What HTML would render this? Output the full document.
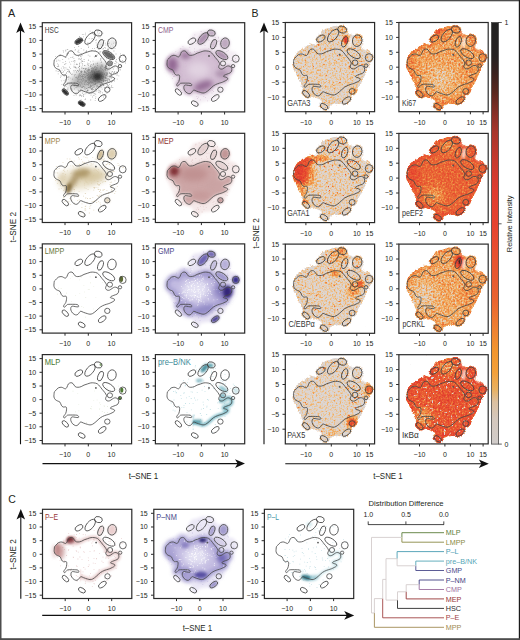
<!DOCTYPE html><html><head><meta charset="utf-8"><style>html,body{margin:0;padding:0;background:#fff;}svg{display:block;font-family:"Liberation Sans",sans-serif}</style></head><body>
<svg width="520" height="640" viewBox="0 0 520 640" font-family="Liberation Sans, sans-serif">
<defs>
<g id="ct" fill="none" stroke="#454545" stroke-width="0.8" color="#555"><path d="M11.7 40.0C11.8 39.2 11.8 38.1 12.0 37.5C12.2 36.9 12.3 37.0 13.0 36.3C13.7 35.6 14.9 33.9 16.0 33.3C17.1 32.7 18.4 32.6 19.5 32.7C20.6 32.9 22.0 34.2 22.9 34.2C23.8 34.2 24.2 33.3 24.7 32.5C25.2 31.7 25.4 30.1 26.0 29.4C26.6 28.7 27.8 28.2 28.6 28.1C29.4 28.0 30.0 28.4 30.7 29.0C31.4 29.6 32.1 31.4 32.9 32.0C33.7 32.6 34.5 32.7 35.5 32.7C36.5 32.7 37.9 32.4 38.9 32.0C39.9 31.6 40.7 30.9 41.7 30.5C42.7 30.1 43.9 29.8 45.0 29.4C46.1 29.0 47.4 28.5 48.5 28.3C49.6 28.1 50.4 28.2 51.5 28.3C52.6 28.4 54.0 28.6 55.0 29.2C56.0 29.8 56.7 30.8 57.5 31.7C58.3 32.6 59.1 33.8 59.9 34.8C60.7 35.8 61.7 36.8 62.4 37.8C63.1 38.8 64.0 40.1 64.2 40.9C64.4 41.7 63.8 42.2 63.6 42.8C63.5 43.4 63.1 44.0 63.3 44.6C63.5 45.2 64.1 45.9 64.8 46.2C65.5 46.5 66.5 46.5 67.3 46.2C68.1 45.9 69.0 45.1 69.8 44.6C70.6 44.1 71.4 43.4 72.2 43.3C73.0 43.1 74.0 43.3 74.7 43.7C75.4 44.1 76.0 44.7 76.2 45.5C76.5 46.3 76.5 47.5 76.2 48.3C76.0 49.1 75.5 49.7 74.7 50.2C73.9 50.7 72.6 51.0 71.6 51.4C70.6 51.8 69.4 52.2 68.8 52.6C68.2 53.0 67.9 53.5 68.2 53.8C68.5 54.1 69.7 54.2 70.4 54.5C71.1 54.8 72.0 55.0 72.2 55.4C72.5 55.8 72.3 56.4 71.9 56.9C71.5 57.4 70.6 57.8 69.8 58.2C69.0 58.6 68.0 59.1 67.3 59.4C66.6 59.7 66.3 59.7 65.5 60.0C64.7 60.3 63.5 60.5 62.3 61.0C61.0 61.5 59.4 62.2 58.0 63.2C56.6 64.2 55.0 66.0 53.7 67.1C52.4 68.2 51.2 69.2 50.2 69.7C49.2 70.2 48.5 70.3 47.6 70.3C46.7 70.3 46.1 70.0 45.0 69.7C43.9 69.4 42.2 68.8 41.1 68.4C40.0 68.0 39.1 67.3 38.5 67.3C37.9 67.3 37.7 67.9 37.2 68.4C36.7 68.9 36.1 70.1 35.5 70.5C34.9 70.9 34.2 71.2 33.3 71.0C32.4 70.8 31.1 70.0 30.3 69.2C29.5 68.4 28.9 67.1 28.6 66.2C28.3 65.3 28.4 64.2 28.6 63.6C28.8 63.0 29.2 62.4 29.9 62.3C30.6 62.1 31.9 62.6 32.9 62.7C33.9 62.8 35.3 63.1 35.9 63.0C36.5 62.9 36.5 62.3 36.3 61.9C36.1 61.5 35.9 60.9 34.6 60.6C33.3 60.4 30.2 60.4 28.6 60.4C27.0 60.4 25.9 60.4 25.1 60.6C24.3 60.9 24.3 61.5 23.8 61.9C23.3 62.3 22.5 63.2 22.1 63.3C21.7 63.4 21.2 62.8 21.2 62.3C21.2 61.8 21.7 61.2 22.1 60.6C22.5 60.0 23.0 59.7 23.4 58.8C23.8 57.9 24.1 56.5 24.2 55.4C24.3 54.3 24.4 52.9 23.8 52.4C23.2 51.9 21.6 52.7 20.8 52.4C20.0 52.1 19.5 51.4 19.0 50.6C18.5 49.8 18.3 48.3 17.7 47.6C17.1 46.9 15.9 46.7 15.1 46.3C14.3 45.9 13.6 45.6 13.0 45.0C12.4 44.4 11.9 43.3 11.7 42.5C11.5 41.7 11.6 40.8 11.7 40.0Z"/><ellipse cx="55.9" cy="10.3" rx="4.0" ry="3.0" transform="rotate(15 55.9 10.3)"/><ellipse cx="47.7" cy="15.8" rx="7.0" ry="3.5" transform="rotate(-50 47.7 15.8)"/><ellipse cx="36.5" cy="18.5" rx="4.3" ry="2.5" transform="rotate(-30 36.5 18.5)"/><ellipse cx="58.2" cy="21.5" rx="2.5" ry="5.0" transform="rotate(20 58.2 21.5)"/><ellipse cx="69.6" cy="20.5" rx="4.3" ry="5.3" transform="rotate(10 69.6 20.5)"/><ellipse cx="66.4" cy="32.4" rx="6.8" ry="3.2" transform="rotate(32 66.4 32.4)"/><ellipse cx="67.6" cy="40.7" rx="2.6" ry="2.5" transform="rotate(0 67.6 40.7)"/><ellipse cx="80.4" cy="36.0" rx="3.4" ry="3.6" transform="rotate(0 80.4 36.0)"/><ellipse cx="77.7" cy="43.4" rx="1.7" ry="1.6" transform="rotate(0 77.7 43.4)"/><ellipse cx="23.0" cy="69.3" rx="4.0" ry="2.1" transform="rotate(45 23.0 69.3)"/><ellipse cx="39.4" cy="80.9" rx="3.8" ry="2.2" transform="rotate(30 39.4 80.9)"/><ellipse cx="65.0" cy="67.0" rx="2.7" ry="2.6" transform="rotate(0 65.0 67.0)"/><ellipse cx="59.9" cy="75.3" rx="4.5" ry="2.3" transform="rotate(-35 59.9 75.3)"/><circle cx="53.6" cy="33.3" r="0.9" fill="currentColor" stroke="none"/></g>
<path id="cloud" d="M46.5 7.8C47.7 7.4 48.6 7.1 49.6 7.0C50.7 7.0 51.6 7.5 52.8 7.5C54.1 7.5 55.8 6.8 56.9 7.0C58.1 7.2 59.1 7.9 59.8 8.7C60.4 9.5 60.4 10.9 61.0 11.9C61.5 12.8 62.5 13.7 63.3 14.4C64.1 15.0 64.8 15.4 65.8 15.5C66.7 15.7 67.8 15.0 69.0 15.2C70.2 15.4 72.0 15.9 73.1 16.8C74.2 17.8 75.2 19.7 75.4 20.9C75.7 22.1 74.9 23.0 74.6 24.0C74.4 24.9 73.7 25.9 73.8 26.5C73.9 27.2 74.6 27.8 75.4 28.1C76.3 28.4 77.8 28.2 78.7 28.6C79.7 29.0 80.3 29.7 81.1 30.6C81.9 31.5 83.0 32.6 83.6 33.8C84.1 35.0 84.6 36.7 84.3 37.9C84.0 39.1 82.7 40.0 81.9 41.1C81.1 42.2 80.2 43.2 79.6 44.6C78.9 46.0 78.6 47.9 77.9 49.5C77.2 51.1 76.3 52.7 75.4 54.3C74.6 56.0 73.9 57.6 73.1 59.2C72.3 60.8 71.3 62.6 70.6 64.1C69.9 65.6 69.8 67.1 69.0 68.2C68.2 69.3 66.7 69.9 65.8 70.6C64.8 71.2 64.1 71.3 63.3 72.2C62.5 73.2 62.2 75.3 61.0 76.3C59.8 77.2 58.0 77.5 56.1 77.9C54.2 78.3 51.5 78.4 49.6 78.7C47.8 79.1 45.7 79.3 44.8 79.9C43.9 80.6 45.1 82.1 44.4 82.7C43.6 83.2 41.5 83.5 40.3 83.1C39.1 82.7 37.6 81.3 37.2 80.3C36.8 79.3 38.1 78.0 38.0 77.1C37.8 76.1 37.3 75.3 36.3 74.6C35.4 73.9 33.7 73.4 32.3 73.0C31.0 72.6 29.4 72.5 28.2 72.2C27.0 71.9 26.2 72.1 25.0 71.4C23.8 70.7 21.8 69.3 21.0 68.2C20.2 67.1 20.7 66.4 20.2 64.9C19.7 63.4 18.5 61.0 17.7 59.2C16.9 57.4 16.2 56.1 15.4 54.3C14.5 52.6 13.5 50.3 12.7 48.7C11.9 47.0 10.9 46.0 10.6 44.6C10.3 43.3 10.8 41.8 11.0 40.5C11.2 39.2 11.3 38.2 11.7 36.8C12.1 35.4 12.7 33.4 13.5 32.2C14.2 31.1 15.1 30.6 16.2 29.8C17.3 28.9 18.9 28.2 20.2 27.4C21.5 26.6 23.0 25.6 24.2 24.9C25.4 24.2 26.3 23.0 27.5 22.9C28.7 22.7 30.3 24.1 31.4 24.1C32.5 24.0 33.5 23.6 33.9 22.5C34.3 21.4 33.5 19.2 33.9 17.6C34.3 15.9 35.5 14.0 36.3 12.7C37.1 11.4 37.8 10.4 38.7 9.9C39.6 9.3 40.7 9.8 42.0 9.5C43.3 9.2 45.2 8.3 46.5 7.8Z"/>
<clipPath id="bodyclip"><path d="M11.7 40.0C11.8 39.2 11.8 38.1 12.0 37.5C12.2 36.9 12.3 37.0 13.0 36.3C13.7 35.6 14.9 33.9 16.0 33.3C17.1 32.7 18.4 32.6 19.5 32.7C20.6 32.9 22.0 34.2 22.9 34.2C23.8 34.2 24.2 33.3 24.7 32.5C25.2 31.7 25.4 30.1 26.0 29.4C26.6 28.7 27.8 28.2 28.6 28.1C29.4 28.0 30.0 28.4 30.7 29.0C31.4 29.6 32.1 31.4 32.9 32.0C33.7 32.6 34.5 32.7 35.5 32.7C36.5 32.7 37.9 32.4 38.9 32.0C39.9 31.6 40.7 30.9 41.7 30.5C42.7 30.1 43.9 29.8 45.0 29.4C46.1 29.0 47.4 28.5 48.5 28.3C49.6 28.1 50.4 28.2 51.5 28.3C52.6 28.4 54.0 28.6 55.0 29.2C56.0 29.8 56.7 30.8 57.5 31.7C58.3 32.6 59.1 33.8 59.9 34.8C60.7 35.8 61.7 36.8 62.4 37.8C63.1 38.8 64.0 40.1 64.2 40.9C64.4 41.7 63.8 42.2 63.6 42.8C63.5 43.4 63.1 44.0 63.3 44.6C63.5 45.2 64.1 45.9 64.8 46.2C65.5 46.5 66.5 46.5 67.3 46.2C68.1 45.9 69.0 45.1 69.8 44.6C70.6 44.1 71.4 43.4 72.2 43.3C73.0 43.1 74.0 43.3 74.7 43.7C75.4 44.1 76.0 44.7 76.2 45.5C76.5 46.3 76.5 47.5 76.2 48.3C76.0 49.1 75.5 49.7 74.7 50.2C73.9 50.7 72.6 51.0 71.6 51.4C70.6 51.8 69.4 52.2 68.8 52.6C68.2 53.0 67.9 53.5 68.2 53.8C68.5 54.1 69.7 54.2 70.4 54.5C71.1 54.8 72.0 55.0 72.2 55.4C72.5 55.8 72.3 56.4 71.9 56.9C71.5 57.4 70.6 57.8 69.8 58.2C69.0 58.6 68.0 59.1 67.3 59.4C66.6 59.7 66.3 59.7 65.5 60.0C64.7 60.3 63.5 60.5 62.3 61.0C61.0 61.5 59.4 62.2 58.0 63.2C56.6 64.2 55.0 66.0 53.7 67.1C52.4 68.2 51.2 69.2 50.2 69.7C49.2 70.2 48.5 70.3 47.6 70.3C46.7 70.3 46.1 70.0 45.0 69.7C43.9 69.4 42.2 68.8 41.1 68.4C40.0 68.0 39.1 67.3 38.5 67.3C37.9 67.3 37.7 67.9 37.2 68.4C36.7 68.9 36.1 70.1 35.5 70.5C34.9 70.9 34.2 71.2 33.3 71.0C32.4 70.8 31.1 70.0 30.3 69.2C29.5 68.4 28.9 67.1 28.6 66.2C28.3 65.3 28.4 64.2 28.6 63.6C28.8 63.0 29.2 62.4 29.9 62.3C30.6 62.1 31.9 62.6 32.9 62.7C33.9 62.8 35.3 63.1 35.9 63.0C36.5 62.9 36.5 62.3 36.3 61.9C36.1 61.5 35.9 60.9 34.6 60.6C33.3 60.4 30.2 60.4 28.6 60.4C27.0 60.4 25.9 60.4 25.1 60.6C24.3 60.9 24.3 61.5 23.8 61.9C23.3 62.3 22.5 63.2 22.1 63.3C21.7 63.4 21.2 62.8 21.2 62.3C21.2 61.8 21.7 61.2 22.1 60.6C22.5 60.0 23.0 59.7 23.4 58.8C23.8 57.9 24.1 56.5 24.2 55.4C24.3 54.3 24.4 52.9 23.8 52.4C23.2 51.9 21.6 52.7 20.8 52.4C20.0 52.1 19.5 51.4 19.0 50.6C18.5 49.8 18.3 48.3 17.7 47.6C17.1 46.9 15.9 46.7 15.1 46.3C14.3 45.9 13.6 45.6 13.0 45.0C12.4 44.4 11.9 43.3 11.7 42.5C11.5 41.7 11.6 40.8 11.7 40.0Z"/></clipPath>
<clipPath id="topclip"><polygon points="20,20 70,20 70,45 20,36"/></clipPath>
<clipPath id="lrclip"><polygon points="37,60 62,52 66,36 95,30 95,95 37,95"/></clipPath>
<clipPath id="pclip"><rect x="0" y="0" width="89.3" height="89.2"/></clipPath>
<filter id="b0_3" x="-100%" y="-100%" width="300%" height="300%"><feGaussianBlur stdDeviation="0.3"/></filter>
<filter id="b0_4" x="-100%" y="-100%" width="300%" height="300%"><feGaussianBlur stdDeviation="0.4"/></filter>
<filter id="b0_5" x="-100%" y="-100%" width="300%" height="300%"><feGaussianBlur stdDeviation="0.5"/></filter>
<filter id="b0_6" x="-100%" y="-100%" width="300%" height="300%"><feGaussianBlur stdDeviation="0.6"/></filter>
<filter id="b0_7" x="-100%" y="-100%" width="300%" height="300%"><feGaussianBlur stdDeviation="0.7"/></filter>
<filter id="b0_8" x="-100%" y="-100%" width="300%" height="300%"><feGaussianBlur stdDeviation="0.8"/></filter>
<filter id="b0_9" x="-100%" y="-100%" width="300%" height="300%"><feGaussianBlur stdDeviation="0.9"/></filter>
<filter id="b1" x="-100%" y="-100%" width="300%" height="300%"><feGaussianBlur stdDeviation="1"/></filter>
<filter id="b1_1" x="-100%" y="-100%" width="300%" height="300%"><feGaussianBlur stdDeviation="1.1"/></filter>
<filter id="b1_2" x="-100%" y="-100%" width="300%" height="300%"><feGaussianBlur stdDeviation="1.2"/></filter>
<filter id="b1_3" x="-100%" y="-100%" width="300%" height="300%"><feGaussianBlur stdDeviation="1.3"/></filter>
<filter id="b1_4" x="-100%" y="-100%" width="300%" height="300%"><feGaussianBlur stdDeviation="1.4"/></filter>
<filter id="b1_5" x="-100%" y="-100%" width="300%" height="300%"><feGaussianBlur stdDeviation="1.5"/></filter>
<filter id="b1_6" x="-100%" y="-100%" width="300%" height="300%"><feGaussianBlur stdDeviation="1.6"/></filter>
<filter id="b1_7" x="-100%" y="-100%" width="300%" height="300%"><feGaussianBlur stdDeviation="1.7"/></filter>
<filter id="b1_8" x="-100%" y="-100%" width="300%" height="300%"><feGaussianBlur stdDeviation="1.8"/></filter>
<filter id="b1_9" x="-100%" y="-100%" width="300%" height="300%"><feGaussianBlur stdDeviation="1.9"/></filter>
<filter id="b2" x="-100%" y="-100%" width="300%" height="300%"><feGaussianBlur stdDeviation="2"/></filter>
<filter id="b2_1" x="-100%" y="-100%" width="300%" height="300%"><feGaussianBlur stdDeviation="2.1"/></filter>
<filter id="b2_2" x="-100%" y="-100%" width="300%" height="300%"><feGaussianBlur stdDeviation="2.2"/></filter>
<filter id="b2_3" x="-100%" y="-100%" width="300%" height="300%"><feGaussianBlur stdDeviation="2.3"/></filter>
<filter id="b2_4" x="-100%" y="-100%" width="300%" height="300%"><feGaussianBlur stdDeviation="2.4"/></filter>
<filter id="b2_5" x="-100%" y="-100%" width="300%" height="300%"><feGaussianBlur stdDeviation="2.5"/></filter>
<filter id="b2_6" x="-100%" y="-100%" width="300%" height="300%"><feGaussianBlur stdDeviation="2.6"/></filter>
<filter id="b2_7" x="-100%" y="-100%" width="300%" height="300%"><feGaussianBlur stdDeviation="2.7"/></filter>
<filter id="b2_8" x="-100%" y="-100%" width="300%" height="300%"><feGaussianBlur stdDeviation="2.8"/></filter>
<filter id="b2_9" x="-100%" y="-100%" width="300%" height="300%"><feGaussianBlur stdDeviation="2.9"/></filter>
<filter id="b3" x="-100%" y="-100%" width="300%" height="300%"><feGaussianBlur stdDeviation="3"/></filter>
<filter id="b3_1" x="-100%" y="-100%" width="300%" height="300%"><feGaussianBlur stdDeviation="3.1"/></filter>
<filter id="b3_2" x="-100%" y="-100%" width="300%" height="300%"><feGaussianBlur stdDeviation="3.2"/></filter>
<filter id="b3_3" x="-100%" y="-100%" width="300%" height="300%"><feGaussianBlur stdDeviation="3.3"/></filter>
<filter id="b3_4" x="-100%" y="-100%" width="300%" height="300%"><feGaussianBlur stdDeviation="3.4"/></filter>
<filter id="b3_5" x="-100%" y="-100%" width="300%" height="300%"><feGaussianBlur stdDeviation="3.5"/></filter>
<filter id="b3_6" x="-100%" y="-100%" width="300%" height="300%"><feGaussianBlur stdDeviation="3.6"/></filter>
<filter id="b3_7" x="-100%" y="-100%" width="300%" height="300%"><feGaussianBlur stdDeviation="3.7"/></filter>
<filter id="b3_8" x="-100%" y="-100%" width="300%" height="300%"><feGaussianBlur stdDeviation="3.8"/></filter>
<filter id="b3_9" x="-100%" y="-100%" width="300%" height="300%"><feGaussianBlur stdDeviation="3.9"/></filter>
<filter id="b4" x="-100%" y="-100%" width="300%" height="300%"><feGaussianBlur stdDeviation="4"/></filter>
<filter id="b4_1" x="-100%" y="-100%" width="300%" height="300%"><feGaussianBlur stdDeviation="4.1"/></filter>
<filter id="b4_2" x="-100%" y="-100%" width="300%" height="300%"><feGaussianBlur stdDeviation="4.2"/></filter>
<filter id="b4_3" x="-100%" y="-100%" width="300%" height="300%"><feGaussianBlur stdDeviation="4.3"/></filter>
<filter id="b4_4" x="-100%" y="-100%" width="300%" height="300%"><feGaussianBlur stdDeviation="4.4"/></filter>
<filter id="b4_5" x="-100%" y="-100%" width="300%" height="300%"><feGaussianBlur stdDeviation="4.5"/></filter>
<filter id="b4_6" x="-100%" y="-100%" width="300%" height="300%"><feGaussianBlur stdDeviation="4.6"/></filter>
<filter id="b4_7" x="-100%" y="-100%" width="300%" height="300%"><feGaussianBlur stdDeviation="4.7"/></filter>
<filter id="b4_8" x="-100%" y="-100%" width="300%" height="300%"><feGaussianBlur stdDeviation="4.8"/></filter>
<filter id="b4_9" x="-100%" y="-100%" width="300%" height="300%"><feGaussianBlur stdDeviation="4.9"/></filter>
<filter id="b5" x="-100%" y="-100%" width="300%" height="300%"><feGaussianBlur stdDeviation="5"/></filter>
<filter id="b5_1" x="-100%" y="-100%" width="300%" height="300%"><feGaussianBlur stdDeviation="5.1"/></filter>
<filter id="b5_2" x="-100%" y="-100%" width="300%" height="300%"><feGaussianBlur stdDeviation="5.2"/></filter>
<filter id="b5_3" x="-100%" y="-100%" width="300%" height="300%"><feGaussianBlur stdDeviation="5.3"/></filter>
<filter id="b5_4" x="-100%" y="-100%" width="300%" height="300%"><feGaussianBlur stdDeviation="5.4"/></filter>
<filter id="b5_5" x="-100%" y="-100%" width="300%" height="300%"><feGaussianBlur stdDeviation="5.5"/></filter>
<filter id="b5_6" x="-100%" y="-100%" width="300%" height="300%"><feGaussianBlur stdDeviation="5.6"/></filter>
<filter id="b5_7" x="-100%" y="-100%" width="300%" height="300%"><feGaussianBlur stdDeviation="5.7"/></filter>
<filter id="b5_8" x="-100%" y="-100%" width="300%" height="300%"><feGaussianBlur stdDeviation="5.8"/></filter>
<filter id="b5_9" x="-100%" y="-100%" width="300%" height="300%"><feGaussianBlur stdDeviation="5.9"/></filter>
<filter id="b6" x="-100%" y="-100%" width="300%" height="300%"><feGaussianBlur stdDeviation="6"/></filter>
<clipPath id="cclip"><path d="M46.5 4.4C47.9 4.0 48.8 3.6 50.0 3.5C51.2 3.4 52.2 4.0 53.5 4.0C54.8 4.0 56.7 3.3 58.0 3.5C59.3 3.7 60.4 4.4 61.1 5.3C61.8 6.2 61.8 7.8 62.4 8.8C63.0 9.8 64.1 10.8 65.0 11.5C65.9 12.2 66.7 12.7 67.7 12.8C68.7 13.0 69.9 12.2 71.2 12.4C72.5 12.6 74.5 13.2 75.7 14.2C76.9 15.2 78.0 17.3 78.3 18.6C78.6 19.9 77.7 21.0 77.4 22.0C77.1 23.0 76.3 24.1 76.5 24.8C76.7 25.6 77.4 26.1 78.3 26.5C79.2 26.9 80.9 26.6 81.9 27.0C82.9 27.4 83.6 28.2 84.5 29.2C85.4 30.1 86.6 31.4 87.2 32.7C87.8 34.0 88.3 35.9 88.0 37.2C87.7 38.5 86.3 39.5 85.4 40.7C84.5 41.9 83.5 43.0 82.8 44.5C82.1 46.0 81.8 48.0 81.0 49.8C80.2 51.6 79.2 53.3 78.3 55.1C77.4 56.9 76.6 58.6 75.7 60.4C74.8 62.2 73.8 64.1 73.0 65.7C72.2 67.3 72.1 69.0 71.2 70.2C70.3 71.4 68.7 72.1 67.7 72.8C66.7 73.5 65.9 73.6 65.0 74.6C64.1 75.6 63.7 78.0 62.4 79.0C61.1 80.0 59.2 80.3 57.1 80.8C55.0 81.2 52.1 81.3 50.0 81.7C47.9 82.1 45.7 82.3 44.7 83.0C43.7 83.7 45.0 85.4 44.2 86.0C43.4 86.6 41.1 86.9 39.8 86.5C38.5 86.1 36.7 84.5 36.3 83.4C35.9 82.3 37.4 80.9 37.2 79.9C37.1 78.9 36.4 77.9 35.4 77.2C34.4 76.5 32.5 75.9 31.0 75.5C29.5 75.1 27.8 74.9 26.5 74.6C25.2 74.3 24.3 74.4 23.0 73.7C21.7 73.0 19.5 71.4 18.6 70.2C17.7 69.0 18.3 68.2 17.7 66.6C17.1 65.0 15.9 62.3 15.0 60.4C14.1 58.5 13.3 57.0 12.4 55.1C11.5 53.2 10.4 50.7 9.5 48.9C8.6 47.1 7.5 46.0 7.2 44.5C6.9 43.0 7.4 41.4 7.6 40.0C7.8 38.6 8.0 37.5 8.4 36.0C8.9 34.5 9.5 32.3 10.3 31.0C11.1 29.7 12.1 29.2 13.3 28.3C14.5 27.4 16.2 26.6 17.7 25.7C19.2 24.8 20.8 23.8 22.1 23.0C23.4 22.2 24.4 20.9 25.7 20.8C27.0 20.7 28.8 22.2 30.0 22.1C31.2 22.0 32.2 21.6 32.7 20.4C33.2 19.2 32.2 16.8 32.7 15.0C33.2 13.2 34.5 11.1 35.4 9.7C36.3 8.3 37.0 7.2 38.0 6.6C39.0 6.0 40.2 6.6 41.6 6.2C43.0 5.8 45.1 4.9 46.5 4.4Z"/><ellipse cx="56.9" cy="7.1" rx="5.7" ry="4.6" transform="rotate(15 56.9 7.1)"/><ellipse cx="47.9" cy="13.1" rx="9.0" ry="5.1" transform="rotate(-50 47.9 13.1)"/><ellipse cx="35.6" cy="16.0" rx="6.0" ry="4.0" transform="rotate(-30 35.6 16.0)"/><ellipse cx="59.4" cy="19.3" rx="4.0" ry="6.8" transform="rotate(20 59.4 19.3)"/><ellipse cx="71.9" cy="18.2" rx="6.0" ry="7.1" transform="rotate(10 71.9 18.2)"/><ellipse cx="68.4" cy="31.2" rx="8.7" ry="4.8" transform="rotate(32 68.4 31.2)"/><ellipse cx="69.7" cy="40.2" rx="4.1" ry="4.0" transform="rotate(0 69.7 40.2)"/><ellipse cx="83.7" cy="35.1" rx="5.0" ry="5.2" transform="rotate(0 83.7 35.1)"/><ellipse cx="80.8" cy="43.2" rx="3.2" ry="3.0" transform="rotate(0 80.8 43.2)"/><ellipse cx="20.8" cy="71.4" rx="5.7" ry="3.6" transform="rotate(45 20.8 71.4)"/><ellipse cx="38.8" cy="84.1" rx="5.5" ry="3.7" transform="rotate(30 38.8 84.1)"/><ellipse cx="66.8" cy="68.9" rx="4.3" ry="4.1" transform="rotate(0 66.8 68.9)"/><ellipse cx="61.2" cy="78.0" rx="6.2" ry="3.8" transform="rotate(-35 61.2 78.0)"/></clipPath>
<filter id="hm" x="0" y="0" width="100%" height="100%" color-interpolation-filters="sRGB"><feTurbulence type="fractalNoise" baseFrequency="0.55" numOctaves="2" seed="4" result="n"/><feColorMatrix in="n" type="matrix" values="1 0 0 0 0 1 0 0 0 0 1 0 0 0 0 0 0 0 0 1" result="ng"/><feComposite in="SourceGraphic" in2="ng" operator="arithmetic" k2="1" k3="0.50" k4="-0.250" result="s"/><feComponentTransfer in="s" result="c0"><feFuncR type="table" tableValues="0.855 0.871 0.886 0.906 0.925 0.933 0.941 0.945 0.949 0.943 0.938 0.932 0.925 0.918 0.913 0.912 0.912 0.911 0.910 0.907 0.904 0.900 0.893 0.886 0.878 0.845 0.811 0.775 0.731 0.686 0.634 0.572 0.510 0.412 0.314 0.243 0.191 0.148 0.143 0.138 0.133"/><feFuncG type="table" tableValues="0.843 0.829 0.816 0.796 0.776 0.741 0.706 0.667 0.627 0.587 0.546 0.506 0.465 0.424 0.392 0.373 0.353 0.333 0.314 0.296 0.277 0.261 0.252 0.244 0.235 0.232 0.230 0.226 0.221 0.215 0.207 0.193 0.180 0.164 0.148 0.139 0.136 0.133 0.133 0.133 0.133"/><feFuncB type="table" tableValues="0.843 0.802 0.761 0.675 0.588 0.518 0.447 0.380 0.314 0.289 0.263 0.241 0.230 0.218 0.210 0.204 0.199 0.194 0.188 0.187 0.185 0.185 0.186 0.187 0.188 0.185 0.183 0.180 0.177 0.174 0.169 0.159 0.149 0.136 0.123 0.122 0.128 0.133 0.133 0.133 0.133"/></feComponentTransfer><feMerge result="c"><feMergeNode in="c0"/></feMerge><feGaussianBlur in="SourceAlpha" stdDeviation="1.4" result="ab"/><feColorMatrix in="n" type="matrix" values="0 0 0 0 0 0 0 0 0 0 0 0 0 0 0 0 1 0 0 0" result="na"/><feComposite in="ab" in2="na" operator="arithmetic" k2="1" k3="1.2" k4="-0.6" result="ar"/><feComponentTransfer in="ar" result="am"><feFuncA type="linear" slope="6" intercept="-2.4"/></feComponentTransfer><feComposite in="c" in2="am" operator="in"/></filter>
<filter id="hmr" x="0" y="0" width="100%" height="100%" color-interpolation-filters="sRGB"><feTurbulence type="fractalNoise" baseFrequency="0.55" numOctaves="2" seed="4" result="n"/><feColorMatrix in="n" type="matrix" values="1 0 0 0 0 1 0 0 0 0 1 0 0 0 0 0 0 0 0 1" result="ng"/><feComposite in="SourceGraphic" in2="ng" operator="arithmetic" k2="1" k3="0.70" k4="-0.350" result="s"/><feComponentTransfer in="s" result="c0"><feFuncR type="table" tableValues="0.855 0.871 0.886 0.906 0.925 0.933 0.941 0.945 0.949 0.943 0.938 0.932 0.925 0.918 0.913 0.912 0.912 0.911 0.910 0.907 0.904 0.900 0.893 0.886 0.878 0.845 0.811 0.775 0.731 0.686 0.634 0.572 0.510 0.412 0.314 0.243 0.191 0.148 0.143 0.138 0.133"/><feFuncG type="table" tableValues="0.843 0.829 0.816 0.796 0.776 0.741 0.706 0.667 0.627 0.587 0.546 0.506 0.465 0.424 0.392 0.373 0.353 0.333 0.314 0.296 0.277 0.261 0.252 0.244 0.235 0.232 0.230 0.226 0.221 0.215 0.207 0.193 0.180 0.164 0.148 0.139 0.136 0.133 0.133 0.133 0.133"/><feFuncB type="table" tableValues="0.843 0.802 0.761 0.675 0.588 0.518 0.447 0.380 0.314 0.289 0.263 0.241 0.230 0.218 0.210 0.204 0.199 0.194 0.188 0.187 0.185 0.185 0.186 0.187 0.188 0.185 0.183 0.180 0.177 0.174 0.169 0.159 0.149 0.136 0.123 0.122 0.128 0.133 0.133 0.133 0.133"/></feComponentTransfer><feTurbulence type="fractalNoise" baseFrequency="0.4" numOctaves="2" seed="9" result="n2"/><feColorMatrix in="n2" type="matrix" values="0 0 0 0 0 0 0 0 0 0 0 0 0 0 0 1 0 0 0 0" result="nb"/><feComponentTransfer in="nb" result="gm"><feFuncA type="linear" slope="12" intercept="-8.04"/></feComponentTransfer><feFlood flood-color="#dcd9d9" result="gf"/><feComposite in="gf" in2="gm" operator="in" result="gp"/><feMerge result="c"><feMergeNode in="c0"/><feMergeNode in="gp"/></feMerge><feGaussianBlur in="SourceAlpha" stdDeviation="1.4" result="ab"/><feColorMatrix in="n" type="matrix" values="0 0 0 0 0 0 0 0 0 0 0 0 0 0 0 0 1 0 0 0" result="na"/><feComposite in="ab" in2="na" operator="arithmetic" k2="1" k3="1.2" k4="-0.6" result="ar"/><feComponentTransfer in="ar" result="am"><feFuncA type="linear" slope="6" intercept="-2.4"/></feComponentTransfer><feComposite in="c" in2="am" operator="in"/></filter>
</defs>
<rect width="520" height="640" fill="#fff"/>
<rect x="0" y="0" width="1.5" height="640" fill="#4d4d4d"/><rect x="0" y="0" width="520" height="1.3" fill="#4d4d4d"/>
<rect x="518.8" y="0" width="1.2" height="640" fill="#1a1a1a"/><rect x="0" y="638.2" width="520" height="1.8" fill="#4d4d4d"/>
<text x="7.9" y="17.0" font-size="10.80" fill="#231f20">A</text>
<text x="251.6" y="16.7" font-size="10.50" fill="#231f20">B</text>
<text x="8.2" y="503.1" font-size="10.50" fill="#231f20">C</text>
<g transform="translate(42.3 22.7)"><g clip-path="url(#pclip)"><path d="M43.5 52.6h0.8v0.8h-0.8zM48.2 54.9h0.8v0.8h-0.8zM20.7 48.5h0.8v0.8h-0.8zM58.5 72.4h0.8v0.8h-0.8zM60.6 57.3h0.8v0.8h-0.8zM49.9 10.1h0.8v0.8h-0.8zM42.4 76.6h0.8v0.8h-0.8zM49.1 59.4h0.8v0.8h-0.8zM47.5 61.3h0.8v0.8h-0.8zM43.9 28.6h0.8v0.8h-0.8zM31.8 24.5h0.8v0.8h-0.8zM70.1 39.0h0.8v0.8h-0.8zM77.0 37.9h0.8v0.8h-0.8zM71.2 27.9h0.8v0.8h-0.8zM72.7 20.1h0.8v0.8h-0.8zM52.5 43.0h0.8v0.8h-0.8zM21.2 67.2h0.8v0.8h-0.8zM14.9 40.8h0.8v0.8h-0.8zM23.1 27.9h0.8v0.8h-0.8zM22.9 38.5h0.8v0.8h-0.8zM23.1 27.0h0.8v0.8h-0.8zM70.7 33.0h0.8v0.8h-0.8zM25.7 56.1h0.8v0.8h-0.8zM36.6 43.5h0.8v0.8h-0.8zM40.8 13.8h0.8v0.8h-0.8zM25.3 64.9h0.8v0.8h-0.8zM55.7 29.9h0.8v0.8h-0.8zM52.5 77.5h0.8v0.8h-0.8zM57.2 28.8h0.8v0.8h-0.8zM42.9 10.1h0.8v0.8h-0.8zM20.0 36.3h0.8v0.8h-0.8zM53.6 16.2h0.8v0.8h-0.8zM63.8 54.7h0.8v0.8h-0.8zM46.0 67.1h0.8v0.8h-0.8zM67.7 64.8h0.8v0.8h-0.8zM34.9 63.2h0.8v0.8h-0.8zM40.5 72.2h0.8v0.8h-0.8zM58.1 37.5h0.8v0.8h-0.8zM54.5 56.8h0.8v0.8h-0.8zM66.9 38.0h0.8v0.8h-0.8zM67.5 54.4h0.8v0.8h-0.8zM42.4 76.3h0.8v0.8h-0.8zM45.9 24.6h0.8v0.8h-0.8zM64.4 47.3h0.8v0.8h-0.8zM30.6 62.6h0.8v0.8h-0.8zM42.6 80.8h0.8v0.8h-0.8zM32.8 61.6h0.8v0.8h-0.8zM21.9 41.6h0.8v0.8h-0.8zM79.8 37.7h0.8v0.8h-0.8zM54.6 31.9h0.8v0.8h-0.8zM16.6 47.2h0.8v0.8h-0.8zM43.3 28.4h0.8v0.8h-0.8zM23.2 40.2h0.8v0.8h-0.8zM58.2 47.0h0.8v0.8h-0.8zM65.2 53.5h0.8v0.8h-0.8zM31.3 72.3h0.8v0.8h-0.8zM58.5 43.0h0.8v0.8h-0.8zM58.5 60.7h0.8v0.8h-0.8zM63.2 21.9h0.8v0.8h-0.8zM45.4 20.2h0.8v0.8h-0.8zM65.7 20.2h0.8v0.8h-0.8zM28.2 34.4h0.8v0.8h-0.8zM64.3 49.2h0.8v0.8h-0.8zM57.2 69.3h0.8v0.8h-0.8zM38.4 72.3h0.8v0.8h-0.8zM16.0 43.6h0.8v0.8h-0.8zM37.0 53.3h0.8v0.8h-0.8zM60.4 22.4h0.8v0.8h-0.8zM59.5 66.0h0.8v0.8h-0.8zM50.6 72.2h0.8v0.8h-0.8zM77.7 34.6h0.8v0.8h-0.8zM12.0 42.5h0.8v0.8h-0.8zM51.8 70.3h0.8v0.8h-0.8zM73.0 19.7h0.8v0.8h-0.8zM33.5 72.0h0.8v0.8h-0.8zM48.9 66.5h0.8v0.8h-0.8zM23.8 49.8h0.8v0.8h-0.8zM29.7 67.0h0.8v0.8h-0.8zM59.3 49.4h0.8v0.8h-0.8zM31.5 37.4h0.8v0.8h-0.8zM53.7 22.1h0.8v0.8h-0.8zM50.6 47.8h0.8v0.8h-0.8zM56.4 7.4h0.8v0.8h-0.8zM39.0 73.1h0.8v0.8h-0.8zM52.8 46.7h0.8v0.8h-0.8zM50.8 40.2h0.8v0.8h-0.8zM27.9 45.2h0.8v0.8h-0.8zM15.8 41.9h0.8v0.8h-0.8zM45.5 32.0h0.8v0.8h-0.8zM21.3 57.5h0.8v0.8h-0.8zM63.4 32.4h0.8v0.8h-0.8zM35.2 57.7h0.8v0.8h-0.8zM15.4 48.4h0.8v0.8h-0.8zM50.1 42.1h0.8v0.8h-0.8zM36.9 40.1h0.8v0.8h-0.8zM50.0 18.6h0.8v0.8h-0.8zM22.4 58.7h0.8v0.8h-0.8zM59.3 50.0h0.8v0.8h-0.8zM81.7 31.8h0.8v0.8h-0.8zM25.3 66.8h0.8v0.8h-0.8zM75.7 40.8h0.8v0.8h-0.8zM39.2 63.2h0.8v0.8h-0.8zM48.0 69.4h0.8v0.8h-0.8zM47.7 63.3h0.8v0.8h-0.8zM51.9 48.8h0.8v0.8h-0.8zM53.3 17.5h0.8v0.8h-0.8zM44.3 70.0h0.8v0.8h-0.8zM32.8 44.7h0.8v0.8h-0.8zM48.8 41.6h0.8v0.8h-0.8zM20.4 43.6h0.8v0.8h-0.8zM67.8 39.5h0.8v0.8h-0.8zM58.5 39.4h0.8v0.8h-0.8zM56.0 47.9h0.8v0.8h-0.8zM74.2 39.5h0.8v0.8h-0.8zM64.1 70.2h0.8v0.8h-0.8zM70.0 39.5h0.8v0.8h-0.8zM34.0 44.9h0.8v0.8h-0.8zM59.3 58.0h0.8v0.8h-0.8zM61.6 33.7h0.8v0.8h-0.8zM61.1 53.4h0.8v0.8h-0.8zM50.3 38.1h0.8v0.8h-0.8zM64.6 69.7h0.8v0.8h-0.8zM57.3 67.8h0.8v0.8h-0.8zM26.8 39.1h0.8v0.8h-0.8zM36.9 13.4h0.8v0.8h-0.8zM51.8 48.2h0.8v0.8h-0.8zM55.8 69.5h0.8v0.8h-0.8zM18.6 45.1h0.8v0.8h-0.8zM19.4 47.1h0.8v0.8h-0.8zM56.9 10.0h0.8v0.8h-0.8zM49.8 55.8h0.8v0.8h-0.8zM36.1 29.3h0.8v0.8h-0.8zM60.7 52.7h0.8v0.8h-0.8zM29.1 65.9h0.8v0.8h-0.8zM41.5 45.6h0.8v0.8h-0.8zM66.4 44.8h0.8v0.8h-0.8zM56.3 14.8h0.8v0.8h-0.8zM58.1 43.7h0.8v0.8h-0.8zM49.9 15.6h0.8v0.8h-0.8zM42.6 61.8h0.8v0.8h-0.8zM43.7 27.3h0.8v0.8h-0.8zM54.5 40.7h0.8v0.8h-0.8zM71.1 50.1h0.8v0.8h-0.8zM67.4 25.3h0.8v0.8h-0.8zM71.7 58.1h0.8v0.8h-0.8zM35.5 28.1h0.8v0.8h-0.8zM63.2 53.0h0.8v0.8h-0.8zM55.3 58.8h0.8v0.8h-0.8zM69.0 21.1h0.8v0.8h-0.8zM28.0 41.1h0.8v0.8h-0.8zM58.0 13.7h0.8v0.8h-0.8zM51.0 11.2h0.8v0.8h-0.8zM51.8 58.6h0.8v0.8h-0.8zM36.7 45.7h0.8v0.8h-0.8zM22.9 34.2h0.8v0.8h-0.8zM70.3 23.1h0.8v0.8h-0.8zM41.1 26.9h0.8v0.8h-0.8zM73.8 36.4h0.8v0.8h-0.8zM32.7 51.6h0.8v0.8h-0.8zM41.4 36.4h0.8v0.8h-0.8zM53.0 46.2h0.8v0.8h-0.8zM63.3 30.4h0.8v0.8h-0.8zM23.1 61.3h0.8v0.8h-0.8zM66.6 64.0h0.8v0.8h-0.8zM35.4 66.7h0.8v0.8h-0.8zM36.1 15.0h0.8v0.8h-0.8zM65.3 53.4h0.8v0.8h-0.8zM73.3 30.9h0.8v0.8h-0.8zM32.0 39.0h0.8v0.8h-0.8zM26.1 35.7h0.8v0.8h-0.8zM36.1 35.9h0.8v0.8h-0.8zM38.6 37.9h0.8v0.8h-0.8zM21.6 52.9h0.8v0.8h-0.8zM72.8 50.9h0.8v0.8h-0.8zM76.1 52.8h0.8v0.8h-0.8zM51.3 53.2h0.8v0.8h-0.8zM51.5 72.0h0.8v0.8h-0.8zM60.2 25.9h0.8v0.8h-0.8zM23.7 70.1h0.8v0.8h-0.8zM49.3 70.0h0.8v0.8h-0.8zM38.5 33.7h0.8v0.8h-0.8zM47.0 50.7h0.8v0.8h-0.8zM66.3 65.2h0.8v0.8h-0.8zM82.8 39.9h0.8v0.8h-0.8zM49.5 65.4h0.8v0.8h-0.8zM73.2 40.8h0.8v0.8h-0.8zM40.7 17.4h0.8v0.8h-0.8zM36.9 19.3h0.8v0.8h-0.8zM22.4 41.1h0.8v0.8h-0.8zM71.0 20.3h0.8v0.8h-0.8zM25.0 66.0h0.8v0.8h-0.8zM55.6 24.0h0.8v0.8h-0.8zM20.7 28.9h0.8v0.8h-0.8zM31.5 51.6h0.8v0.8h-0.8zM74.5 45.8h0.8v0.8h-0.8zM82.7 34.1h0.8v0.8h-0.8zM46.0 23.8h0.8v0.8h-0.8zM73.1 37.7h0.8v0.8h-0.8zM49.8 48.8h0.8v0.8h-0.8zM60.9 25.2h0.8v0.8h-0.8zM36.6 72.7h0.8v0.8h-0.8zM65.6 56.5h0.8v0.8h-0.8zM32.4 27.1h0.8v0.8h-0.8zM27.7 50.4h0.8v0.8h-0.8zM45.8 44.8h0.8v0.8h-0.8zM77.9 30.8h0.8v0.8h-0.8zM72.1 40.4h0.8v0.8h-0.8zM51.2 49.7h0.8v0.8h-0.8zM31.5 31.4h0.8v0.8h-0.8zM44.7 65.8h0.8v0.8h-0.8zM35.6 63.4h0.8v0.8h-0.8zM14.0 38.5h0.8v0.8h-0.8zM65.4 25.2h0.8v0.8h-0.8zM52.9 43.9h0.8v0.8h-0.8zM73.0 22.6h0.8v0.8h-0.8zM57.4 29.7h0.8v0.8h-0.8zM37.0 50.9h0.8v0.8h-0.8zM30.3 33.7h0.8v0.8h-0.8zM38.3 61.7h0.8v0.8h-0.8zM67.2 33.0h0.8v0.8h-0.8zM66.5 33.2h0.8v0.8h-0.8zM62.6 65.2h0.8v0.8h-0.8zM20.3 39.2h0.8v0.8h-0.8zM39.6 11.2h0.8v0.8h-0.8zM48.5 60.0h0.8v0.8h-0.8zM37.8 33.2h0.8v0.8h-0.8zM39.1 64.5h0.8v0.8h-0.8zM61.1 56.7h0.8v0.8h-0.8zM34.1 60.3h0.8v0.8h-0.8zM14.0 37.1h0.8v0.8h-0.8zM48.3 72.0h0.8v0.8h-0.8zM35.0 47.5h0.8v0.8h-0.8zM58.3 21.8h0.8v0.8h-0.8zM54.0 64.3h0.8v0.8h-0.8zM35.7 44.4h0.8v0.8h-0.8zM51.2 52.7h0.8v0.8h-0.8zM52.6 27.5h0.8v0.8h-0.8zM74.5 56.1h0.8v0.8h-0.8zM25.5 53.8h0.8v0.8h-0.8zM51.6 11.5h0.8v0.8h-0.8zM61.0 31.2h0.8v0.8h-0.8zM62.1 67.7h0.8v0.8h-0.8zM37.4 55.3h0.8v0.8h-0.8zM22.0 44.8h0.8v0.8h-0.8zM17.2 37.8h0.8v0.8h-0.8zM53.4 19.8h0.8v0.8h-0.8zM49.2 27.4h0.8v0.8h-0.8zM53.3 33.2h0.8v0.8h-0.8zM62.0 17.3h0.8v0.8h-0.8zM44.9 40.0h0.8v0.8h-0.8zM58.0 63.6h0.8v0.8h-0.8zM39.8 41.9h0.8v0.8h-0.8zM49.7 49.6h0.8v0.8h-0.8zM41.7 81.9h0.8v0.8h-0.8zM67.2 55.8h0.8v0.8h-0.8zM68.9 30.9h0.8v0.8h-0.8zM55.4 10.9h0.8v0.8h-0.8zM15.6 43.0h0.8v0.8h-0.8zM47.7 38.7h0.8v0.8h-0.8zM49.7 25.3h0.8v0.8h-0.8zM31.0 38.6h0.8v0.8h-0.8zM40.8 73.4h0.8v0.8h-0.8zM23.9 68.5h0.8v0.8h-0.8zM15.5 50.7h0.8v0.8h-0.8zM25.7 30.4h0.8v0.8h-0.8zM38.8 35.3h0.8v0.8h-0.8zM54.8 8.9h0.8v0.8h-0.8zM31.2 47.4h0.8v0.8h-0.8zM45.2 22.6h0.8v0.8h-0.8zM76.2 35.1h0.8v0.8h-0.8zM45.2 19.6h0.8v0.8h-0.8zM22.2 58.8h0.8v0.8h-0.8zM66.7 31.6h0.8v0.8h-0.8zM65.6 16.5h0.8v0.8h-0.8zM42.8 11.7h0.8v0.8h-0.8zM24.0 31.1h0.8v0.8h-0.8zM65.4 21.7h0.8v0.8h-0.8zM61.5 72.2h0.8v0.8h-0.8zM36.7 61.3h0.8v0.8h-0.8zM24.5 30.6h0.8v0.8h-0.8zM28.5 59.4h0.8v0.8h-0.8zM42.4 49.9h0.8v0.8h-0.8zM50.1 8.9h0.8v0.8h-0.8zM56.0 29.2h0.8v0.8h-0.8zM69.2 25.9h0.8v0.8h-0.8zM28.7 51.6h0.8v0.8h-0.8zM44.2 68.8h0.8v0.8h-0.8zM47.5 20.3h0.8v0.8h-0.8zM52.3 59.8h0.8v0.8h-0.8zM35.6 61.0h0.8v0.8h-0.8zM71.6 48.9h0.8v0.8h-0.8zM48.0 76.9h0.8v0.8h-0.8zM63.2 49.2h0.8v0.8h-0.8zM71.3 19.0h0.8v0.8h-0.8zM56.7 25.0h0.8v0.8h-0.8zM42.4 70.7h0.8v0.8h-0.8zM25.1 46.6h0.8v0.8h-0.8zM23.8 54.3h0.8v0.8h-0.8zM47.4 8.0h0.8v0.8h-0.8zM55.7 65.8h0.8v0.8h-0.8zM41.9 42.5h0.8v0.8h-0.8zM53.4 51.2h0.8v0.8h-0.8zM72.3 25.2h0.8v0.8h-0.8zM17.4 31.4h0.8v0.8h-0.8zM57.8 49.7h0.8v0.8h-0.8zM27.5 55.0h0.8v0.8h-0.8zM36.0 23.4h0.8v0.8h-0.8zM46.6 69.7h0.8v0.8h-0.8zM43.7 68.3h0.8v0.8h-0.8zM38.4 30.3h0.8v0.8h-0.8zM41.1 11.5h0.8v0.8h-0.8zM24.5 26.5h0.8v0.8h-0.8zM51.9 25.5h0.8v0.8h-0.8zM35.9 33.6h0.8v0.8h-0.8zM60.2 10.0h0.8v0.8h-0.8zM34.2 64.0h0.8v0.8h-0.8zM38.4 76.7h0.8v0.8h-0.8zM37.4 71.4h0.8v0.8h-0.8zM23.3 34.5h0.8v0.8h-0.8zM20.6 51.7h0.8v0.8h-0.8zM23.2 44.8h0.8v0.8h-0.8zM31.2 43.0h0.8v0.8h-0.8zM63.8 35.8h0.8v0.8h-0.8zM20.5 27.3h0.8v0.8h-0.8zM65.8 27.8h0.8v0.8h-0.8zM35.7 18.0h0.8v0.8h-0.8zM32.4 37.7h0.8v0.8h-0.8zM32.6 70.5h0.8v0.8h-0.8zM49.1 9.7h0.8v0.8h-0.8zM38.5 25.3h0.8v0.8h-0.8zM55.6 7.7h0.8v0.8h-0.8zM31.5 41.0h0.8v0.8h-0.8zM51.2 16.6h0.8v0.8h-0.8zM65.1 27.1h0.8v0.8h-0.8zM66.7 61.6h0.8v0.8h-0.8zM28.8 65.6h0.8v0.8h-0.8zM39.5 37.9h0.8v0.8h-0.8zM29.8 34.3h0.8v0.8h-0.8zM53.1 73.7h0.8v0.8h-0.8zM23.4 63.6h0.8v0.8h-0.8zM58.8 12.6h0.8v0.8h-0.8zM41.4 38.4h0.8v0.8h-0.8zM32.9 47.3h0.8v0.8h-0.8zM39.2 45.4h0.8v0.8h-0.8zM19.2 61.5h0.8v0.8h-0.8zM34.1 40.9h0.8v0.8h-0.8zM17.8 54.5h0.8v0.8h-0.8zM64.6 52.0h0.8v0.8h-0.8zM38.3 36.0h0.8v0.8h-0.8zM54.8 44.9h0.8v0.8h-0.8zM32.7 26.5h0.8v0.8h-0.8zM27.3 61.8h0.8v0.8h-0.8zM20.8 44.9h0.8v0.8h-0.8zM35.8 54.0h0.8v0.8h-0.8zM58.3 57.8h0.8v0.8h-0.8zM39.9 40.3h0.8v0.8h-0.8zM79.8 37.5h0.8v0.8h-0.8zM16.5 48.1h0.8v0.8h-0.8zM31.2 35.6h0.8v0.8h-0.8zM62.8 24.9h0.8v0.8h-0.8zM38.5 25.3h0.8v0.8h-0.8zM47.0 60.3h0.8v0.8h-0.8zM51.6 58.1h0.8v0.8h-0.8zM52.7 75.6h0.8v0.8h-0.8zM31.6 65.9h0.8v0.8h-0.8zM64.1 63.4h0.8v0.8h-0.8zM18.6 57.8h0.8v0.8h-0.8zM46.7 52.9h0.8v0.8h-0.8zM36.4 29.3h0.8v0.8h-0.8zM68.7 50.4h0.8v0.8h-0.8zM25.1 26.2h0.8v0.8h-0.8zM48.7 15.7h0.8v0.8h-0.8zM14.6 43.4h0.8v0.8h-0.8zM70.6 45.9h0.8v0.8h-0.8zM26.6 48.1h0.8v0.8h-0.8zM72.7 38.3h0.8v0.8h-0.8zM65.9 26.4h0.8v0.8h-0.8zM65.8 32.8h0.8v0.8h-0.8zM33.4 69.5h0.8v0.8h-0.8zM53.2 40.8h0.8v0.8h-0.8zM65.1 58.0h0.8v0.8h-0.8zM15.6 37.0h0.8v0.8h-0.8zM61.9 24.6h0.8v0.8h-0.8zM63.4 40.6h0.8v0.8h-0.8zM58.7 38.7h0.8v0.8h-0.8zM29.3 67.2h0.8v0.8h-0.8zM51.1 46.1h0.8v0.8h-0.8zM36.7 31.3h0.8v0.8h-0.8zM29.1 38.3h0.8v0.8h-0.8zM57.5 70.1h0.8v0.8h-0.8zM64.0 51.4h0.8v0.8h-0.8zM73.0 17.5h0.8v0.8h-0.8zM46.5 15.2h0.8v0.8h-0.8zM53.1 17.2h0.8v0.8h-0.8zM58.1 28.3h0.8v0.8h-0.8zM24.3 46.0h0.8v0.8h-0.8zM36.1 27.1h0.8v0.8h-0.8zM80.9 31.3h0.8v0.8h-0.8zM46.2 40.2h0.8v0.8h-0.8zM73.6 38.7h0.8v0.8h-0.8zM60.8 58.0h0.8v0.8h-0.8zM42.7 75.9h0.8v0.8h-0.8zM66.6 19.9h0.8v0.8h-0.8zM35.5 69.1h0.8v0.8h-0.8zM31.4 48.7h0.8v0.8h-0.8zM49.8 73.9h0.8v0.8h-0.8zM38.9 73.3h0.8v0.8h-0.8zM64.9 26.3h0.8v0.8h-0.8zM54.0 24.3h0.8v0.8h-0.8zM38.0 36.4h0.8v0.8h-0.8zM60.8 73.9h0.8v0.8h-0.8zM36.0 59.2h0.8v0.8h-0.8zM35.1 28.7h0.8v0.8h-0.8zM81.9 32.3h0.8v0.8h-0.8zM13.0 33.5h0.8v0.8h-0.8zM68.0 23.0h0.8v0.8h-0.8zM68.2 51.4h0.8v0.8h-0.8zM62.8 20.1h0.8v0.8h-0.8zM34.8 41.6h0.8v0.8h-0.8zM39.3 32.3h0.8v0.8h-0.8z" fill="#a0a0a0" fill-opacity="0.85"/><path d="M23.6 50.0h0.8v0.8h-0.8zM56.4 67.8h0.8v0.8h-0.8zM42.1 64.6h0.8v0.8h-0.8zM24.5 61.6h0.8v0.8h-0.8zM52.1 61.0h0.8v0.8h-0.8zM48.1 49.8h0.8v0.8h-0.8zM47.6 64.4h0.8v0.8h-0.8zM59.2 52.0h0.8v0.8h-0.8zM54.2 60.0h0.8v0.8h-0.8zM56.2 53.7h0.8v0.8h-0.8zM42.9 48.9h0.8v0.8h-0.8zM45.3 50.2h0.8v0.8h-0.8zM32.9 44.2h0.8v0.8h-0.8zM59.6 46.3h0.8v0.8h-0.8zM35.8 53.7h0.8v0.8h-0.8zM65.8 62.8h0.8v0.8h-0.8zM45.5 46.9h0.8v0.8h-0.8zM44.2 47.7h0.8v0.8h-0.8zM44.0 57.4h0.8v0.8h-0.8zM38.4 48.6h0.8v0.8h-0.8zM47.2 53.8h0.8v0.8h-0.8zM41.7 48.5h0.8v0.8h-0.8zM37.7 48.8h0.8v0.8h-0.8zM55.7 52.3h0.8v0.8h-0.8zM49.3 48.0h0.8v0.8h-0.8zM47.2 33.0h0.8v0.8h-0.8zM31.9 62.1h0.8v0.8h-0.8zM42.0 54.3h0.8v0.8h-0.8zM58.5 45.5h0.8v0.8h-0.8zM69.1 49.0h0.8v0.8h-0.8zM53.9 46.0h0.8v0.8h-0.8zM54.0 53.9h0.8v0.8h-0.8zM61.9 46.0h0.8v0.8h-0.8zM49.9 66.7h0.8v0.8h-0.8zM36.9 56.5h0.8v0.8h-0.8zM54.8 50.5h0.8v0.8h-0.8zM47.1 63.9h0.8v0.8h-0.8zM62.5 58.0h0.8v0.8h-0.8zM53.0 46.1h0.8v0.8h-0.8zM51.0 66.5h0.8v0.8h-0.8zM61.6 44.5h0.8v0.8h-0.8zM27.2 49.4h0.8v0.8h-0.8zM51.8 50.2h0.8v0.8h-0.8zM46.6 56.4h0.8v0.8h-0.8zM59.9 55.5h0.8v0.8h-0.8zM63.8 44.0h0.8v0.8h-0.8zM55.2 57.0h0.8v0.8h-0.8zM33.6 62.8h0.8v0.8h-0.8zM32.4 43.9h0.8v0.8h-0.8zM54.2 63.5h0.8v0.8h-0.8zM62.7 46.1h0.8v0.8h-0.8zM55.3 63.8h0.8v0.8h-0.8zM48.2 54.5h0.8v0.8h-0.8zM44.9 59.2h0.8v0.8h-0.8zM43.9 49.9h0.8v0.8h-0.8zM36.5 47.5h0.8v0.8h-0.8zM52.4 57.3h0.8v0.8h-0.8zM45.7 46.6h0.8v0.8h-0.8zM53.8 56.5h0.8v0.8h-0.8zM64.1 50.5h0.8v0.8h-0.8zM45.5 57.6h0.8v0.8h-0.8zM66.9 53.7h0.8v0.8h-0.8zM49.1 47.4h0.8v0.8h-0.8zM45.8 60.7h0.8v0.8h-0.8zM59.4 61.9h0.8v0.8h-0.8zM31.9 59.9h0.8v0.8h-0.8zM39.8 58.2h0.8v0.8h-0.8zM23.8 53.3h0.8v0.8h-0.8zM40.2 63.0h0.8v0.8h-0.8zM51.4 63.2h0.8v0.8h-0.8zM45.1 67.9h0.8v0.8h-0.8zM45.1 67.4h0.8v0.8h-0.8zM44.6 47.1h0.8v0.8h-0.8zM60.0 51.2h0.8v0.8h-0.8zM49.4 44.5h0.8v0.8h-0.8zM46.2 54.8h0.8v0.8h-0.8zM42.2 56.8h0.8v0.8h-0.8zM24.5 60.3h0.8v0.8h-0.8zM45.5 64.4h0.8v0.8h-0.8zM46.1 49.4h0.8v0.8h-0.8zM45.0 56.0h0.8v0.8h-0.8zM56.6 50.7h0.8v0.8h-0.8zM41.2 57.1h0.8v0.8h-0.8zM59.2 41.7h0.8v0.8h-0.8zM38.4 49.3h0.8v0.8h-0.8zM69.0 62.7h0.8v0.8h-0.8zM58.9 57.5h0.8v0.8h-0.8zM37.6 62.0h0.8v0.8h-0.8zM45.1 48.4h0.8v0.8h-0.8zM71.5 43.8h0.8v0.8h-0.8zM65.4 55.4h0.8v0.8h-0.8zM39.8 55.3h0.8v0.8h-0.8zM40.6 55.3h0.8v0.8h-0.8zM42.8 45.6h0.8v0.8h-0.8zM61.0 53.7h0.8v0.8h-0.8zM57.6 45.1h0.8v0.8h-0.8zM38.4 30.8h0.8v0.8h-0.8zM61.2 57.2h0.8v0.8h-0.8zM36.9 59.9h0.8v0.8h-0.8zM56.6 74.8h0.8v0.8h-0.8zM52.7 60.5h0.8v0.8h-0.8zM56.9 59.5h0.8v0.8h-0.8zM49.8 51.1h0.8v0.8h-0.8zM57.9 62.8h0.8v0.8h-0.8zM37.0 46.0h0.8v0.8h-0.8zM49.6 66.8h0.8v0.8h-0.8zM47.7 42.0h0.8v0.8h-0.8zM59.0 59.4h0.8v0.8h-0.8zM71.7 55.4h0.8v0.8h-0.8zM72.0 48.9h0.8v0.8h-0.8zM60.1 55.0h0.8v0.8h-0.8zM36.8 52.1h0.8v0.8h-0.8zM64.9 61.9h0.8v0.8h-0.8zM45.8 61.9h0.8v0.8h-0.8zM60.1 60.4h0.8v0.8h-0.8zM53.2 56.2h0.8v0.8h-0.8zM40.8 53.6h0.8v0.8h-0.8zM51.4 48.8h0.8v0.8h-0.8zM46.8 55.2h0.8v0.8h-0.8zM52.4 61.5h0.8v0.8h-0.8zM38.6 51.2h0.8v0.8h-0.8zM53.1 51.4h0.8v0.8h-0.8zM53.8 50.7h0.8v0.8h-0.8zM63.2 52.4h0.8v0.8h-0.8zM37.4 59.3h0.8v0.8h-0.8zM68.6 40.4h0.8v0.8h-0.8zM48.6 54.5h0.8v0.8h-0.8zM61.6 64.6h0.8v0.8h-0.8zM48.3 43.0h0.8v0.8h-0.8zM57.5 61.2h0.8v0.8h-0.8zM55.2 54.6h0.8v0.8h-0.8zM41.0 71.3h0.8v0.8h-0.8zM36.7 43.4h0.8v0.8h-0.8zM60.9 56.1h0.8v0.8h-0.8zM57.5 56.6h0.8v0.8h-0.8zM68.8 64.1h0.8v0.8h-0.8zM43.9 61.1h0.8v0.8h-0.8zM37.0 42.0h0.8v0.8h-0.8zM63.5 51.0h0.8v0.8h-0.8zM26.2 53.9h0.8v0.8h-0.8zM42.7 57.6h0.8v0.8h-0.8zM49.4 48.6h0.8v0.8h-0.8zM42.1 59.5h0.8v0.8h-0.8zM39.7 55.0h0.8v0.8h-0.8zM39.1 57.2h0.8v0.8h-0.8zM69.9 58.1h0.8v0.8h-0.8zM62.5 57.2h0.8v0.8h-0.8zM39.4 51.9h0.8v0.8h-0.8zM50.9 57.2h0.8v0.8h-0.8zM43.4 58.4h0.8v0.8h-0.8zM42.1 54.5h0.8v0.8h-0.8zM50.0 45.9h0.8v0.8h-0.8zM61.2 54.4h0.8v0.8h-0.8zM51.3 53.8h0.8v0.8h-0.8zM26.7 44.1h0.8v0.8h-0.8zM40.1 61.1h0.8v0.8h-0.8zM43.7 58.3h0.8v0.8h-0.8zM38.6 48.1h0.8v0.8h-0.8zM44.9 61.5h0.8v0.8h-0.8zM31.7 52.8h0.8v0.8h-0.8zM54.6 55.0h0.8v0.8h-0.8zM49.9 59.6h0.8v0.8h-0.8zM53.3 46.9h0.8v0.8h-0.8zM57.1 48.5h0.8v0.8h-0.8zM46.3 64.3h0.8v0.8h-0.8zM54.8 48.6h0.8v0.8h-0.8zM41.6 65.8h0.8v0.8h-0.8zM53.8 44.3h0.8v0.8h-0.8zM67.5 58.1h0.8v0.8h-0.8zM64.7 56.9h0.8v0.8h-0.8zM26.1 48.8h0.8v0.8h-0.8zM48.5 52.9h0.8v0.8h-0.8zM66.8 49.3h0.8v0.8h-0.8zM49.0 53.6h0.8v0.8h-0.8zM49.1 46.7h0.8v0.8h-0.8zM36.5 35.8h0.8v0.8h-0.8zM53.8 52.6h0.8v0.8h-0.8zM52.3 46.6h0.8v0.8h-0.8zM50.1 47.2h0.8v0.8h-0.8zM38.8 56.4h0.8v0.8h-0.8zM57.1 58.2h0.8v0.8h-0.8zM49.6 51.3h0.8v0.8h-0.8zM65.6 62.8h0.8v0.8h-0.8zM43.0 46.4h0.8v0.8h-0.8zM54.2 56.3h0.8v0.8h-0.8zM39.9 70.1h0.8v0.8h-0.8zM26.9 48.2h0.8v0.8h-0.8zM52.8 61.0h0.8v0.8h-0.8zM29.5 51.0h0.8v0.8h-0.8zM66.0 64.0h0.8v0.8h-0.8zM47.3 54.3h0.8v0.8h-0.8zM40.3 56.8h0.8v0.8h-0.8zM38.4 39.7h0.8v0.8h-0.8zM33.2 54.4h0.8v0.8h-0.8zM35.4 61.9h0.8v0.8h-0.8zM64.3 61.1h0.8v0.8h-0.8zM57.3 62.0h0.8v0.8h-0.8zM53.0 60.2h0.8v0.8h-0.8zM55.3 59.6h0.8v0.8h-0.8zM38.8 49.4h0.8v0.8h-0.8zM39.0 59.9h0.8v0.8h-0.8zM55.7 48.5h0.8v0.8h-0.8zM39.1 50.0h0.8v0.8h-0.8zM59.7 53.2h0.8v0.8h-0.8zM47.4 49.2h0.8v0.8h-0.8zM48.7 65.3h0.8v0.8h-0.8zM42.4 51.6h0.8v0.8h-0.8zM68.9 59.1h0.8v0.8h-0.8zM37.5 61.7h0.8v0.8h-0.8zM36.1 58.0h0.8v0.8h-0.8zM22.1 47.0h0.8v0.8h-0.8zM60.2 49.8h0.8v0.8h-0.8zM42.0 54.4h0.8v0.8h-0.8zM50.1 50.7h0.8v0.8h-0.8zM42.6 66.7h0.8v0.8h-0.8zM66.6 56.4h0.8v0.8h-0.8zM37.3 50.3h0.8v0.8h-0.8zM46.9 57.5h0.8v0.8h-0.8zM67.8 50.4h0.8v0.8h-0.8zM51.7 51.0h0.8v0.8h-0.8zM51.6 49.2h0.8v0.8h-0.8zM54.3 62.2h0.8v0.8h-0.8zM45.7 51.7h0.8v0.8h-0.8zM51.4 44.8h0.8v0.8h-0.8zM70.1 44.6h0.8v0.8h-0.8zM46.1 47.8h0.8v0.8h-0.8zM66.7 50.6h0.8v0.8h-0.8zM44.5 67.4h0.8v0.8h-0.8zM48.8 48.6h0.8v0.8h-0.8zM50.0 55.4h0.8v0.8h-0.8zM41.8 52.8h0.8v0.8h-0.8zM47.8 59.2h0.8v0.8h-0.8zM58.6 59.9h0.8v0.8h-0.8zM48.7 59.7h0.8v0.8h-0.8zM47.7 62.2h0.8v0.8h-0.8zM54.6 51.1h0.8v0.8h-0.8zM63.7 43.4h0.8v0.8h-0.8zM39.3 48.4h0.8v0.8h-0.8zM48.6 45.4h0.8v0.8h-0.8zM36.8 40.7h0.8v0.8h-0.8zM51.3 48.6h0.8v0.8h-0.8zM37.4 63.4h0.8v0.8h-0.8zM51.3 61.6h0.8v0.8h-0.8zM37.8 62.2h0.8v0.8h-0.8zM62.2 51.1h0.8v0.8h-0.8zM40.7 51.4h0.8v0.8h-0.8zM53.0 71.0h0.8v0.8h-0.8zM70.1 64.6h0.8v0.8h-0.8zM47.7 51.7h0.8v0.8h-0.8zM54.2 52.1h0.8v0.8h-0.8zM44.9 52.6h0.8v0.8h-0.8zM59.4 53.6h0.8v0.8h-0.8zM52.7 52.2h0.8v0.8h-0.8zM47.9 51.7h0.8v0.8h-0.8zM64.1 55.7h0.8v0.8h-0.8zM66.6 52.9h0.8v0.8h-0.8zM61.8 44.3h0.8v0.8h-0.8zM45.6 53.6h0.8v0.8h-0.8zM43.1 53.2h0.8v0.8h-0.8zM39.9 52.9h0.8v0.8h-0.8zM42.7 54.0h0.8v0.8h-0.8zM46.8 47.0h0.8v0.8h-0.8zM45.6 54.3h0.8v0.8h-0.8zM36.0 54.7h0.8v0.8h-0.8zM63.9 52.5h0.8v0.8h-0.8zM56.2 58.4h0.8v0.8h-0.8zM41.2 63.4h0.8v0.8h-0.8zM77.9 46.8h0.8v0.8h-0.8zM73.8 49.1h0.8v0.8h-0.8zM66.2 41.3h0.8v0.8h-0.8zM62.7 55.0h0.8v0.8h-0.8zM35.9 48.3h0.8v0.8h-0.8zM38.5 47.7h0.8v0.8h-0.8zM54.3 52.8h0.8v0.8h-0.8zM22.4 51.9h0.8v0.8h-0.8zM55.2 54.7h0.8v0.8h-0.8zM68.8 41.1h0.8v0.8h-0.8zM52.8 54.3h0.8v0.8h-0.8zM58.1 44.6h0.8v0.8h-0.8zM35.6 52.9h0.8v0.8h-0.8zM50.9 41.3h0.8v0.8h-0.8zM54.1 54.0h0.8v0.8h-0.8zM58.2 35.7h0.8v0.8h-0.8zM55.6 47.8h0.8v0.8h-0.8zM44.8 59.5h0.8v0.8h-0.8zM68.8 55.1h0.8v0.8h-0.8zM48.9 63.3h0.8v0.8h-0.8zM40.2 53.0h0.8v0.8h-0.8zM44.5 47.1h0.8v0.8h-0.8zM52.2 68.4h0.8v0.8h-0.8zM52.8 57.6h0.8v0.8h-0.8zM49.7 62.0h0.8v0.8h-0.8zM52.1 47.8h0.8v0.8h-0.8zM51.2 64.2h0.8v0.8h-0.8zM49.1 62.5h0.8v0.8h-0.8zM49.3 68.3h0.8v0.8h-0.8zM53.2 58.7h0.8v0.8h-0.8zM46.9 59.9h0.8v0.8h-0.8zM47.6 43.6h0.8v0.8h-0.8zM53.4 45.6h0.8v0.8h-0.8zM66.4 59.6h0.8v0.8h-0.8zM50.3 58.9h0.8v0.8h-0.8zM21.4 64.9h0.8v0.8h-0.8zM42.9 58.8h0.8v0.8h-0.8zM78.4 42.7h0.8v0.8h-0.8zM45.5 56.5h0.8v0.8h-0.8zM54.7 42.2h0.8v0.8h-0.8zM39.8 64.5h0.8v0.8h-0.8zM43.4 58.0h0.8v0.8h-0.8zM34.9 47.6h0.8v0.8h-0.8zM29.9 56.0h0.8v0.8h-0.8zM62.9 54.7h0.8v0.8h-0.8zM47.1 55.8h0.8v0.8h-0.8zM55.3 52.0h0.8v0.8h-0.8zM56.2 67.8h0.8v0.8h-0.8zM74.7 50.0h0.8v0.8h-0.8zM36.1 67.6h0.8v0.8h-0.8zM61.0 62.6h0.8v0.8h-0.8zM56.8 52.5h0.8v0.8h-0.8zM60.9 61.9h0.8v0.8h-0.8zM63.1 46.4h0.8v0.8h-0.8zM61.5 51.6h0.8v0.8h-0.8zM46.1 56.5h0.8v0.8h-0.8zM46.3 70.4h0.8v0.8h-0.8zM56.3 55.9h0.8v0.8h-0.8zM48.0 55.8h0.8v0.8h-0.8zM47.6 58.2h0.8v0.8h-0.8zM59.6 60.0h0.8v0.8h-0.8zM36.2 51.7h0.8v0.8h-0.8zM51.0 45.5h0.8v0.8h-0.8zM54.3 53.1h0.8v0.8h-0.8zM50.7 56.8h0.8v0.8h-0.8zM43.2 65.0h0.8v0.8h-0.8zM61.6 50.2h0.8v0.8h-0.8zM55.3 59.3h0.8v0.8h-0.8zM41.6 51.6h0.8v0.8h-0.8zM57.8 35.9h0.8v0.8h-0.8zM35.5 56.4h0.8v0.8h-0.8zM57.0 47.6h0.8v0.8h-0.8zM59.6 69.7h0.8v0.8h-0.8zM52.4 53.8h0.8v0.8h-0.8zM50.9 46.9h0.8v0.8h-0.8zM56.2 55.3h0.8v0.8h-0.8zM58.4 64.1h0.8v0.8h-0.8zM50.5 55.4h0.8v0.8h-0.8zM53.7 66.3h0.8v0.8h-0.8zM34.0 54.1h0.8v0.8h-0.8zM43.2 55.0h0.8v0.8h-0.8zM59.3 54.6h0.8v0.8h-0.8zM58.3 55.4h0.8v0.8h-0.8zM42.2 49.4h0.8v0.8h-0.8zM34.8 55.7h0.8v0.8h-0.8zM45.8 60.0h0.8v0.8h-0.8zM60.8 47.8h0.8v0.8h-0.8zM38.1 58.3h0.8v0.8h-0.8zM40.4 55.6h0.8v0.8h-0.8zM56.9 51.4h0.8v0.8h-0.8zM69.8 48.6h0.8v0.8h-0.8zM54.8 51.2h0.8v0.8h-0.8zM18.3 52.9h0.8v0.8h-0.8zM48.4 58.2h0.8v0.8h-0.8zM48.7 48.9h0.8v0.8h-0.8zM44.4 51.9h0.8v0.8h-0.8zM58.5 52.1h0.8v0.8h-0.8zM63.8 60.1h0.8v0.8h-0.8zM41.9 61.3h0.8v0.8h-0.8zM25.1 54.3h0.8v0.8h-0.8zM39.3 53.4h0.8v0.8h-0.8zM62.9 54.1h0.8v0.8h-0.8zM48.3 63.1h0.8v0.8h-0.8zM41.7 48.3h0.8v0.8h-0.8zM60.9 58.4h0.8v0.8h-0.8zM34.4 55.1h0.8v0.8h-0.8zM58.8 52.9h0.8v0.8h-0.8zM45.7 55.0h0.8v0.8h-0.8zM52.5 49.1h0.8v0.8h-0.8zM59.4 43.0h0.8v0.8h-0.8zM49.3 69.1h0.8v0.8h-0.8zM38.4 53.8h0.8v0.8h-0.8zM25.0 48.3h0.8v0.8h-0.8zM37.4 54.5h0.8v0.8h-0.8zM44.7 67.0h0.8v0.8h-0.8zM39.9 53.9h0.8v0.8h-0.8zM52.5 58.6h0.8v0.8h-0.8zM60.0 43.1h0.8v0.8h-0.8zM74.3 51.9h0.8v0.8h-0.8zM42.2 42.5h0.8v0.8h-0.8zM45.2 41.6h0.8v0.8h-0.8zM52.2 49.9h0.8v0.8h-0.8zM53.7 48.5h0.8v0.8h-0.8zM50.9 69.7h0.8v0.8h-0.8zM63.0 55.2h0.8v0.8h-0.8zM39.2 64.3h0.8v0.8h-0.8zM31.4 44.1h0.8v0.8h-0.8zM64.4 49.9h0.8v0.8h-0.8zM65.0 58.1h0.8v0.8h-0.8zM56.6 49.6h0.8v0.8h-0.8zM56.6 63.9h0.8v0.8h-0.8zM51.6 33.7h0.8v0.8h-0.8zM45.9 51.5h0.8v0.8h-0.8zM49.4 51.6h0.8v0.8h-0.8zM62.7 45.2h0.8v0.8h-0.8zM54.9 40.1h0.8v0.8h-0.8zM26.1 46.9h0.8v0.8h-0.8zM41.8 47.8h0.8v0.8h-0.8zM42.3 58.3h0.8v0.8h-0.8zM56.5 54.6h0.8v0.8h-0.8zM52.2 49.2h0.8v0.8h-0.8zM39.2 44.1h0.8v0.8h-0.8zM45.5 46.1h0.8v0.8h-0.8zM46.5 59.1h0.8v0.8h-0.8zM56.1 63.3h0.8v0.8h-0.8zM39.8 38.6h0.8v0.8h-0.8zM37.8 68.0h0.8v0.8h-0.8zM57.7 50.9h0.8v0.8h-0.8zM64.6 51.1h0.8v0.8h-0.8zM68.5 51.2h0.8v0.8h-0.8zM45.6 58.9h0.8v0.8h-0.8zM37.4 52.9h0.8v0.8h-0.8zM71.4 57.1h0.8v0.8h-0.8zM37.9 52.2h0.8v0.8h-0.8zM49.7 48.7h0.8v0.8h-0.8zM54.5 62.8h0.8v0.8h-0.8zM50.5 60.2h0.8v0.8h-0.8zM53.3 55.0h0.8v0.8h-0.8zM41.7 60.8h0.8v0.8h-0.8zM64.9 50.8h0.8v0.8h-0.8zM40.3 57.7h0.8v0.8h-0.8zM51.1 61.9h0.8v0.8h-0.8zM55.4 53.1h0.8v0.8h-0.8zM34.7 58.4h0.8v0.8h-0.8zM51.1 45.1h0.8v0.8h-0.8zM33.6 41.2h0.8v0.8h-0.8zM56.8 50.9h0.8v0.8h-0.8zM13.4 47.8h0.8v0.8h-0.8zM43.0 53.2h0.8v0.8h-0.8zM50.4 51.6h0.8v0.8h-0.8zM58.2 61.2h0.8v0.8h-0.8zM47.5 65.1h0.8v0.8h-0.8zM48.6 47.9h0.8v0.8h-0.8zM51.7 43.9h0.8v0.8h-0.8zM46.7 46.6h0.8v0.8h-0.8zM45.2 55.4h0.8v0.8h-0.8zM23.0 56.7h0.8v0.8h-0.8zM52.9 52.5h0.8v0.8h-0.8zM57.9 56.4h0.8v0.8h-0.8zM46.0 46.9h0.8v0.8h-0.8zM58.0 59.3h0.8v0.8h-0.8zM33.7 48.9h0.8v0.8h-0.8zM36.9 59.8h0.8v0.8h-0.8zM43.6 45.2h0.8v0.8h-0.8zM66.6 57.2h0.8v0.8h-0.8zM52.6 55.7h0.8v0.8h-0.8zM48.0 54.2h0.8v0.8h-0.8zM59.8 57.1h0.8v0.8h-0.8zM44.9 54.6h0.8v0.8h-0.8zM70.6 50.1h0.8v0.8h-0.8zM35.4 54.8h0.8v0.8h-0.8zM37.4 72.4h0.8v0.8h-0.8zM56.8 58.1h0.8v0.8h-0.8zM54.0 67.8h0.8v0.8h-0.8zM38.7 53.6h0.8v0.8h-0.8zM31.5 62.7h0.8v0.8h-0.8zM49.1 66.4h0.8v0.8h-0.8zM46.9 46.6h0.8v0.8h-0.8zM42.2 59.6h0.8v0.8h-0.8zM40.8 55.8h0.8v0.8h-0.8zM41.9 48.9h0.8v0.8h-0.8zM43.7 65.4h0.8v0.8h-0.8zM38.0 56.2h0.8v0.8h-0.8zM58.8 48.7h0.8v0.8h-0.8zM33.3 64.5h0.8v0.8h-0.8zM69.1 52.2h0.8v0.8h-0.8zM36.6 60.1h0.8v0.8h-0.8zM49.5 48.1h0.8v0.8h-0.8zM45.6 37.1h0.8v0.8h-0.8zM40.9 45.4h0.8v0.8h-0.8zM35.3 58.0h0.8v0.8h-0.8zM52.8 65.9h0.8v0.8h-0.8zM20.2 49.2h0.8v0.8h-0.8zM40.5 63.3h0.8v0.8h-0.8zM61.3 54.8h0.8v0.8h-0.8zM50.9 48.6h0.8v0.8h-0.8zM44.1 50.8h0.8v0.8h-0.8zM21.9 67.3h0.8v0.8h-0.8zM58.0 68.6h0.8v0.8h-0.8zM63.5 57.4h0.8v0.8h-0.8zM59.1 42.0h0.8v0.8h-0.8zM38.6 59.9h0.8v0.8h-0.8zM45.6 42.5h0.8v0.8h-0.8zM49.7 44.8h0.8v0.8h-0.8zM49.8 64.9h0.8v0.8h-0.8zM37.2 50.7h0.8v0.8h-0.8zM55.9 53.7h0.8v0.8h-0.8zM51.9 47.9h0.8v0.8h-0.8zM46.0 37.0h0.8v0.8h-0.8zM47.8 63.0h0.8v0.8h-0.8zM37.3 52.6h0.8v0.8h-0.8zM57.7 62.5h0.8v0.8h-0.8zM62.7 47.6h0.8v0.8h-0.8z" fill="#7a7a7a" fill-opacity="0.85"/><ellipse cx="47.0" cy="56.0" rx="17.0" ry="10.0" fill="#8a8a8a" fill-opacity="0.60" transform="rotate(-12 47.0 56.0)" filter="url(#b3)"/><ellipse cx="58.0" cy="47.0" rx="8.0" ry="7.0" fill="#808080" fill-opacity="0.55" filter="url(#b2_5)"/><ellipse cx="54.0" cy="54.0" rx="9.0" ry="6.0" fill="#4a4a4a" fill-opacity="0.70" filter="url(#b2_5)"/><ellipse cx="55.2" cy="53.8" rx="4.0" ry="3.2" fill="#1e1e1e" fill-opacity="0.80" filter="url(#b1_5)"/><ellipse cx="34.0" cy="60.0" rx="9.0" ry="5.0" fill="#999" fill-opacity="0.45" transform="rotate(-20 34.0 60.0)" filter="url(#b3)"/><ellipse cx="36.5" cy="18.5" rx="4.0" ry="2.2" fill="#2a2a2a" fill-opacity="0.95" transform="rotate(-30 36.5 18.5)" filter="url(#b0_5)"/><ellipse cx="66.4" cy="32.4" rx="6.3" ry="2.7" fill="#555" fill-opacity="0.90" transform="rotate(32 66.4 32.4)" filter="url(#b0_5)"/><ellipse cx="23.0" cy="69.3" rx="3.8" ry="1.9" fill="#262626" fill-opacity="0.95" transform="rotate(45 23.0 69.3)" filter="url(#b0_5)"/><ellipse cx="39.4" cy="80.9" rx="3.6" ry="2.0" fill="#1e1e1e" fill-opacity="0.95" transform="rotate(30 39.4 80.9)" filter="url(#b0_5)"/><ellipse cx="69.6" cy="20.5" rx="3.3" ry="4.3" fill="#c8c8c8" fill-opacity="0.35" transform="rotate(10 69.6 20.5)" filter="url(#b1)"/><ellipse cx="67.6" cy="40.7" rx="2.1" ry="2.0" fill="#777" fill-opacity="0.80" filter="url(#b0_5)"/><ellipse cx="58.2" cy="21.5" rx="1.7" ry="4.2" fill="#ccc" fill-opacity="0.50" transform="rotate(20 58.2 21.5)" filter="url(#b1)"/><use href="#ct"/></g><rect x="0" y="0" width="89.3" height="89.2" fill="none" stroke="#2a2a2a" stroke-width="1.2"/><text x="-6.1" y="6.5" font-size="7.00" fill="#231f20" text-anchor="end">15</text><text x="-6.1" y="20.2" font-size="7.00" fill="#231f20" text-anchor="end">10</text><text x="-6.1" y="33.9" font-size="7.00" fill="#231f20" text-anchor="end">5</text><text x="-6.1" y="47.5" font-size="7.00" fill="#231f20" text-anchor="end">0</text><text x="-6.1" y="61.1" font-size="7.00" fill="#231f20" text-anchor="end">−5</text><text x="-6.1" y="74.8" font-size="7.00" fill="#231f20" text-anchor="end">−10</text><text x="-6.1" y="88.4" font-size="7.00" fill="#231f20" text-anchor="end">−15</text><text x="22.7" y="102.2" font-size="7.00" fill="#231f20" text-anchor="middle">−10</text><text x="46.0" y="102.2" font-size="7.00" fill="#231f20" text-anchor="middle">0</text><text x="69.2" y="102.2" font-size="7.00" fill="#231f20" text-anchor="middle">10</text><path d="M-2.8 4.0H0M-2.8 17.7H0M-2.8 31.4H0M-2.8 45.0H0M-2.8 58.6H0M-2.8 72.2H0M-2.8 85.9H0M22.7 89.2v2.6M46.0 89.2v2.6M69.2 89.2v2.6" stroke="#2a2a2a" stroke-width="1" fill="none"/><text x="2.5" y="10.6" font-size="8.20" fill="#404040" textLength="13.9" lengthAdjust="spacingAndGlyphs">HSC</text></g>
<g transform="translate(155.4 22.7)"><g clip-path="url(#pclip)"><use href="#cloud" fill="#ece2ec" fill-opacity="0.60" filter="url(#b1_5)"/><path d="M40.7 17.3h0.8v0.8h-0.8zM56.5 44.1h0.8v0.8h-0.8zM35.0 69.5h0.8v0.8h-0.8zM63.8 63.7h0.8v0.8h-0.8zM75.4 37.3h0.8v0.8h-0.8zM28.3 35.5h0.8v0.8h-0.8zM36.8 60.9h0.8v0.8h-0.8zM17.6 31.4h0.8v0.8h-0.8zM27.5 46.6h0.8v0.8h-0.8zM23.0 64.8h0.8v0.8h-0.8zM64.4 33.7h0.8v0.8h-0.8zM45.3 31.7h0.8v0.8h-0.8zM42.6 74.0h0.8v0.8h-0.8zM53.4 56.8h0.8v0.8h-0.8zM23.9 57.7h0.8v0.8h-0.8zM34.0 42.4h0.8v0.8h-0.8zM41.6 75.4h0.8v0.8h-0.8zM19.6 35.2h0.8v0.8h-0.8zM65.0 23.4h0.8v0.8h-0.8zM24.3 36.0h0.8v0.8h-0.8zM24.4 66.1h0.8v0.8h-0.8zM51.2 54.6h0.8v0.8h-0.8zM20.0 28.2h0.8v0.8h-0.8zM61.7 64.1h0.8v0.8h-0.8zM32.4 44.7h0.8v0.8h-0.8zM29.6 52.7h0.8v0.8h-0.8zM35.2 35.6h0.8v0.8h-0.8zM26.2 29.8h0.8v0.8h-0.8zM31.4 55.3h0.8v0.8h-0.8zM76.9 44.9h0.8v0.8h-0.8zM48.5 31.5h0.8v0.8h-0.8zM57.9 61.1h0.8v0.8h-0.8zM63.9 47.5h0.8v0.8h-0.8zM40.1 38.2h0.8v0.8h-0.8zM47.9 44.8h0.8v0.8h-0.8zM50.0 50.3h0.8v0.8h-0.8zM72.7 57.7h0.8v0.8h-0.8zM63.1 63.8h0.8v0.8h-0.8zM68.3 43.6h0.8v0.8h-0.8zM38.8 52.0h0.8v0.8h-0.8zM48.8 31.3h0.8v0.8h-0.8zM17.6 38.1h0.8v0.8h-0.8zM59.4 14.4h0.8v0.8h-0.8zM42.0 69.8h0.8v0.8h-0.8zM55.3 54.5h0.8v0.8h-0.8zM19.7 44.4h0.8v0.8h-0.8zM23.4 43.0h0.8v0.8h-0.8zM51.2 33.6h0.8v0.8h-0.8zM54.1 58.7h0.8v0.8h-0.8zM60.8 23.2h0.8v0.8h-0.8zM52.5 13.6h0.8v0.8h-0.8zM59.1 27.3h0.8v0.8h-0.8zM32.3 27.0h0.8v0.8h-0.8zM59.0 57.3h0.8v0.8h-0.8zM52.9 37.5h0.8v0.8h-0.8zM65.8 20.7h0.8v0.8h-0.8zM25.4 28.7h0.8v0.8h-0.8zM25.2 29.6h0.8v0.8h-0.8zM58.4 37.6h0.8v0.8h-0.8zM66.0 46.9h0.8v0.8h-0.8zM37.6 50.1h0.8v0.8h-0.8zM20.3 47.5h0.8v0.8h-0.8zM47.5 70.1h0.8v0.8h-0.8zM53.0 25.3h0.8v0.8h-0.8zM21.1 66.6h0.8v0.8h-0.8zM44.8 76.7h0.8v0.8h-0.8zM57.7 68.4h0.8v0.8h-0.8zM79.5 37.4h0.8v0.8h-0.8zM22.0 59.4h0.8v0.8h-0.8zM50.5 36.9h0.8v0.8h-0.8zM17.7 53.3h0.8v0.8h-0.8zM48.2 38.0h0.8v0.8h-0.8zM45.3 8.4h0.8v0.8h-0.8zM57.3 21.4h0.8v0.8h-0.8zM38.3 51.1h0.8v0.8h-0.8zM37.6 65.2h0.8v0.8h-0.8zM36.6 65.1h0.8v0.8h-0.8zM29.2 29.9h0.8v0.8h-0.8zM20.8 38.4h0.8v0.8h-0.8zM35.8 56.5h0.8v0.8h-0.8zM17.2 39.3h0.8v0.8h-0.8zM52.9 16.2h0.8v0.8h-0.8zM58.4 28.8h0.8v0.8h-0.8zM32.4 56.6h0.8v0.8h-0.8zM21.3 43.0h0.8v0.8h-0.8zM27.3 36.1h0.8v0.8h-0.8zM64.0 21.1h0.8v0.8h-0.8zM52.3 33.9h0.8v0.8h-0.8zM59.2 10.5h0.8v0.8h-0.8zM65.9 24.8h0.8v0.8h-0.8zM45.9 66.4h0.8v0.8h-0.8zM40.8 32.0h0.8v0.8h-0.8zM38.8 31.6h0.8v0.8h-0.8zM68.0 44.4h0.8v0.8h-0.8zM63.3 17.9h0.8v0.8h-0.8zM22.3 57.4h0.8v0.8h-0.8zM40.2 20.6h0.8v0.8h-0.8zM67.1 53.6h0.8v0.8h-0.8zM51.6 77.8h0.8v0.8h-0.8zM36.6 14.6h0.8v0.8h-0.8zM50.2 15.9h0.8v0.8h-0.8zM56.3 75.1h0.8v0.8h-0.8zM62.1 66.9h0.8v0.8h-0.8zM29.4 70.8h0.8v0.8h-0.8zM58.8 44.8h0.8v0.8h-0.8zM27.4 56.1h0.8v0.8h-0.8zM48.3 48.4h0.8v0.8h-0.8zM56.6 63.0h0.8v0.8h-0.8zM29.7 43.7h0.8v0.8h-0.8zM48.0 73.3h0.8v0.8h-0.8zM46.1 38.8h0.8v0.8h-0.8zM45.8 35.4h0.8v0.8h-0.8zM39.0 11.8h0.8v0.8h-0.8zM62.6 17.8h0.8v0.8h-0.8zM17.7 41.0h0.8v0.8h-0.8zM56.2 69.9h0.8v0.8h-0.8zM42.8 30.1h0.8v0.8h-0.8zM23.2 42.9h0.8v0.8h-0.8zM56.4 9.3h0.8v0.8h-0.8zM60.4 45.0h0.8v0.8h-0.8zM56.3 45.0h0.8v0.8h-0.8zM22.7 59.7h0.8v0.8h-0.8zM32.2 66.5h0.8v0.8h-0.8zM16.9 51.4h0.8v0.8h-0.8zM26.1 51.9h0.8v0.8h-0.8zM33.6 40.7h0.8v0.8h-0.8zM64.2 66.8h0.8v0.8h-0.8zM44.4 15.0h0.8v0.8h-0.8zM75.2 47.2h0.8v0.8h-0.8zM59.8 36.0h0.8v0.8h-0.8zM36.4 20.0h0.8v0.8h-0.8zM55.8 57.1h0.8v0.8h-0.8zM70.4 56.7h0.8v0.8h-0.8zM39.6 60.1h0.8v0.8h-0.8zM36.8 39.9h0.8v0.8h-0.8zM36.1 60.0h0.8v0.8h-0.8zM35.0 34.9h0.8v0.8h-0.8zM37.8 59.6h0.8v0.8h-0.8zM26.4 31.8h0.8v0.8h-0.8zM37.2 14.9h0.8v0.8h-0.8zM26.6 69.5h0.8v0.8h-0.8zM35.0 45.2h0.8v0.8h-0.8zM22.1 29.7h0.8v0.8h-0.8zM41.1 28.6h0.8v0.8h-0.8zM59.3 73.2h0.8v0.8h-0.8zM72.3 56.3h0.8v0.8h-0.8zM55.9 32.1h0.8v0.8h-0.8zM39.9 18.3h0.8v0.8h-0.8zM69.4 59.9h0.8v0.8h-0.8zM45.2 71.1h0.8v0.8h-0.8zM61.9 18.4h0.8v0.8h-0.8zM50.1 40.1h0.8v0.8h-0.8zM48.8 65.6h0.8v0.8h-0.8zM63.6 53.4h0.8v0.8h-0.8zM42.3 44.6h0.8v0.8h-0.8zM53.0 28.8h0.8v0.8h-0.8zM71.2 33.2h0.8v0.8h-0.8zM70.3 55.2h0.8v0.8h-0.8zM61.7 40.1h0.8v0.8h-0.8zM49.2 22.3h0.8v0.8h-0.8zM44.3 26.9h0.8v0.8h-0.8zM62.4 14.1h0.8v0.8h-0.8zM50.3 54.4h0.8v0.8h-0.8zM76.0 37.3h0.8v0.8h-0.8zM15.8 35.0h0.8v0.8h-0.8zM25.5 60.1h0.8v0.8h-0.8zM42.1 43.8h0.8v0.8h-0.8zM44.8 36.5h0.8v0.8h-0.8zM43.7 63.2h0.8v0.8h-0.8zM65.5 32.7h0.8v0.8h-0.8zM53.2 17.3h0.8v0.8h-0.8zM11.8 41.2h0.8v0.8h-0.8zM36.3 31.4h0.8v0.8h-0.8zM16.7 55.2h0.8v0.8h-0.8zM76.3 37.4h0.8v0.8h-0.8zM24.6 66.5h0.8v0.8h-0.8zM21.1 31.8h0.8v0.8h-0.8zM30.7 43.4h0.8v0.8h-0.8zM35.2 45.1h0.8v0.8h-0.8zM72.5 27.2h0.8v0.8h-0.8zM30.7 42.6h0.8v0.8h-0.8zM29.9 40.6h0.8v0.8h-0.8zM25.9 67.2h0.8v0.8h-0.8zM33.9 24.3h0.8v0.8h-0.8zM40.0 51.4h0.8v0.8h-0.8zM39.0 53.0h0.8v0.8h-0.8zM62.3 33.5h0.8v0.8h-0.8zM46.8 37.1h0.8v0.8h-0.8zM30.2 30.3h0.8v0.8h-0.8zM79.7 35.6h0.8v0.8h-0.8zM42.7 49.7h0.8v0.8h-0.8zM71.8 52.3h0.8v0.8h-0.8zM46.9 34.2h0.8v0.8h-0.8zM68.9 47.8h0.8v0.8h-0.8zM62.3 44.2h0.8v0.8h-0.8zM50.3 54.2h0.8v0.8h-0.8zM49.6 74.6h0.8v0.8h-0.8zM68.9 57.4h0.8v0.8h-0.8zM19.0 52.9h0.8v0.8h-0.8zM46.6 67.5h0.8v0.8h-0.8zM71.1 28.4h0.8v0.8h-0.8zM15.5 42.9h0.8v0.8h-0.8zM28.2 62.1h0.8v0.8h-0.8zM14.3 33.3h0.8v0.8h-0.8zM39.9 45.2h0.8v0.8h-0.8zM42.0 55.7h0.8v0.8h-0.8zM24.4 25.8h0.8v0.8h-0.8zM44.1 59.7h0.8v0.8h-0.8zM56.5 34.7h0.8v0.8h-0.8zM22.8 67.1h0.8v0.8h-0.8zM25.1 25.6h0.8v0.8h-0.8zM65.9 45.2h0.8v0.8h-0.8zM48.3 28.1h0.8v0.8h-0.8zM49.6 61.3h0.8v0.8h-0.8zM32.6 59.3h0.8v0.8h-0.8zM53.2 11.3h0.8v0.8h-0.8zM62.4 61.5h0.8v0.8h-0.8zM64.0 36.2h0.8v0.8h-0.8zM59.4 10.8h0.8v0.8h-0.8zM73.2 44.3h0.8v0.8h-0.8zM22.4 43.4h0.8v0.8h-0.8zM62.8 51.6h0.8v0.8h-0.8zM38.8 25.8h0.8v0.8h-0.8zM40.3 64.1h0.8v0.8h-0.8zM56.8 67.2h0.8v0.8h-0.8zM57.2 35.1h0.8v0.8h-0.8zM61.8 56.5h0.8v0.8h-0.8zM57.2 59.3h0.8v0.8h-0.8zM81.3 38.7h0.8v0.8h-0.8zM38.6 28.4h0.8v0.8h-0.8zM31.0 38.6h0.8v0.8h-0.8zM41.0 73.2h0.8v0.8h-0.8zM21.6 50.1h0.8v0.8h-0.8zM29.8 46.5h0.8v0.8h-0.8zM49.5 27.6h0.8v0.8h-0.8zM50.5 10.6h0.8v0.8h-0.8zM34.7 29.2h0.8v0.8h-0.8zM64.6 55.6h0.8v0.8h-0.8zM18.4 53.2h0.8v0.8h-0.8zM58.1 56.4h0.8v0.8h-0.8zM48.4 27.8h0.8v0.8h-0.8zM27.1 23.5h0.8v0.8h-0.8zM30.7 56.6h0.8v0.8h-0.8zM32.2 61.5h0.8v0.8h-0.8zM66.0 49.8h0.8v0.8h-0.8zM74.6 47.2h0.8v0.8h-0.8zM62.6 14.9h0.8v0.8h-0.8zM66.3 64.6h0.8v0.8h-0.8zM33.0 70.6h0.8v0.8h-0.8zM54.2 40.2h0.8v0.8h-0.8zM49.7 28.4h0.8v0.8h-0.8zM34.7 70.6h0.8v0.8h-0.8zM36.2 21.2h0.8v0.8h-0.8zM55.1 10.3h0.8v0.8h-0.8zM57.0 57.9h0.8v0.8h-0.8zM47.0 40.7h0.8v0.8h-0.8zM50.3 13.7h0.8v0.8h-0.8zM64.7 24.8h0.8v0.8h-0.8zM66.8 25.8h0.8v0.8h-0.8zM51.0 9.4h0.8v0.8h-0.8z" fill="#cdb4cd" fill-opacity="0.70"/><path d="M11.7 40.0C11.8 39.2 11.8 38.1 12.0 37.5C12.2 36.9 12.3 37.0 13.0 36.3C13.7 35.6 14.9 33.9 16.0 33.3C17.1 32.7 18.4 32.6 19.5 32.7C20.6 32.9 22.0 34.2 22.9 34.2C23.8 34.2 24.2 33.3 24.7 32.5C25.2 31.7 25.4 30.1 26.0 29.4C26.6 28.7 27.8 28.2 28.6 28.1C29.4 28.0 30.0 28.4 30.7 29.0C31.4 29.6 32.1 31.4 32.9 32.0C33.7 32.6 34.5 32.7 35.5 32.7C36.5 32.7 37.9 32.4 38.9 32.0C39.9 31.6 40.7 30.9 41.7 30.5C42.7 30.1 43.9 29.8 45.0 29.4C46.1 29.0 47.4 28.5 48.5 28.3C49.6 28.1 50.4 28.2 51.5 28.3C52.6 28.4 54.0 28.6 55.0 29.2C56.0 29.8 56.7 30.8 57.5 31.7C58.3 32.6 59.1 33.8 59.9 34.8C60.7 35.8 61.7 36.8 62.4 37.8C63.1 38.8 64.0 40.1 64.2 40.9C64.4 41.7 63.8 42.2 63.6 42.8C63.5 43.4 63.1 44.0 63.3 44.6C63.5 45.2 64.1 45.9 64.8 46.2C65.5 46.5 66.5 46.5 67.3 46.2C68.1 45.9 69.0 45.1 69.8 44.6C70.6 44.1 71.4 43.4 72.2 43.3C73.0 43.1 74.0 43.3 74.7 43.7C75.4 44.1 76.0 44.7 76.2 45.5C76.5 46.3 76.5 47.5 76.2 48.3C76.0 49.1 75.5 49.7 74.7 50.2C73.9 50.7 72.6 51.0 71.6 51.4C70.6 51.8 69.4 52.2 68.8 52.6C68.2 53.0 67.9 53.5 68.2 53.8C68.5 54.1 69.7 54.2 70.4 54.5C71.1 54.8 72.0 55.0 72.2 55.4C72.5 55.8 72.3 56.4 71.9 56.9C71.5 57.4 70.6 57.8 69.8 58.2C69.0 58.6 68.0 59.1 67.3 59.4C66.6 59.7 66.3 59.7 65.5 60.0C64.7 60.3 63.5 60.5 62.3 61.0C61.0 61.5 59.4 62.2 58.0 63.2C56.6 64.2 55.0 66.0 53.7 67.1C52.4 68.2 51.2 69.2 50.2 69.7C49.2 70.2 48.5 70.3 47.6 70.3C46.7 70.3 46.1 70.0 45.0 69.7C43.9 69.4 42.2 68.8 41.1 68.4C40.0 68.0 39.1 67.3 38.5 67.3C37.9 67.3 37.7 67.9 37.2 68.4C36.7 68.9 36.1 70.1 35.5 70.5C34.9 70.9 34.2 71.2 33.3 71.0C32.4 70.8 31.1 70.0 30.3 69.2C29.5 68.4 28.9 67.1 28.6 66.2C28.3 65.3 28.4 64.2 28.6 63.6C28.8 63.0 29.2 62.4 29.9 62.3C30.6 62.1 31.9 62.6 32.9 62.7C33.9 62.8 35.3 63.1 35.9 63.0C36.5 62.9 36.5 62.3 36.3 61.9C36.1 61.5 35.9 60.9 34.6 60.6C33.3 60.4 30.2 60.4 28.6 60.4C27.0 60.4 25.9 60.4 25.1 60.6C24.3 60.9 24.3 61.5 23.8 61.9C23.3 62.3 22.5 63.2 22.1 63.3C21.7 63.4 21.2 62.8 21.2 62.3C21.2 61.8 21.7 61.2 22.1 60.6C22.5 60.0 23.0 59.7 23.4 58.8C23.8 57.9 24.1 56.5 24.2 55.4C24.3 54.3 24.4 52.9 23.8 52.4C23.2 51.9 21.6 52.7 20.8 52.4C20.0 52.1 19.5 51.4 19.0 50.6C18.5 49.8 18.3 48.3 17.7 47.6C17.1 46.9 15.9 46.7 15.1 46.3C14.3 45.9 13.6 45.6 13.0 45.0C12.4 44.4 11.9 43.3 11.7 42.5C11.5 41.7 11.6 40.8 11.7 40.0Z" fill="#d0bad0" fill-opacity="0.92" filter="url(#b1_5)"/><path d="M11.7 40.0C11.8 39.2 11.8 38.1 12.0 37.5C12.2 36.9 12.3 37.0 13.0 36.3C13.7 35.6 14.9 33.9 16.0 33.3C17.1 32.7 18.4 32.6 19.5 32.7C20.6 32.9 22.0 34.2 22.9 34.2C23.8 34.2 24.2 33.3 24.7 32.5C25.2 31.7 25.4 30.1 26.0 29.4C26.6 28.7 27.8 28.2 28.6 28.1C29.4 28.0 30.0 28.4 30.7 29.0C31.4 29.6 32.1 31.4 32.9 32.0C33.7 32.6 34.5 32.7 35.5 32.7C36.5 32.7 37.9 32.4 38.9 32.0C39.9 31.6 40.7 30.9 41.7 30.5C42.7 30.1 43.9 29.8 45.0 29.4C46.1 29.0 47.4 28.5 48.5 28.3C49.6 28.1 50.4 28.2 51.5 28.3C52.6 28.4 54.0 28.6 55.0 29.2C56.0 29.8 56.7 30.8 57.5 31.7C58.3 32.6 59.1 33.8 59.9 34.8C60.7 35.8 61.7 36.8 62.4 37.8C63.1 38.8 64.0 40.1 64.2 40.9C64.4 41.7 63.8 42.2 63.6 42.8C63.5 43.4 63.1 44.0 63.3 44.6C63.5 45.2 64.1 45.9 64.8 46.2C65.5 46.5 66.5 46.5 67.3 46.2C68.1 45.9 69.0 45.1 69.8 44.6C70.6 44.1 71.4 43.4 72.2 43.3C73.0 43.1 74.0 43.3 74.7 43.7C75.4 44.1 76.0 44.7 76.2 45.5C76.5 46.3 76.5 47.5 76.2 48.3C76.0 49.1 75.5 49.7 74.7 50.2C73.9 50.7 72.6 51.0 71.6 51.4C70.6 51.8 69.4 52.2 68.8 52.6C68.2 53.0 67.9 53.5 68.2 53.8C68.5 54.1 69.7 54.2 70.4 54.5C71.1 54.8 72.0 55.0 72.2 55.4C72.5 55.8 72.3 56.4 71.9 56.9C71.5 57.4 70.6 57.8 69.8 58.2C69.0 58.6 68.0 59.1 67.3 59.4C66.6 59.7 66.3 59.7 65.5 60.0C64.7 60.3 63.5 60.5 62.3 61.0C61.0 61.5 59.4 62.2 58.0 63.2C56.6 64.2 55.0 66.0 53.7 67.1C52.4 68.2 51.2 69.2 50.2 69.7C49.2 70.2 48.5 70.3 47.6 70.3C46.7 70.3 46.1 70.0 45.0 69.7C43.9 69.4 42.2 68.8 41.1 68.4C40.0 68.0 39.1 67.3 38.5 67.3C37.9 67.3 37.7 67.9 37.2 68.4C36.7 68.9 36.1 70.1 35.5 70.5C34.9 70.9 34.2 71.2 33.3 71.0C32.4 70.8 31.1 70.0 30.3 69.2C29.5 68.4 28.9 67.1 28.6 66.2C28.3 65.3 28.4 64.2 28.6 63.6C28.8 63.0 29.2 62.4 29.9 62.3C30.6 62.1 31.9 62.6 32.9 62.7C33.9 62.8 35.3 63.1 35.9 63.0C36.5 62.9 36.5 62.3 36.3 61.9C36.1 61.5 35.9 60.9 34.6 60.6C33.3 60.4 30.2 60.4 28.6 60.4C27.0 60.4 25.9 60.4 25.1 60.6C24.3 60.9 24.3 61.5 23.8 61.9C23.3 62.3 22.5 63.2 22.1 63.3C21.7 63.4 21.2 62.8 21.2 62.3C21.2 61.8 21.7 61.2 22.1 60.6C22.5 60.0 23.0 59.7 23.4 58.8C23.8 57.9 24.1 56.5 24.2 55.4C24.3 54.3 24.4 52.9 23.8 52.4C23.2 51.9 21.6 52.7 20.8 52.4C20.0 52.1 19.5 51.4 19.0 50.6C18.5 49.8 18.3 48.3 17.7 47.6C17.1 46.9 15.9 46.7 15.1 46.3C14.3 45.9 13.6 45.6 13.0 45.0C12.4 44.4 11.9 43.3 11.7 42.5C11.5 41.7 11.6 40.8 11.7 40.0Z" fill="none" stroke="#b496b4" stroke-opacity="0.50" stroke-width="3.0" filter="url(#b1_5)"/><ellipse cx="43.0" cy="47.0" rx="11.0" ry="8.0" fill="#e6dae6" fill-opacity="0.75" filter="url(#b3)"/><ellipse cx="17.0" cy="42.0" rx="5.5" ry="7.5" fill="#875a88" fill-opacity="0.85" filter="url(#b2_5)"/><ellipse cx="30.0" cy="33.0" rx="5.0" ry="3.5" fill="#926a94" fill-opacity="0.80" filter="url(#b2)"/><ellipse cx="48.0" cy="63.0" rx="10.0" ry="4.5" fill="#875a88" fill-opacity="0.80" transform="rotate(-20 48.0 63.0)" filter="url(#b2_5)"/><ellipse cx="66.0" cy="51.0" rx="6.0" ry="4.0" fill="#a384a4" fill-opacity="0.70" filter="url(#b2)"/><ellipse cx="47.7" cy="15.8" rx="7.0" ry="3.5" fill="#a081a2" fill-opacity="0.85" transform="rotate(-50 47.7 15.8)" filter="url(#b0_8)"/><ellipse cx="69.6" cy="20.5" rx="4.3" ry="5.3" fill="#b298b3" fill-opacity="0.80" transform="rotate(10 69.6 20.5)" filter="url(#b0_8)"/><ellipse cx="66.4" cy="32.4" rx="6.8" ry="3.2" fill="#a486a6" fill-opacity="0.85" transform="rotate(32 66.4 32.4)" filter="url(#b0_8)"/><ellipse cx="55.9" cy="10.3" rx="4.0" ry="3.0" fill="#b49cb5" fill-opacity="0.75" transform="rotate(15 55.9 10.3)" filter="url(#b0_8)"/><ellipse cx="58.2" cy="21.5" rx="2.5" ry="5.0" fill="#c4aec5" fill-opacity="0.70" transform="rotate(20 58.2 21.5)" filter="url(#b0_8)"/><use href="#ct"/></g><rect x="0" y="0" width="89.3" height="89.2" fill="none" stroke="#2a2a2a" stroke-width="1.2"/><text x="-6.1" y="6.5" font-size="7.00" fill="#231f20" text-anchor="end">15</text><text x="-6.1" y="20.2" font-size="7.00" fill="#231f20" text-anchor="end">10</text><text x="-6.1" y="33.9" font-size="7.00" fill="#231f20" text-anchor="end">5</text><text x="-6.1" y="47.5" font-size="7.00" fill="#231f20" text-anchor="end">0</text><text x="-6.1" y="61.1" font-size="7.00" fill="#231f20" text-anchor="end">−5</text><text x="-6.1" y="74.8" font-size="7.00" fill="#231f20" text-anchor="end">−10</text><text x="-6.1" y="88.4" font-size="7.00" fill="#231f20" text-anchor="end">−15</text><text x="22.7" y="102.2" font-size="7.00" fill="#231f20" text-anchor="middle">−10</text><text x="46.0" y="102.2" font-size="7.00" fill="#231f20" text-anchor="middle">0</text><text x="69.2" y="102.2" font-size="7.00" fill="#231f20" text-anchor="middle">10</text><path d="M-2.8 4.0H0M-2.8 17.7H0M-2.8 31.4H0M-2.8 45.0H0M-2.8 58.6H0M-2.8 72.2H0M-2.8 85.9H0M22.7 89.2v2.6M46.0 89.2v2.6M69.2 89.2v2.6" stroke="#2a2a2a" stroke-width="1" fill="none"/><text x="2.5" y="10.6" font-size="8.20" fill="#8e5f8e" textLength="15.5" lengthAdjust="spacingAndGlyphs">CMP</text></g>
<g transform="translate(42.3 133.3)"><g clip-path="url(#pclip)"><path d="M37.7 79.2h0.8v0.8h-0.8zM15.0 39.2h0.8v0.8h-0.8zM36.5 25.3h0.8v0.8h-0.8zM36.7 33.2h0.8v0.8h-0.8zM42.5 60.0h0.8v0.8h-0.8zM59.3 26.3h0.8v0.8h-0.8zM50.1 23.6h0.8v0.8h-0.8zM43.1 72.5h0.8v0.8h-0.8zM28.3 45.6h0.8v0.8h-0.8zM69.4 20.2h0.8v0.8h-0.8zM51.6 54.9h0.8v0.8h-0.8zM62.1 34.5h0.8v0.8h-0.8zM24.9 51.3h0.8v0.8h-0.8zM31.1 56.0h0.8v0.8h-0.8zM41.2 23.2h0.8v0.8h-0.8zM22.8 67.2h0.8v0.8h-0.8zM80.6 33.6h0.8v0.8h-0.8zM55.5 51.0h0.8v0.8h-0.8zM20.3 28.7h0.8v0.8h-0.8zM54.5 61.8h0.8v0.8h-0.8zM20.3 39.8h0.8v0.8h-0.8zM20.8 51.9h0.8v0.8h-0.8zM61.1 72.6h0.8v0.8h-0.8zM46.6 79.3h0.8v0.8h-0.8zM70.4 34.0h0.8v0.8h-0.8zM35.9 23.7h0.8v0.8h-0.8zM67.3 50.8h0.8v0.8h-0.8zM42.3 76.3h0.8v0.8h-0.8zM30.4 60.1h0.8v0.8h-0.8zM20.9 57.0h0.8v0.8h-0.8zM14.9 50.0h0.8v0.8h-0.8zM16.0 47.1h0.8v0.8h-0.8zM74.0 49.7h0.8v0.8h-0.8zM43.1 23.6h0.8v0.8h-0.8zM69.2 57.0h0.8v0.8h-0.8zM40.6 29.4h0.8v0.8h-0.8zM44.4 24.1h0.8v0.8h-0.8zM41.9 28.9h0.8v0.8h-0.8zM72.0 59.6h0.8v0.8h-0.8zM22.0 38.0h0.8v0.8h-0.8zM73.0 58.0h0.8v0.8h-0.8zM58.5 61.1h0.8v0.8h-0.8zM13.6 33.0h0.8v0.8h-0.8zM42.4 74.9h0.8v0.8h-0.8zM51.9 46.6h0.8v0.8h-0.8zM79.8 33.4h0.8v0.8h-0.8zM75.3 30.0h0.8v0.8h-0.8zM28.5 59.9h0.8v0.8h-0.8zM31.0 59.4h0.8v0.8h-0.8zM31.7 69.4h0.8v0.8h-0.8zM53.7 36.7h0.8v0.8h-0.8zM58.5 40.2h0.8v0.8h-0.8zM55.8 35.7h0.8v0.8h-0.8zM30.5 43.6h0.8v0.8h-0.8zM56.7 57.8h0.8v0.8h-0.8zM34.3 44.7h0.8v0.8h-0.8zM52.7 36.1h0.8v0.8h-0.8zM58.1 76.2h0.8v0.8h-0.8zM64.0 34.6h0.8v0.8h-0.8zM12.1 43.9h0.8v0.8h-0.8zM42.6 75.0h0.8v0.8h-0.8zM51.0 53.7h0.8v0.8h-0.8zM55.4 55.9h0.8v0.8h-0.8zM60.9 56.3h0.8v0.8h-0.8zM51.5 35.3h0.8v0.8h-0.8zM19.3 48.6h0.8v0.8h-0.8zM32.0 57.4h0.8v0.8h-0.8zM48.9 49.5h0.8v0.8h-0.8zM16.4 34.8h0.8v0.8h-0.8zM30.9 33.2h0.8v0.8h-0.8zM24.5 25.2h0.8v0.8h-0.8zM49.3 31.2h0.8v0.8h-0.8zM58.2 59.0h0.8v0.8h-0.8zM56.8 51.2h0.8v0.8h-0.8zM55.9 39.2h0.8v0.8h-0.8zM44.8 64.8h0.8v0.8h-0.8zM26.2 67.7h0.8v0.8h-0.8zM56.2 55.7h0.8v0.8h-0.8zM67.6 38.7h0.8v0.8h-0.8zM37.9 48.1h0.8v0.8h-0.8zM65.1 66.7h0.8v0.8h-0.8zM38.8 25.7h0.8v0.8h-0.8zM63.9 60.0h0.8v0.8h-0.8zM68.7 48.4h0.8v0.8h-0.8zM65.7 59.3h0.8v0.8h-0.8zM57.6 55.6h0.8v0.8h-0.8zM60.0 56.4h0.8v0.8h-0.8zM62.8 47.8h0.8v0.8h-0.8zM22.5 53.2h0.8v0.8h-0.8zM36.9 30.8h0.8v0.8h-0.8zM76.6 31.5h0.8v0.8h-0.8zM63.4 31.1h0.8v0.8h-0.8zM57.8 49.9h0.8v0.8h-0.8zM22.3 43.1h0.8v0.8h-0.8zM43.1 76.5h0.8v0.8h-0.8zM18.6 55.0h0.8v0.8h-0.8zM45.4 55.9h0.8v0.8h-0.8zM69.4 59.0h0.8v0.8h-0.8zM54.9 37.6h0.8v0.8h-0.8zM51.1 76.4h0.8v0.8h-0.8zM46.6 38.7h0.8v0.8h-0.8zM22.0 35.1h0.8v0.8h-0.8zM42.8 47.4h0.8v0.8h-0.8zM55.1 37.6h0.8v0.8h-0.8zM56.5 50.8h0.8v0.8h-0.8zM51.0 41.8h0.8v0.8h-0.8zM29.1 66.3h0.8v0.8h-0.8zM42.8 64.4h0.8v0.8h-0.8zM42.9 46.1h0.8v0.8h-0.8zM53.3 54.0h0.8v0.8h-0.8zM51.1 56.4h0.8v0.8h-0.8zM71.4 37.9h0.8v0.8h-0.8zM47.1 74.8h0.8v0.8h-0.8zM33.6 51.9h0.8v0.8h-0.8zM28.0 44.2h0.8v0.8h-0.8zM46.0 27.1h0.8v0.8h-0.8zM25.0 52.0h0.8v0.8h-0.8zM70.4 37.8h0.8v0.8h-0.8zM54.1 26.0h0.8v0.8h-0.8zM28.1 32.2h0.8v0.8h-0.8zM47.9 64.7h0.8v0.8h-0.8zM27.1 64.8h0.8v0.8h-0.8zM54.0 68.8h0.8v0.8h-0.8zM48.2 31.5h0.8v0.8h-0.8zM16.3 55.3h0.8v0.8h-0.8zM24.7 37.1h0.8v0.8h-0.8zM67.5 49.0h0.8v0.8h-0.8zM21.0 64.2h0.8v0.8h-0.8zM43.4 55.0h0.8v0.8h-0.8zM68.9 36.1h0.8v0.8h-0.8zM68.5 26.7h0.8v0.8h-0.8zM19.6 53.0h0.8v0.8h-0.8zM23.8 56.5h0.8v0.8h-0.8zM42.5 73.0h0.8v0.8h-0.8zM67.6 52.0h0.8v0.8h-0.8zM40.0 28.1h0.8v0.8h-0.8zM61.6 40.6h0.8v0.8h-0.8zM49.4 43.2h0.8v0.8h-0.8zM39.3 70.2h0.8v0.8h-0.8zM48.4 29.6h0.8v0.8h-0.8zM64.9 36.5h0.8v0.8h-0.8zM40.3 36.1h0.8v0.8h-0.8zM54.8 48.0h0.8v0.8h-0.8zM61.3 47.6h0.8v0.8h-0.8zM68.8 55.8h0.8v0.8h-0.8zM17.9 52.0h0.8v0.8h-0.8zM29.0 39.4h0.8v0.8h-0.8zM65.4 30.1h0.8v0.8h-0.8zM57.2 27.7h0.8v0.8h-0.8zM26.6 28.3h0.8v0.8h-0.8zM59.7 23.0h0.8v0.8h-0.8zM67.5 24.4h0.8v0.8h-0.8zM27.5 70.6h0.8v0.8h-0.8zM67.5 35.2h0.8v0.8h-0.8zM48.1 72.0h0.8v0.8h-0.8zM55.3 54.1h0.8v0.8h-0.8zM24.1 54.1h0.8v0.8h-0.8zM54.7 49.9h0.8v0.8h-0.8zM57.7 56.7h0.8v0.8h-0.8zM58.4 46.7h0.8v0.8h-0.8zM73.2 54.5h0.8v0.8h-0.8zM61.8 55.9h0.8v0.8h-0.8zM28.6 26.7h0.8v0.8h-0.8zM59.6 36.1h0.8v0.8h-0.8zM55.9 55.7h0.8v0.8h-0.8zM55.5 47.9h0.8v0.8h-0.8zM28.0 39.7h0.8v0.8h-0.8zM33.9 40.4h0.8v0.8h-0.8zM43.6 47.9h0.8v0.8h-0.8zM57.4 69.1h0.8v0.8h-0.8zM43.6 49.0h0.8v0.8h-0.8zM58.9 40.4h0.8v0.8h-0.8zM72.2 47.2h0.8v0.8h-0.8zM51.8 53.8h0.8v0.8h-0.8zM37.3 20.7h0.8v0.8h-0.8zM30.9 51.0h0.8v0.8h-0.8zM69.3 38.2h0.8v0.8h-0.8zM15.1 39.4h0.8v0.8h-0.8zM23.4 52.8h0.8v0.8h-0.8zM17.1 44.6h0.8v0.8h-0.8zM47.2 73.1h0.8v0.8h-0.8zM31.7 63.3h0.8v0.8h-0.8zM20.6 36.7h0.8v0.8h-0.8zM54.0 66.3h0.8v0.8h-0.8zM41.5 80.9h0.8v0.8h-0.8zM64.2 56.9h0.8v0.8h-0.8zM75.5 31.7h0.8v0.8h-0.8zM31.9 55.8h0.8v0.8h-0.8zM60.9 23.0h0.8v0.8h-0.8zM25.4 69.5h0.8v0.8h-0.8zM57.1 75.6h0.8v0.8h-0.8zM51.3 36.6h0.8v0.8h-0.8zM45.3 50.3h0.8v0.8h-0.8zM36.4 57.7h0.8v0.8h-0.8zM21.2 36.4h0.8v0.8h-0.8zM49.4 67.9h0.8v0.8h-0.8zM40.2 78.6h0.8v0.8h-0.8zM55.6 62.8h0.8v0.8h-0.8zM61.2 31.6h0.8v0.8h-0.8zM64.9 30.1h0.8v0.8h-0.8zM38.9 44.6h0.8v0.8h-0.8zM35.1 43.5h0.8v0.8h-0.8zM22.0 46.0h0.8v0.8h-0.8zM36.5 66.3h0.8v0.8h-0.8zM54.5 24.5h0.8v0.8h-0.8zM37.3 41.3h0.8v0.8h-0.8zM56.7 20.5h0.8v0.8h-0.8zM66.6 24.8h0.8v0.8h-0.8zM41.7 51.5h0.8v0.8h-0.8zM21.1 63.3h0.8v0.8h-0.8zM27.6 60.1h0.8v0.8h-0.8zM41.0 82.1h0.8v0.8h-0.8zM43.7 37.7h0.8v0.8h-0.8zM36.1 35.8h0.8v0.8h-0.8zM50.1 63.6h0.8v0.8h-0.8zM34.7 67.0h0.8v0.8h-0.8zM47.1 64.9h0.8v0.8h-0.8zM60.6 26.0h0.8v0.8h-0.8zM32.8 31.8h0.8v0.8h-0.8zM31.5 27.4h0.8v0.8h-0.8zM66.8 30.4h0.8v0.8h-0.8zM46.8 39.3h0.8v0.8h-0.8zM68.9 52.9h0.8v0.8h-0.8zM49.3 44.3h0.8v0.8h-0.8zM39.2 73.8h0.8v0.8h-0.8zM17.9 48.1h0.8v0.8h-0.8zM50.5 30.1h0.8v0.8h-0.8zM50.8 67.6h0.8v0.8h-0.8zM55.1 51.0h0.8v0.8h-0.8zM22.9 61.7h0.8v0.8h-0.8zM43.2 64.1h0.8v0.8h-0.8zM13.2 39.1h0.8v0.8h-0.8zM45.9 38.6h0.8v0.8h-0.8zM68.6 53.8h0.8v0.8h-0.8zM31.8 45.5h0.8v0.8h-0.8zM61.1 26.8h0.8v0.8h-0.8zM42.7 59.7h0.8v0.8h-0.8zM40.7 62.4h0.8v0.8h-0.8zM35.7 62.6h0.8v0.8h-0.8zM25.6 51.8h0.8v0.8h-0.8zM42.1 54.2h0.8v0.8h-0.8zM14.1 35.8h0.8v0.8h-0.8zM63.7 30.8h0.8v0.8h-0.8zM55.7 67.7h0.8v0.8h-0.8zM39.1 45.7h0.8v0.8h-0.8zM66.6 21.7h0.8v0.8h-0.8zM45.2 37.6h0.8v0.8h-0.8zM51.8 67.6h0.8v0.8h-0.8zM74.6 53.0h0.8v0.8h-0.8zM61.9 25.1h0.8v0.8h-0.8zM56.2 51.9h0.8v0.8h-0.8zM48.3 46.8h0.8v0.8h-0.8zM23.4 32.8h0.8v0.8h-0.8zM69.6 53.5h0.8v0.8h-0.8zM23.6 53.0h0.8v0.8h-0.8zM44.5 30.8h0.8v0.8h-0.8zM30.0 32.1h0.8v0.8h-0.8zM58.4 63.3h0.8v0.8h-0.8zM41.7 49.7h0.8v0.8h-0.8zM44.9 68.6h0.8v0.8h-0.8zM65.5 40.0h0.8v0.8h-0.8zM66.1 59.0h0.8v0.8h-0.8zM56.6 61.4h0.8v0.8h-0.8zM15.6 43.7h0.8v0.8h-0.8zM65.0 27.2h0.8v0.8h-0.8zM12.9 46.9h0.8v0.8h-0.8zM27.2 25.3h0.8v0.8h-0.8zM62.6 33.4h0.8v0.8h-0.8zM66.3 20.6h0.8v0.8h-0.8zM22.9 40.8h0.8v0.8h-0.8zM22.1 67.7h0.8v0.8h-0.8zM67.2 37.4h0.8v0.8h-0.8zM52.5 25.5h0.8v0.8h-0.8zM65.5 62.2h0.8v0.8h-0.8zM44.6 49.0h0.8v0.8h-0.8zM57.8 71.2h0.8v0.8h-0.8zM75.9 42.5h0.8v0.8h-0.8zM51.9 67.1h0.8v0.8h-0.8zM67.0 31.0h0.8v0.8h-0.8zM60.0 48.5h0.8v0.8h-0.8z" fill="#d4c4a0" fill-opacity="0.80"/><ellipse cx="38.0" cy="45.0" rx="22.0" ry="11.0" fill="#e4d8bc" fill-opacity="0.80" transform="rotate(-12 38.0 45.0)" filter="url(#b3)"/><ellipse cx="52.0" cy="43.0" rx="14.0" ry="6.0" fill="#d0bf94" fill-opacity="0.70" transform="rotate(-5 52.0 43.0)" filter="url(#b3)"/><ellipse cx="39.0" cy="40.0" rx="9.0" ry="4.5" fill="#a48c58" fill-opacity="0.80" transform="rotate(-10 39.0 40.0)" filter="url(#b2_2)"/><ellipse cx="31.0" cy="48.0" rx="3.5" ry="7.0" fill="#a08858" fill-opacity="0.80" transform="rotate(35 31.0 48.0)" filter="url(#b2)"/><ellipse cx="26.5" cy="55.0" rx="3.0" ry="5.5" fill="#7e6636" fill-opacity="0.90" transform="rotate(15 26.5 55.0)" filter="url(#b1_8)"/><ellipse cx="20.0" cy="45.0" rx="4.0" ry="6.0" fill="#d8caa8" fill-opacity="0.70" filter="url(#b2)"/><ellipse cx="69.6" cy="20.5" rx="4.3" ry="5.3" fill="#d8c8a4" fill-opacity="0.85" transform="rotate(10 69.6 20.5)" filter="url(#b0_8)"/><ellipse cx="58.2" cy="21.5" rx="2.5" ry="5.0" fill="#c4ae80" fill-opacity="0.85" transform="rotate(20 58.2 21.5)" filter="url(#b0_8)"/><ellipse cx="65.0" cy="67.0" rx="2.7" ry="2.6" fill="#d8c8a8" fill-opacity="0.70" filter="url(#b0_8)"/><use href="#ct"/></g><rect x="0" y="0" width="89.3" height="89.2" fill="none" stroke="#2a2a2a" stroke-width="1.2"/><text x="-6.1" y="6.5" font-size="7.00" fill="#231f20" text-anchor="end">15</text><text x="-6.1" y="20.2" font-size="7.00" fill="#231f20" text-anchor="end">10</text><text x="-6.1" y="33.9" font-size="7.00" fill="#231f20" text-anchor="end">5</text><text x="-6.1" y="47.5" font-size="7.00" fill="#231f20" text-anchor="end">0</text><text x="-6.1" y="61.1" font-size="7.00" fill="#231f20" text-anchor="end">−5</text><text x="-6.1" y="74.8" font-size="7.00" fill="#231f20" text-anchor="end">−10</text><text x="-6.1" y="88.4" font-size="7.00" fill="#231f20" text-anchor="end">−15</text><text x="22.7" y="102.2" font-size="7.00" fill="#231f20" text-anchor="middle">−10</text><text x="46.0" y="102.2" font-size="7.00" fill="#231f20" text-anchor="middle">0</text><text x="69.2" y="102.2" font-size="7.00" fill="#231f20" text-anchor="middle">10</text><path d="M-2.8 4.0H0M-2.8 17.7H0M-2.8 31.4H0M-2.8 45.0H0M-2.8 58.6H0M-2.8 72.2H0M-2.8 85.9H0M22.7 89.2v2.6M46.0 89.2v2.6M69.2 89.2v2.6" stroke="#2a2a2a" stroke-width="1" fill="none"/><text x="2.5" y="10.6" font-size="8.20" fill="#a08448" textLength="15.6" lengthAdjust="spacingAndGlyphs">MPP</text></g>
<g transform="translate(155.4 133.3)"><g clip-path="url(#pclip)"><use href="#cloud" fill="#f2e4e4" fill-opacity="0.80" filter="url(#b1_5)"/><path d="M23.4 28.4h0.8v0.8h-0.8zM35.8 67.5h0.8v0.8h-0.8zM51.9 32.3h0.8v0.8h-0.8zM28.9 44.3h0.8v0.8h-0.8zM43.3 9.3h0.8v0.8h-0.8zM56.4 51.1h0.8v0.8h-0.8zM49.4 30.9h0.8v0.8h-0.8zM46.1 36.2h0.8v0.8h-0.8zM54.8 62.3h0.8v0.8h-0.8zM28.5 56.6h0.8v0.8h-0.8zM27.0 68.4h0.8v0.8h-0.8zM22.3 55.5h0.8v0.8h-0.8zM35.5 27.7h0.8v0.8h-0.8zM58.2 15.9h0.8v0.8h-0.8zM60.3 37.9h0.8v0.8h-0.8zM50.2 33.9h0.8v0.8h-0.8zM70.8 43.5h0.8v0.8h-0.8zM45.2 60.0h0.8v0.8h-0.8zM33.8 62.6h0.8v0.8h-0.8zM50.1 12.8h0.8v0.8h-0.8zM71.1 48.1h0.8v0.8h-0.8zM71.5 58.9h0.8v0.8h-0.8zM53.1 19.5h0.8v0.8h-0.8zM41.7 29.6h0.8v0.8h-0.8zM23.7 55.6h0.8v0.8h-0.8zM54.7 38.9h0.8v0.8h-0.8zM34.7 16.9h0.8v0.8h-0.8zM64.1 36.6h0.8v0.8h-0.8zM56.1 74.6h0.8v0.8h-0.8zM11.5 41.0h0.8v0.8h-0.8zM57.8 21.7h0.8v0.8h-0.8zM48.7 10.9h0.8v0.8h-0.8zM16.7 48.2h0.8v0.8h-0.8zM50.7 23.1h0.8v0.8h-0.8zM54.6 31.5h0.8v0.8h-0.8zM76.5 43.2h0.8v0.8h-0.8zM19.7 29.7h0.8v0.8h-0.8zM58.4 13.1h0.8v0.8h-0.8zM39.9 11.2h0.8v0.8h-0.8zM51.5 59.4h0.8v0.8h-0.8zM56.4 25.3h0.8v0.8h-0.8zM31.3 56.0h0.8v0.8h-0.8zM57.3 58.2h0.8v0.8h-0.8zM52.0 24.9h0.8v0.8h-0.8zM35.7 31.3h0.8v0.8h-0.8zM45.9 24.7h0.8v0.8h-0.8zM47.5 73.1h0.8v0.8h-0.8zM35.0 69.0h0.8v0.8h-0.8zM71.1 34.9h0.8v0.8h-0.8zM67.9 34.9h0.8v0.8h-0.8zM19.7 40.6h0.8v0.8h-0.8zM26.4 47.3h0.8v0.8h-0.8zM73.7 55.9h0.8v0.8h-0.8zM63.9 68.0h0.8v0.8h-0.8zM55.5 61.2h0.8v0.8h-0.8zM51.7 50.4h0.8v0.8h-0.8zM21.2 47.6h0.8v0.8h-0.8zM31.5 65.7h0.8v0.8h-0.8zM22.8 57.6h0.8v0.8h-0.8zM38.7 62.8h0.8v0.8h-0.8zM44.9 14.5h0.8v0.8h-0.8zM57.1 57.1h0.8v0.8h-0.8zM48.0 48.1h0.8v0.8h-0.8zM41.9 74.1h0.8v0.8h-0.8zM61.7 73.4h0.8v0.8h-0.8zM24.2 46.3h0.8v0.8h-0.8zM57.2 69.0h0.8v0.8h-0.8zM30.0 31.0h0.8v0.8h-0.8zM58.2 67.9h0.8v0.8h-0.8zM53.5 32.4h0.8v0.8h-0.8zM15.5 48.7h0.8v0.8h-0.8zM50.4 73.9h0.8v0.8h-0.8zM34.2 46.8h0.8v0.8h-0.8zM21.0 44.1h0.8v0.8h-0.8zM72.1 52.9h0.8v0.8h-0.8zM21.9 54.8h0.8v0.8h-0.8zM40.2 33.3h0.8v0.8h-0.8zM55.9 57.2h0.8v0.8h-0.8zM16.7 42.2h0.8v0.8h-0.8zM24.1 64.4h0.8v0.8h-0.8zM27.8 49.2h0.8v0.8h-0.8zM57.8 15.9h0.8v0.8h-0.8zM50.1 12.9h0.8v0.8h-0.8zM29.0 43.3h0.8v0.8h-0.8zM51.3 60.6h0.8v0.8h-0.8zM34.8 22.8h0.8v0.8h-0.8zM67.7 36.2h0.8v0.8h-0.8zM40.8 76.1h0.8v0.8h-0.8zM42.2 74.2h0.8v0.8h-0.8zM45.1 54.4h0.8v0.8h-0.8zM26.7 39.8h0.8v0.8h-0.8zM43.6 26.5h0.8v0.8h-0.8zM29.7 33.7h0.8v0.8h-0.8zM21.8 54.0h0.8v0.8h-0.8zM21.0 31.6h0.8v0.8h-0.8zM48.2 75.9h0.8v0.8h-0.8zM33.6 41.4h0.8v0.8h-0.8zM22.9 32.1h0.8v0.8h-0.8zM14.6 42.4h0.8v0.8h-0.8zM23.7 25.9h0.8v0.8h-0.8zM67.6 35.2h0.8v0.8h-0.8zM59.0 24.3h0.8v0.8h-0.8zM46.3 78.3h0.8v0.8h-0.8zM57.1 8.2h0.8v0.8h-0.8zM70.6 50.9h0.8v0.8h-0.8zM46.5 49.7h0.8v0.8h-0.8zM38.5 77.5h0.8v0.8h-0.8zM19.9 34.7h0.8v0.8h-0.8zM45.7 10.2h0.8v0.8h-0.8zM27.4 70.7h0.8v0.8h-0.8zM41.3 54.1h0.8v0.8h-0.8zM15.7 37.0h0.8v0.8h-0.8zM52.3 68.3h0.8v0.8h-0.8zM26.7 68.8h0.8v0.8h-0.8zM51.3 19.7h0.8v0.8h-0.8zM53.2 37.9h0.8v0.8h-0.8zM65.0 23.5h0.8v0.8h-0.8zM33.3 42.3h0.8v0.8h-0.8zM66.4 65.1h0.8v0.8h-0.8zM21.5 39.7h0.8v0.8h-0.8zM29.8 47.4h0.8v0.8h-0.8zM39.6 46.6h0.8v0.8h-0.8zM36.7 25.7h0.8v0.8h-0.8zM58.9 41.5h0.8v0.8h-0.8zM63.5 57.0h0.8v0.8h-0.8zM47.1 48.0h0.8v0.8h-0.8zM39.9 82.0h0.8v0.8h-0.8zM72.5 31.8h0.8v0.8h-0.8zM33.2 41.7h0.8v0.8h-0.8zM30.2 69.6h0.8v0.8h-0.8zM65.7 34.2h0.8v0.8h-0.8zM67.0 35.2h0.8v0.8h-0.8zM57.9 13.7h0.8v0.8h-0.8zM32.0 52.7h0.8v0.8h-0.8zM57.0 44.4h0.8v0.8h-0.8zM22.7 57.8h0.8v0.8h-0.8zM58.5 34.1h0.8v0.8h-0.8zM24.6 58.7h0.8v0.8h-0.8zM60.7 58.5h0.8v0.8h-0.8zM44.8 72.9h0.8v0.8h-0.8zM20.6 35.1h0.8v0.8h-0.8zM72.9 29.9h0.8v0.8h-0.8zM67.1 55.9h0.8v0.8h-0.8zM36.9 28.7h0.8v0.8h-0.8zM64.2 46.1h0.8v0.8h-0.8zM58.0 38.1h0.8v0.8h-0.8zM28.4 29.8h0.8v0.8h-0.8zM24.3 64.0h0.8v0.8h-0.8zM71.4 61.9h0.8v0.8h-0.8zM68.0 22.5h0.8v0.8h-0.8zM49.2 7.7h0.8v0.8h-0.8zM34.4 45.4h0.8v0.8h-0.8zM76.8 32.0h0.8v0.8h-0.8zM64.7 40.9h0.8v0.8h-0.8zM43.0 79.0h0.8v0.8h-0.8zM65.3 46.0h0.8v0.8h-0.8zM24.1 64.6h0.8v0.8h-0.8zM32.2 30.8h0.8v0.8h-0.8zM23.5 60.9h0.8v0.8h-0.8zM29.4 39.1h0.8v0.8h-0.8zM50.1 67.9h0.8v0.8h-0.8zM74.6 49.2h0.8v0.8h-0.8zM74.3 21.1h0.8v0.8h-0.8zM60.9 58.0h0.8v0.8h-0.8zM64.6 51.7h0.8v0.8h-0.8zM40.0 24.8h0.8v0.8h-0.8zM77.0 32.2h0.8v0.8h-0.8zM32.3 55.2h0.8v0.8h-0.8zM40.2 10.5h0.8v0.8h-0.8zM76.3 47.0h0.8v0.8h-0.8zM68.1 35.4h0.8v0.8h-0.8zM70.1 61.1h0.8v0.8h-0.8zM11.0 44.9h0.8v0.8h-0.8zM41.0 44.0h0.8v0.8h-0.8zM52.2 63.7h0.8v0.8h-0.8zM39.2 49.2h0.8v0.8h-0.8zM37.9 79.7h0.8v0.8h-0.8zM36.4 68.3h0.8v0.8h-0.8zM47.6 59.1h0.8v0.8h-0.8zM63.2 58.5h0.8v0.8h-0.8zM20.1 53.3h0.8v0.8h-0.8zM41.4 62.8h0.8v0.8h-0.8zM70.8 22.5h0.8v0.8h-0.8zM36.4 26.8h0.8v0.8h-0.8zM47.8 15.8h0.8v0.8h-0.8zM39.0 43.3h0.8v0.8h-0.8zM50.3 19.1h0.8v0.8h-0.8zM20.2 62.8h0.8v0.8h-0.8zM48.9 39.8h0.8v0.8h-0.8zM47.0 39.8h0.8v0.8h-0.8zM62.6 55.4h0.8v0.8h-0.8zM26.3 54.5h0.8v0.8h-0.8zM44.4 69.7h0.8v0.8h-0.8zM57.5 48.1h0.8v0.8h-0.8zM21.7 37.3h0.8v0.8h-0.8zM54.6 27.5h0.8v0.8h-0.8zM44.5 32.4h0.8v0.8h-0.8zM53.9 60.1h0.8v0.8h-0.8zM42.5 36.5h0.8v0.8h-0.8zM68.7 52.1h0.8v0.8h-0.8zM56.9 48.4h0.8v0.8h-0.8zM42.7 75.8h0.8v0.8h-0.8zM73.0 51.2h0.8v0.8h-0.8zM55.2 40.5h0.8v0.8h-0.8zM62.6 35.6h0.8v0.8h-0.8zM68.3 40.8h0.8v0.8h-0.8zM64.0 47.9h0.8v0.8h-0.8zM37.9 65.8h0.8v0.8h-0.8zM61.7 13.1h0.8v0.8h-0.8zM48.3 28.7h0.8v0.8h-0.8zM60.1 19.2h0.8v0.8h-0.8zM30.3 26.4h0.8v0.8h-0.8zM28.8 53.1h0.8v0.8h-0.8zM60.0 69.7h0.8v0.8h-0.8zM38.2 41.4h0.8v0.8h-0.8zM60.4 22.6h0.8v0.8h-0.8zM34.5 20.2h0.8v0.8h-0.8zM56.7 50.6h0.8v0.8h-0.8zM50.6 48.5h0.8v0.8h-0.8zM57.4 71.1h0.8v0.8h-0.8z" fill="#dcbcbc" fill-opacity="0.70"/><path d="M11.7 40.0C11.8 39.2 11.8 38.1 12.0 37.5C12.2 36.9 12.3 37.0 13.0 36.3C13.7 35.6 14.9 33.9 16.0 33.3C17.1 32.7 18.4 32.6 19.5 32.7C20.6 32.9 22.0 34.2 22.9 34.2C23.8 34.2 24.2 33.3 24.7 32.5C25.2 31.7 25.4 30.1 26.0 29.4C26.6 28.7 27.8 28.2 28.6 28.1C29.4 28.0 30.0 28.4 30.7 29.0C31.4 29.6 32.1 31.4 32.9 32.0C33.7 32.6 34.5 32.7 35.5 32.7C36.5 32.7 37.9 32.4 38.9 32.0C39.9 31.6 40.7 30.9 41.7 30.5C42.7 30.1 43.9 29.8 45.0 29.4C46.1 29.0 47.4 28.5 48.5 28.3C49.6 28.1 50.4 28.2 51.5 28.3C52.6 28.4 54.0 28.6 55.0 29.2C56.0 29.8 56.7 30.8 57.5 31.7C58.3 32.6 59.1 33.8 59.9 34.8C60.7 35.8 61.7 36.8 62.4 37.8C63.1 38.8 64.0 40.1 64.2 40.9C64.4 41.7 63.8 42.2 63.6 42.8C63.5 43.4 63.1 44.0 63.3 44.6C63.5 45.2 64.1 45.9 64.8 46.2C65.5 46.5 66.5 46.5 67.3 46.2C68.1 45.9 69.0 45.1 69.8 44.6C70.6 44.1 71.4 43.4 72.2 43.3C73.0 43.1 74.0 43.3 74.7 43.7C75.4 44.1 76.0 44.7 76.2 45.5C76.5 46.3 76.5 47.5 76.2 48.3C76.0 49.1 75.5 49.7 74.7 50.2C73.9 50.7 72.6 51.0 71.6 51.4C70.6 51.8 69.4 52.2 68.8 52.6C68.2 53.0 67.9 53.5 68.2 53.8C68.5 54.1 69.7 54.2 70.4 54.5C71.1 54.8 72.0 55.0 72.2 55.4C72.5 55.8 72.3 56.4 71.9 56.9C71.5 57.4 70.6 57.8 69.8 58.2C69.0 58.6 68.0 59.1 67.3 59.4C66.6 59.7 66.3 59.7 65.5 60.0C64.7 60.3 63.5 60.5 62.3 61.0C61.0 61.5 59.4 62.2 58.0 63.2C56.6 64.2 55.0 66.0 53.7 67.1C52.4 68.2 51.2 69.2 50.2 69.7C49.2 70.2 48.5 70.3 47.6 70.3C46.7 70.3 46.1 70.0 45.0 69.7C43.9 69.4 42.2 68.8 41.1 68.4C40.0 68.0 39.1 67.3 38.5 67.3C37.9 67.3 37.7 67.9 37.2 68.4C36.7 68.9 36.1 70.1 35.5 70.5C34.9 70.9 34.2 71.2 33.3 71.0C32.4 70.8 31.1 70.0 30.3 69.2C29.5 68.4 28.9 67.1 28.6 66.2C28.3 65.3 28.4 64.2 28.6 63.6C28.8 63.0 29.2 62.4 29.9 62.3C30.6 62.1 31.9 62.6 32.9 62.7C33.9 62.8 35.3 63.1 35.9 63.0C36.5 62.9 36.5 62.3 36.3 61.9C36.1 61.5 35.9 60.9 34.6 60.6C33.3 60.4 30.2 60.4 28.6 60.4C27.0 60.4 25.9 60.4 25.1 60.6C24.3 60.9 24.3 61.5 23.8 61.9C23.3 62.3 22.5 63.2 22.1 63.3C21.7 63.4 21.2 62.8 21.2 62.3C21.2 61.8 21.7 61.2 22.1 60.6C22.5 60.0 23.0 59.7 23.4 58.8C23.8 57.9 24.1 56.5 24.2 55.4C24.3 54.3 24.4 52.9 23.8 52.4C23.2 51.9 21.6 52.7 20.8 52.4C20.0 52.1 19.5 51.4 19.0 50.6C18.5 49.8 18.3 48.3 17.7 47.6C17.1 46.9 15.9 46.7 15.1 46.3C14.3 45.9 13.6 45.6 13.0 45.0C12.4 44.4 11.9 43.3 11.7 42.5C11.5 41.7 11.6 40.8 11.7 40.0Z" fill="#c9a0a0" fill-opacity="0.90" filter="url(#b1_5)"/><ellipse cx="19.0" cy="38.0" rx="5.0" ry="5.0" fill="#761c24" fill-opacity="0.90" filter="url(#b2)"/><ellipse cx="38.0" cy="41.0" rx="14.0" ry="7.0" fill="#b88484" fill-opacity="0.60" filter="url(#b3)"/><ellipse cx="58.0" cy="52.0" rx="9.0" ry="6.0" fill="#c8a0a0" fill-opacity="0.50" filter="url(#b3)"/><ellipse cx="45.0" cy="62.0" rx="10.0" ry="4.0" fill="#c09090" fill-opacity="0.50" filter="url(#b2_5)"/><ellipse cx="69.6" cy="20.5" rx="4.3" ry="5.3" fill="#b88888" fill-opacity="0.85" transform="rotate(10 69.6 20.5)" filter="url(#b0_8)"/><ellipse cx="65.0" cy="67.0" rx="2.7" ry="2.6" fill="#b88888" fill-opacity="0.85" filter="url(#b0_8)"/><ellipse cx="47.7" cy="15.8" rx="7.0" ry="3.5" fill="#dcc4c4" fill-opacity="0.70" transform="rotate(-50 47.7 15.8)" filter="url(#b0_8)"/><ellipse cx="58.2" cy="21.5" rx="2.5" ry="5.0" fill="#d8c0c0" fill-opacity="0.60" transform="rotate(20 58.2 21.5)" filter="url(#b0_8)"/><ellipse cx="66.4" cy="32.4" rx="6.8" ry="3.2" fill="#dcc4c4" fill-opacity="0.60" transform="rotate(32 66.4 32.4)" filter="url(#b0_8)"/><use href="#ct"/></g><rect x="0" y="0" width="89.3" height="89.2" fill="none" stroke="#2a2a2a" stroke-width="1.2"/><text x="-6.1" y="6.5" font-size="7.00" fill="#231f20" text-anchor="end">15</text><text x="-6.1" y="20.2" font-size="7.00" fill="#231f20" text-anchor="end">10</text><text x="-6.1" y="33.9" font-size="7.00" fill="#231f20" text-anchor="end">5</text><text x="-6.1" y="47.5" font-size="7.00" fill="#231f20" text-anchor="end">0</text><text x="-6.1" y="61.1" font-size="7.00" fill="#231f20" text-anchor="end">−5</text><text x="-6.1" y="74.8" font-size="7.00" fill="#231f20" text-anchor="end">−10</text><text x="-6.1" y="88.4" font-size="7.00" fill="#231f20" text-anchor="end">−15</text><text x="22.7" y="102.2" font-size="7.00" fill="#231f20" text-anchor="middle">−10</text><text x="46.0" y="102.2" font-size="7.00" fill="#231f20" text-anchor="middle">0</text><text x="69.2" y="102.2" font-size="7.00" fill="#231f20" text-anchor="middle">10</text><path d="M-2.8 4.0H0M-2.8 17.7H0M-2.8 31.4H0M-2.8 45.0H0M-2.8 58.6H0M-2.8 72.2H0M-2.8 85.9H0M22.7 89.2v2.6M46.0 89.2v2.6M69.2 89.2v2.6" stroke="#2a2a2a" stroke-width="1" fill="none"/><text x="2.5" y="10.6" font-size="8.20" fill="#8c2f2f" textLength="15.6" lengthAdjust="spacingAndGlyphs">MEP</text></g>
<g transform="translate(42.3 243.9)"><g clip-path="url(#pclip)"><path d="M64.1 62.9h0.6v0.6h-0.6zM72.1 45.3h0.6v0.6h-0.6zM58.0 18.5h0.6v0.6h-0.6zM16.1 43.9h0.6v0.6h-0.6zM61.1 27.6h0.6v0.6h-0.6zM46.8 45.1h0.6v0.6h-0.6zM28.9 57.6h0.6v0.6h-0.6zM37.2 35.7h0.6v0.6h-0.6zM43.2 53.4h0.6v0.6h-0.6zM14.9 49.9h0.6v0.6h-0.6zM42.9 72.9h0.6v0.6h-0.6zM84.0 37.7h0.6v0.6h-0.6zM37.2 49.6h0.6v0.6h-0.6zM38.6 32.9h0.6v0.6h-0.6zM45.6 45.2h0.6v0.6h-0.6zM23.7 48.9h0.6v0.6h-0.6zM53.3 53.0h0.6v0.6h-0.6zM65.5 44.0h0.6v0.6h-0.6zM18.8 32.8h0.6v0.6h-0.6zM41.3 41.0h0.6v0.6h-0.6zM32.7 51.0h0.6v0.6h-0.6zM55.7 19.8h0.6v0.6h-0.6zM42.3 20.0h0.6v0.6h-0.6zM50.7 64.8h0.6v0.6h-0.6zM18.5 44.4h0.6v0.6h-0.6zM60.0 38.1h0.6v0.6h-0.6zM39.2 62.2h0.6v0.6h-0.6zM72.8 47.1h0.6v0.6h-0.6zM41.0 63.1h0.6v0.6h-0.6zM48.7 18.4h0.6v0.6h-0.6zM47.5 32.7h0.6v0.6h-0.6zM47.9 38.7h0.6v0.6h-0.6zM51.2 42.5h0.6v0.6h-0.6zM66.9 59.3h0.6v0.6h-0.6zM30.8 24.9h0.6v0.6h-0.6zM27.8 34.5h0.6v0.6h-0.6zM41.9 47.8h0.6v0.6h-0.6zM29.6 32.1h0.6v0.6h-0.6zM48.9 10.5h0.6v0.6h-0.6zM57.6 12.8h0.6v0.6h-0.6z" fill="#c0c8a0" fill-opacity="0.60"/><ellipse cx="79.0" cy="35.0" rx="1.8" ry="3.0" fill="#4a5a20" fill-opacity="0.90" filter="url(#b0_5)"/><use href="#ct"/></g><rect x="0" y="0" width="89.3" height="89.2" fill="none" stroke="#2a2a2a" stroke-width="1.2"/><text x="-6.1" y="6.5" font-size="7.00" fill="#231f20" text-anchor="end">15</text><text x="-6.1" y="20.2" font-size="7.00" fill="#231f20" text-anchor="end">10</text><text x="-6.1" y="33.9" font-size="7.00" fill="#231f20" text-anchor="end">5</text><text x="-6.1" y="47.5" font-size="7.00" fill="#231f20" text-anchor="end">0</text><text x="-6.1" y="61.1" font-size="7.00" fill="#231f20" text-anchor="end">−5</text><text x="-6.1" y="74.8" font-size="7.00" fill="#231f20" text-anchor="end">−10</text><text x="-6.1" y="88.4" font-size="7.00" fill="#231f20" text-anchor="end">−15</text><text x="22.7" y="102.2" font-size="7.00" fill="#231f20" text-anchor="middle">−10</text><text x="46.0" y="102.2" font-size="7.00" fill="#231f20" text-anchor="middle">0</text><text x="69.2" y="102.2" font-size="7.00" fill="#231f20" text-anchor="middle">10</text><path d="M-2.8 4.0H0M-2.8 17.7H0M-2.8 31.4H0M-2.8 45.0H0M-2.8 58.6H0M-2.8 72.2H0M-2.8 85.9H0M22.7 89.2v2.6M46.0 89.2v2.6M69.2 89.2v2.6" stroke="#2a2a2a" stroke-width="1" fill="none"/><text x="2.5" y="10.6" font-size="8.20" fill="#66763a" textLength="19.5" lengthAdjust="spacingAndGlyphs">LMPP</text></g>
<g transform="translate(155.4 243.9)"><g clip-path="url(#pclip)"><use href="#cloud" fill="#e6e2f2" fill-opacity="0.85" filter="url(#b1_5)"/><path d="M55.5 54.9h0.8v0.8h-0.8zM67.7 67.9h0.8v0.8h-0.8zM53.5 50.3h0.8v0.8h-0.8zM72.2 31.2h0.8v0.8h-0.8zM63.6 53.8h0.8v0.8h-0.8zM23.0 52.9h0.8v0.8h-0.8zM33.1 31.2h0.8v0.8h-0.8zM26.7 70.6h0.8v0.8h-0.8zM60.1 16.4h0.8v0.8h-0.8zM51.8 48.0h0.8v0.8h-0.8zM39.6 53.2h0.8v0.8h-0.8zM68.4 44.6h0.8v0.8h-0.8zM48.2 30.6h0.8v0.8h-0.8zM59.4 11.0h0.8v0.8h-0.8zM49.3 41.3h0.8v0.8h-0.8zM55.9 29.1h0.8v0.8h-0.8zM51.4 41.9h0.8v0.8h-0.8zM50.4 35.9h0.8v0.8h-0.8zM43.9 28.0h0.8v0.8h-0.8zM42.8 27.4h0.8v0.8h-0.8zM31.9 28.1h0.8v0.8h-0.8zM51.7 29.8h0.8v0.8h-0.8zM66.5 30.8h0.8v0.8h-0.8zM63.5 27.4h0.8v0.8h-0.8zM59.6 35.6h0.8v0.8h-0.8zM48.2 28.4h0.8v0.8h-0.8zM50.9 60.1h0.8v0.8h-0.8zM53.4 53.2h0.8v0.8h-0.8zM39.7 39.5h0.8v0.8h-0.8zM50.1 71.1h0.8v0.8h-0.8zM56.4 49.1h0.8v0.8h-0.8zM60.9 27.2h0.8v0.8h-0.8zM72.7 17.5h0.8v0.8h-0.8zM22.8 67.2h0.8v0.8h-0.8zM50.0 21.0h0.8v0.8h-0.8zM27.4 60.3h0.8v0.8h-0.8zM69.9 52.5h0.8v0.8h-0.8zM67.1 15.5h0.8v0.8h-0.8zM39.8 18.0h0.8v0.8h-0.8zM60.3 34.7h0.8v0.8h-0.8zM72.1 36.0h0.8v0.8h-0.8zM20.1 51.5h0.8v0.8h-0.8zM42.9 15.4h0.8v0.8h-0.8zM82.6 34.1h0.8v0.8h-0.8zM57.0 10.1h0.8v0.8h-0.8zM63.1 16.1h0.8v0.8h-0.8zM61.3 44.8h0.8v0.8h-0.8zM45.2 23.6h0.8v0.8h-0.8zM56.4 68.5h0.8v0.8h-0.8zM67.8 39.1h0.8v0.8h-0.8zM51.7 30.7h0.8v0.8h-0.8zM60.7 41.6h0.8v0.8h-0.8zM71.6 29.8h0.8v0.8h-0.8zM37.4 12.0h0.8v0.8h-0.8zM37.3 80.0h0.8v0.8h-0.8zM35.4 25.9h0.8v0.8h-0.8zM56.9 35.2h0.8v0.8h-0.8zM62.7 66.2h0.8v0.8h-0.8zM70.4 34.1h0.8v0.8h-0.8zM48.8 28.7h0.8v0.8h-0.8zM40.0 82.7h0.8v0.8h-0.8zM26.4 41.1h0.8v0.8h-0.8zM74.1 50.4h0.8v0.8h-0.8zM34.7 66.2h0.8v0.8h-0.8zM60.5 37.3h0.8v0.8h-0.8zM65.3 45.3h0.8v0.8h-0.8zM39.7 67.9h0.8v0.8h-0.8zM64.1 47.6h0.8v0.8h-0.8zM70.5 46.2h0.8v0.8h-0.8zM15.2 49.4h0.8v0.8h-0.8zM69.0 19.0h0.8v0.8h-0.8zM44.2 76.0h0.8v0.8h-0.8zM34.8 35.9h0.8v0.8h-0.8zM64.4 53.7h0.8v0.8h-0.8zM40.8 80.6h0.8v0.8h-0.8zM64.2 63.4h0.8v0.8h-0.8zM58.1 24.1h0.8v0.8h-0.8zM51.9 44.7h0.8v0.8h-0.8zM54.4 10.2h0.8v0.8h-0.8zM78.9 39.4h0.8v0.8h-0.8zM33.0 36.3h0.8v0.8h-0.8zM62.8 14.9h0.8v0.8h-0.8zM67.8 35.4h0.8v0.8h-0.8zM20.4 61.7h0.8v0.8h-0.8zM29.0 31.3h0.8v0.8h-0.8zM23.0 36.7h0.8v0.8h-0.8zM50.7 16.3h0.8v0.8h-0.8zM31.6 29.8h0.8v0.8h-0.8zM67.6 41.5h0.8v0.8h-0.8zM21.0 59.1h0.8v0.8h-0.8zM48.1 66.4h0.8v0.8h-0.8zM32.0 48.9h0.8v0.8h-0.8zM52.6 51.7h0.8v0.8h-0.8zM20.5 65.0h0.8v0.8h-0.8zM49.7 39.4h0.8v0.8h-0.8zM53.5 12.0h0.8v0.8h-0.8zM32.3 33.0h0.8v0.8h-0.8zM12.4 36.9h0.8v0.8h-0.8zM36.2 40.1h0.8v0.8h-0.8zM24.8 43.2h0.8v0.8h-0.8zM35.9 46.3h0.8v0.8h-0.8zM50.7 49.4h0.8v0.8h-0.8zM63.7 36.2h0.8v0.8h-0.8zM11.5 43.4h0.8v0.8h-0.8zM20.1 30.5h0.8v0.8h-0.8zM24.6 57.3h0.8v0.8h-0.8zM48.0 10.1h0.8v0.8h-0.8zM77.3 35.6h0.8v0.8h-0.8zM45.8 71.7h0.8v0.8h-0.8zM20.3 47.6h0.8v0.8h-0.8zM30.7 58.8h0.8v0.8h-0.8zM47.7 47.3h0.8v0.8h-0.8zM59.1 65.5h0.8v0.8h-0.8zM76.6 42.0h0.8v0.8h-0.8zM72.5 37.4h0.8v0.8h-0.8zM52.8 63.1h0.8v0.8h-0.8zM66.0 22.6h0.8v0.8h-0.8zM62.0 19.1h0.8v0.8h-0.8zM25.8 71.1h0.8v0.8h-0.8zM18.0 40.2h0.8v0.8h-0.8zM19.9 35.7h0.8v0.8h-0.8zM47.6 7.7h0.8v0.8h-0.8zM57.7 18.1h0.8v0.8h-0.8zM67.9 60.4h0.8v0.8h-0.8zM29.8 31.7h0.8v0.8h-0.8zM28.5 51.6h0.8v0.8h-0.8zM53.4 16.3h0.8v0.8h-0.8zM18.0 58.3h0.8v0.8h-0.8zM28.8 61.6h0.8v0.8h-0.8zM35.3 58.7h0.8v0.8h-0.8zM53.8 21.0h0.8v0.8h-0.8zM22.9 47.5h0.8v0.8h-0.8zM22.9 63.0h0.8v0.8h-0.8zM52.6 47.2h0.8v0.8h-0.8zM69.6 52.8h0.8v0.8h-0.8zM43.3 19.7h0.8v0.8h-0.8zM73.0 58.4h0.8v0.8h-0.8zM44.5 68.0h0.8v0.8h-0.8zM18.9 35.6h0.8v0.8h-0.8zM58.6 27.0h0.8v0.8h-0.8zM59.8 66.1h0.8v0.8h-0.8zM28.0 70.6h0.8v0.8h-0.8zM78.2 44.0h0.8v0.8h-0.8zM53.1 60.6h0.8v0.8h-0.8zM20.5 49.7h0.8v0.8h-0.8zM40.7 18.9h0.8v0.8h-0.8zM27.0 46.6h0.8v0.8h-0.8zM19.8 45.0h0.8v0.8h-0.8zM49.3 20.0h0.8v0.8h-0.8zM61.1 53.0h0.8v0.8h-0.8zM58.3 12.5h0.8v0.8h-0.8zM49.4 28.1h0.8v0.8h-0.8zM63.7 60.8h0.8v0.8h-0.8zM28.4 24.6h0.8v0.8h-0.8zM64.3 25.9h0.8v0.8h-0.8zM48.3 14.5h0.8v0.8h-0.8zM19.0 40.4h0.8v0.8h-0.8zM50.3 8.9h0.8v0.8h-0.8zM52.9 11.0h0.8v0.8h-0.8zM32.2 32.4h0.8v0.8h-0.8zM30.4 33.0h0.8v0.8h-0.8zM31.9 63.8h0.8v0.8h-0.8zM35.0 24.5h0.8v0.8h-0.8zM30.4 28.0h0.8v0.8h-0.8zM51.8 10.9h0.8v0.8h-0.8zM76.0 45.4h0.8v0.8h-0.8zM81.7 31.6h0.8v0.8h-0.8zM36.8 72.4h0.8v0.8h-0.8zM51.2 58.2h0.8v0.8h-0.8zM70.8 60.2h0.8v0.8h-0.8zM18.7 35.8h0.8v0.8h-0.8zM34.7 27.9h0.8v0.8h-0.8zM64.3 18.9h0.8v0.8h-0.8zM44.3 47.5h0.8v0.8h-0.8zM31.8 71.6h0.8v0.8h-0.8zM70.1 58.5h0.8v0.8h-0.8zM25.4 61.7h0.8v0.8h-0.8zM35.4 64.3h0.8v0.8h-0.8zM19.0 59.3h0.8v0.8h-0.8zM28.2 42.3h0.8v0.8h-0.8zM23.6 65.1h0.8v0.8h-0.8zM47.1 36.3h0.8v0.8h-0.8zM82.6 35.8h0.8v0.8h-0.8zM39.6 76.0h0.8v0.8h-0.8zM69.3 20.7h0.8v0.8h-0.8zM39.0 52.4h0.8v0.8h-0.8zM60.8 66.2h0.8v0.8h-0.8zM38.2 37.4h0.8v0.8h-0.8zM20.0 58.2h0.8v0.8h-0.8zM33.1 71.9h0.8v0.8h-0.8zM74.9 35.3h0.8v0.8h-0.8zM43.6 52.0h0.8v0.8h-0.8zM44.0 45.0h0.8v0.8h-0.8zM20.8 28.9h0.8v0.8h-0.8zM51.3 26.9h0.8v0.8h-0.8zM42.3 43.4h0.8v0.8h-0.8zM46.3 43.7h0.8v0.8h-0.8zM64.9 53.5h0.8v0.8h-0.8zM29.9 28.3h0.8v0.8h-0.8zM45.9 40.6h0.8v0.8h-0.8zM55.5 21.8h0.8v0.8h-0.8zM56.9 47.1h0.8v0.8h-0.8zM27.3 31.0h0.8v0.8h-0.8zM67.0 46.6h0.8v0.8h-0.8zM27.6 35.1h0.8v0.8h-0.8zM48.3 31.2h0.8v0.8h-0.8zM37.9 14.8h0.8v0.8h-0.8zM45.7 50.1h0.8v0.8h-0.8zM15.1 37.3h0.8v0.8h-0.8zM64.3 51.3h0.8v0.8h-0.8zM42.7 73.5h0.8v0.8h-0.8zM83.7 36.2h0.8v0.8h-0.8zM50.8 41.5h0.8v0.8h-0.8zM39.1 36.3h0.8v0.8h-0.8zM32.0 61.5h0.8v0.8h-0.8zM61.5 57.8h0.8v0.8h-0.8zM49.3 62.1h0.8v0.8h-0.8zM63.9 67.0h0.8v0.8h-0.8zM74.3 24.2h0.8v0.8h-0.8zM57.7 74.8h0.8v0.8h-0.8z" fill="#bcb4dc" fill-opacity="0.75"/><path d="M11.7 40.0C11.8 39.2 11.8 38.1 12.0 37.5C12.2 36.9 12.3 37.0 13.0 36.3C13.7 35.6 14.9 33.9 16.0 33.3C17.1 32.7 18.4 32.6 19.5 32.7C20.6 32.9 22.0 34.2 22.9 34.2C23.8 34.2 24.2 33.3 24.7 32.5C25.2 31.7 25.4 30.1 26.0 29.4C26.6 28.7 27.8 28.2 28.6 28.1C29.4 28.0 30.0 28.4 30.7 29.0C31.4 29.6 32.1 31.4 32.9 32.0C33.7 32.6 34.5 32.7 35.5 32.7C36.5 32.7 37.9 32.4 38.9 32.0C39.9 31.6 40.7 30.9 41.7 30.5C42.7 30.1 43.9 29.8 45.0 29.4C46.1 29.0 47.4 28.5 48.5 28.3C49.6 28.1 50.4 28.2 51.5 28.3C52.6 28.4 54.0 28.6 55.0 29.2C56.0 29.8 56.7 30.8 57.5 31.7C58.3 32.6 59.1 33.8 59.9 34.8C60.7 35.8 61.7 36.8 62.4 37.8C63.1 38.8 64.0 40.1 64.2 40.9C64.4 41.7 63.8 42.2 63.6 42.8C63.5 43.4 63.1 44.0 63.3 44.6C63.5 45.2 64.1 45.9 64.8 46.2C65.5 46.5 66.5 46.5 67.3 46.2C68.1 45.9 69.0 45.1 69.8 44.6C70.6 44.1 71.4 43.4 72.2 43.3C73.0 43.1 74.0 43.3 74.7 43.7C75.4 44.1 76.0 44.7 76.2 45.5C76.5 46.3 76.5 47.5 76.2 48.3C76.0 49.1 75.5 49.7 74.7 50.2C73.9 50.7 72.6 51.0 71.6 51.4C70.6 51.8 69.4 52.2 68.8 52.6C68.2 53.0 67.9 53.5 68.2 53.8C68.5 54.1 69.7 54.2 70.4 54.5C71.1 54.8 72.0 55.0 72.2 55.4C72.5 55.8 72.3 56.4 71.9 56.9C71.5 57.4 70.6 57.8 69.8 58.2C69.0 58.6 68.0 59.1 67.3 59.4C66.6 59.7 66.3 59.7 65.5 60.0C64.7 60.3 63.5 60.5 62.3 61.0C61.0 61.5 59.4 62.2 58.0 63.2C56.6 64.2 55.0 66.0 53.7 67.1C52.4 68.2 51.2 69.2 50.2 69.7C49.2 70.2 48.5 70.3 47.6 70.3C46.7 70.3 46.1 70.0 45.0 69.7C43.9 69.4 42.2 68.8 41.1 68.4C40.0 68.0 39.1 67.3 38.5 67.3C37.9 67.3 37.7 67.9 37.2 68.4C36.7 68.9 36.1 70.1 35.5 70.5C34.9 70.9 34.2 71.2 33.3 71.0C32.4 70.8 31.1 70.0 30.3 69.2C29.5 68.4 28.9 67.1 28.6 66.2C28.3 65.3 28.4 64.2 28.6 63.6C28.8 63.0 29.2 62.4 29.9 62.3C30.6 62.1 31.9 62.6 32.9 62.7C33.9 62.8 35.3 63.1 35.9 63.0C36.5 62.9 36.5 62.3 36.3 61.9C36.1 61.5 35.9 60.9 34.6 60.6C33.3 60.4 30.2 60.4 28.6 60.4C27.0 60.4 25.9 60.4 25.1 60.6C24.3 60.9 24.3 61.5 23.8 61.9C23.3 62.3 22.5 63.2 22.1 63.3C21.7 63.4 21.2 62.8 21.2 62.3C21.2 61.8 21.7 61.2 22.1 60.6C22.5 60.0 23.0 59.7 23.4 58.8C23.8 57.9 24.1 56.5 24.2 55.4C24.3 54.3 24.4 52.9 23.8 52.4C23.2 51.9 21.6 52.7 20.8 52.4C20.0 52.1 19.5 51.4 19.0 50.6C18.5 49.8 18.3 48.3 17.7 47.6C17.1 46.9 15.9 46.7 15.1 46.3C14.3 45.9 13.6 45.6 13.0 45.0C12.4 44.4 11.9 43.3 11.7 42.5C11.5 41.7 11.6 40.8 11.7 40.0Z" fill="#bfb8e0" fill-opacity="0.90" filter="url(#b1_5)"/><path d="M11.7 40.0C11.8 39.2 11.8 38.1 12.0 37.5C12.2 36.9 12.3 37.0 13.0 36.3C13.7 35.6 14.9 33.9 16.0 33.3C17.1 32.7 18.4 32.6 19.5 32.7C20.6 32.9 22.0 34.2 22.9 34.2C23.8 34.2 24.2 33.3 24.7 32.5C25.2 31.7 25.4 30.1 26.0 29.4C26.6 28.7 27.8 28.2 28.6 28.1C29.4 28.0 30.0 28.4 30.7 29.0C31.4 29.6 32.1 31.4 32.9 32.0C33.7 32.6 34.5 32.7 35.5 32.7C36.5 32.7 37.9 32.4 38.9 32.0C39.9 31.6 40.7 30.9 41.7 30.5C42.7 30.1 43.9 29.8 45.0 29.4C46.1 29.0 47.4 28.5 48.5 28.3C49.6 28.1 50.4 28.2 51.5 28.3C52.6 28.4 54.0 28.6 55.0 29.2C56.0 29.8 56.7 30.8 57.5 31.7C58.3 32.6 59.1 33.8 59.9 34.8C60.7 35.8 61.7 36.8 62.4 37.8C63.1 38.8 64.0 40.1 64.2 40.9C64.4 41.7 63.8 42.2 63.6 42.8C63.5 43.4 63.1 44.0 63.3 44.6C63.5 45.2 64.1 45.9 64.8 46.2C65.5 46.5 66.5 46.5 67.3 46.2C68.1 45.9 69.0 45.1 69.8 44.6C70.6 44.1 71.4 43.4 72.2 43.3C73.0 43.1 74.0 43.3 74.7 43.7C75.4 44.1 76.0 44.7 76.2 45.5C76.5 46.3 76.5 47.5 76.2 48.3C76.0 49.1 75.5 49.7 74.7 50.2C73.9 50.7 72.6 51.0 71.6 51.4C70.6 51.8 69.4 52.2 68.8 52.6C68.2 53.0 67.9 53.5 68.2 53.8C68.5 54.1 69.7 54.2 70.4 54.5C71.1 54.8 72.0 55.0 72.2 55.4C72.5 55.8 72.3 56.4 71.9 56.9C71.5 57.4 70.6 57.8 69.8 58.2C69.0 58.6 68.0 59.1 67.3 59.4C66.6 59.7 66.3 59.7 65.5 60.0C64.7 60.3 63.5 60.5 62.3 61.0C61.0 61.5 59.4 62.2 58.0 63.2C56.6 64.2 55.0 66.0 53.7 67.1C52.4 68.2 51.2 69.2 50.2 69.7C49.2 70.2 48.5 70.3 47.6 70.3C46.7 70.3 46.1 70.0 45.0 69.7C43.9 69.4 42.2 68.8 41.1 68.4C40.0 68.0 39.1 67.3 38.5 67.3C37.9 67.3 37.7 67.9 37.2 68.4C36.7 68.9 36.1 70.1 35.5 70.5C34.9 70.9 34.2 71.2 33.3 71.0C32.4 70.8 31.1 70.0 30.3 69.2C29.5 68.4 28.9 67.1 28.6 66.2C28.3 65.3 28.4 64.2 28.6 63.6C28.8 63.0 29.2 62.4 29.9 62.3C30.6 62.1 31.9 62.6 32.9 62.7C33.9 62.8 35.3 63.1 35.9 63.0C36.5 62.9 36.5 62.3 36.3 61.9C36.1 61.5 35.9 60.9 34.6 60.6C33.3 60.4 30.2 60.4 28.6 60.4C27.0 60.4 25.9 60.4 25.1 60.6C24.3 60.9 24.3 61.5 23.8 61.9C23.3 62.3 22.5 63.2 22.1 63.3C21.7 63.4 21.2 62.8 21.2 62.3C21.2 61.8 21.7 61.2 22.1 60.6C22.5 60.0 23.0 59.7 23.4 58.8C23.8 57.9 24.1 56.5 24.2 55.4C24.3 54.3 24.4 52.9 23.8 52.4C23.2 51.9 21.6 52.7 20.8 52.4C20.0 52.1 19.5 51.4 19.0 50.6C18.5 49.8 18.3 48.3 17.7 47.6C17.1 46.9 15.9 46.7 15.1 46.3C14.3 45.9 13.6 45.6 13.0 45.0C12.4 44.4 11.9 43.3 11.7 42.5C11.5 41.7 11.6 40.8 11.7 40.0Z" fill="none" stroke="#7a70b8" stroke-opacity="0.60" stroke-width="4.0" filter="url(#b2)"/><ellipse cx="40.0" cy="46.0" rx="13.0" ry="10.0" fill="#eeecf8" fill-opacity="0.75" filter="url(#b3)"/><path d="M42.1 51.9h0.8v0.8h-0.8zM42.5 56.7h0.8v0.8h-0.8zM47.3 42.4h0.8v0.8h-0.8zM57.2 40.9h0.8v0.8h-0.8zM42.4 47.5h0.8v0.8h-0.8zM51.8 46.9h0.8v0.8h-0.8zM43.6 31.4h0.8v0.8h-0.8zM39.4 48.3h0.8v0.8h-0.8zM55.5 33.2h0.8v0.8h-0.8zM28.1 54.0h0.8v0.8h-0.8zM63.6 48.4h0.8v0.8h-0.8zM18.9 32.8h0.8v0.8h-0.8zM36.4 40.0h0.8v0.8h-0.8zM45.2 55.7h0.8v0.8h-0.8zM48.1 39.6h0.8v0.8h-0.8zM33.2 45.6h0.8v0.8h-0.8zM44.4 51.7h0.8v0.8h-0.8zM36.2 55.5h0.8v0.8h-0.8zM47.4 44.7h0.8v0.8h-0.8zM42.2 60.0h0.8v0.8h-0.8zM46.8 44.8h0.8v0.8h-0.8zM36.9 54.9h0.8v0.8h-0.8zM44.1 48.3h0.8v0.8h-0.8zM32.9 45.1h0.8v0.8h-0.8zM41.9 61.4h0.8v0.8h-0.8zM27.2 48.2h0.8v0.8h-0.8zM30.8 36.1h0.8v0.8h-0.8zM63.3 36.9h0.8v0.8h-0.8zM52.5 55.5h0.8v0.8h-0.8zM45.0 47.6h0.8v0.8h-0.8zM39.8 51.2h0.8v0.8h-0.8zM44.2 51.8h0.8v0.8h-0.8zM46.7 34.0h0.8v0.8h-0.8zM27.4 46.9h0.8v0.8h-0.8zM39.8 36.3h0.8v0.8h-0.8zM49.8 51.1h0.8v0.8h-0.8zM43.3 55.6h0.8v0.8h-0.8zM46.6 46.3h0.8v0.8h-0.8zM34.2 56.5h0.8v0.8h-0.8zM35.4 41.2h0.8v0.8h-0.8zM30.7 52.8h0.8v0.8h-0.8zM42.9 45.9h0.8v0.8h-0.8zM49.8 40.5h0.8v0.8h-0.8zM48.6 43.0h0.8v0.8h-0.8zM38.7 45.6h0.8v0.8h-0.8zM42.5 58.4h0.8v0.8h-0.8zM34.2 55.5h0.8v0.8h-0.8zM52.7 45.9h0.8v0.8h-0.8zM33.7 38.0h0.8v0.8h-0.8zM39.6 70.4h0.8v0.8h-0.8zM38.4 48.2h0.8v0.8h-0.8zM30.8 50.7h0.8v0.8h-0.8zM42.9 55.1h0.8v0.8h-0.8zM61.4 55.4h0.8v0.8h-0.8zM31.9 46.1h0.8v0.8h-0.8zM27.2 43.8h0.8v0.8h-0.8zM26.0 56.3h0.8v0.8h-0.8zM18.3 52.0h0.8v0.8h-0.8zM41.6 34.8h0.8v0.8h-0.8zM48.1 57.7h0.8v0.8h-0.8zM58.2 45.1h0.8v0.8h-0.8zM47.9 48.8h0.8v0.8h-0.8zM54.8 47.1h0.8v0.8h-0.8zM51.5 39.0h0.8v0.8h-0.8zM33.6 38.4h0.8v0.8h-0.8zM38.4 37.0h0.8v0.8h-0.8zM41.8 42.6h0.8v0.8h-0.8zM26.2 49.1h0.8v0.8h-0.8zM51.7 51.3h0.8v0.8h-0.8zM43.7 45.3h0.8v0.8h-0.8zM38.4 34.3h0.8v0.8h-0.8zM60.0 33.7h0.8v0.8h-0.8zM31.2 38.8h0.8v0.8h-0.8zM29.4 48.4h0.8v0.8h-0.8zM32.7 42.7h0.8v0.8h-0.8zM43.8 37.4h0.8v0.8h-0.8zM29.0 50.8h0.8v0.8h-0.8zM35.2 32.3h0.8v0.8h-0.8zM46.2 35.5h0.8v0.8h-0.8zM40.0 47.2h0.8v0.8h-0.8zM43.0 49.3h0.8v0.8h-0.8zM36.0 46.9h0.8v0.8h-0.8zM23.4 49.2h0.8v0.8h-0.8zM21.1 52.9h0.8v0.8h-0.8zM32.7 54.1h0.8v0.8h-0.8zM39.5 51.2h0.8v0.8h-0.8zM35.5 45.1h0.8v0.8h-0.8zM45.0 52.3h0.8v0.8h-0.8zM36.2 25.0h0.8v0.8h-0.8zM41.5 52.8h0.8v0.8h-0.8zM52.9 45.0h0.8v0.8h-0.8zM50.9 18.2h0.8v0.8h-0.8zM35.9 41.9h0.8v0.8h-0.8zM61.0 45.1h0.8v0.8h-0.8zM66.2 47.4h0.8v0.8h-0.8zM35.7 42.3h0.8v0.8h-0.8zM31.6 48.1h0.8v0.8h-0.8zM41.6 39.0h0.8v0.8h-0.8zM58.0 55.6h0.8v0.8h-0.8zM37.0 51.3h0.8v0.8h-0.8zM38.4 43.0h0.8v0.8h-0.8zM31.4 41.7h0.8v0.8h-0.8zM58.0 60.8h0.8v0.8h-0.8zM38.8 44.5h0.8v0.8h-0.8zM51.6 40.2h0.8v0.8h-0.8zM47.6 34.7h0.8v0.8h-0.8zM44.2 53.1h0.8v0.8h-0.8zM48.6 59.9h0.8v0.8h-0.8zM52.3 43.6h0.8v0.8h-0.8zM26.2 28.1h0.8v0.8h-0.8zM29.3 45.9h0.8v0.8h-0.8zM34.4 69.9h0.8v0.8h-0.8zM44.7 50.6h0.8v0.8h-0.8zM41.4 45.5h0.8v0.8h-0.8zM43.9 56.3h0.8v0.8h-0.8zM40.8 54.9h0.8v0.8h-0.8zM54.7 48.9h0.8v0.8h-0.8zM47.4 50.0h0.8v0.8h-0.8zM52.4 54.4h0.8v0.8h-0.8zM42.6 57.0h0.8v0.8h-0.8zM52.6 49.1h0.8v0.8h-0.8zM28.0 61.6h0.8v0.8h-0.8zM42.9 53.3h0.8v0.8h-0.8zM42.4 44.9h0.8v0.8h-0.8zM28.5 47.5h0.8v0.8h-0.8zM38.5 51.7h0.8v0.8h-0.8zM37.6 47.0h0.8v0.8h-0.8zM48.2 47.4h0.8v0.8h-0.8zM34.4 51.3h0.8v0.8h-0.8zM37.5 39.0h0.8v0.8h-0.8zM29.7 40.3h0.8v0.8h-0.8zM34.4 29.0h0.8v0.8h-0.8zM25.7 42.4h0.8v0.8h-0.8zM36.3 45.9h0.8v0.8h-0.8zM46.2 38.5h0.8v0.8h-0.8zM56.0 50.2h0.8v0.8h-0.8zM15.7 46.8h0.8v0.8h-0.8zM30.2 51.5h0.8v0.8h-0.8zM58.2 35.8h0.8v0.8h-0.8zM41.4 38.4h0.8v0.8h-0.8zM25.2 52.5h0.8v0.8h-0.8zM48.8 41.7h0.8v0.8h-0.8zM36.2 37.2h0.8v0.8h-0.8zM33.4 45.2h0.8v0.8h-0.8zM38.5 53.0h0.8v0.8h-0.8zM42.3 46.8h0.8v0.8h-0.8zM41.3 52.3h0.8v0.8h-0.8zM46.0 36.1h0.8v0.8h-0.8zM38.3 50.5h0.8v0.8h-0.8zM32.3 35.3h0.8v0.8h-0.8zM30.0 37.2h0.8v0.8h-0.8zM38.0 45.9h0.8v0.8h-0.8zM45.7 31.5h0.8v0.8h-0.8zM44.9 53.8h0.8v0.8h-0.8zM67.2 44.7h0.8v0.8h-0.8zM47.9 32.9h0.8v0.8h-0.8zM51.2 60.6h0.8v0.8h-0.8zM42.9 42.2h0.8v0.8h-0.8zM55.6 39.3h0.8v0.8h-0.8zM58.5 38.4h0.8v0.8h-0.8zM45.1 49.7h0.8v0.8h-0.8zM42.1 42.4h0.8v0.8h-0.8zM29.8 58.5h0.8v0.8h-0.8zM44.9 39.9h0.8v0.8h-0.8zM26.8 53.4h0.8v0.8h-0.8zM54.1 46.7h0.8v0.8h-0.8zM35.8 51.9h0.8v0.8h-0.8zM45.3 57.2h0.8v0.8h-0.8zM38.7 41.4h0.8v0.8h-0.8zM39.5 36.1h0.8v0.8h-0.8z" fill="#ffffff" fill-opacity="0.95"/><ellipse cx="67.0" cy="48.0" rx="9.0" ry="8.0" fill="#6a60ae" fill-opacity="0.60" filter="url(#b3)"/><ellipse cx="72.0" cy="48.0" rx="4.5" ry="6.0" fill="#2c1e74" fill-opacity="0.92" filter="url(#b1_8)"/><ellipse cx="48.0" cy="65.0" rx="11.0" ry="4.0" fill="#7e76ba" fill-opacity="0.70" transform="rotate(-15 48.0 65.0)" filter="url(#b2_5)"/><ellipse cx="52.0" cy="31.0" rx="6.0" ry="3.0" fill="#9890c8" fill-opacity="0.60" filter="url(#b2)"/><ellipse cx="59.9" cy="75.3" rx="4.5" ry="2.3" fill="#3a308a" fill-opacity="0.92" transform="rotate(-35 59.9 75.3)" filter="url(#b0_8)"/><ellipse cx="80.4" cy="36.0" rx="3.4" ry="3.6" fill="#2e2484" fill-opacity="0.92" filter="url(#b0_8)"/><ellipse cx="47.7" cy="15.8" rx="7.0" ry="3.5" fill="#5a50a8" fill-opacity="0.85" transform="rotate(-50 47.7 15.8)" filter="url(#b0_8)"/><ellipse cx="55.9" cy="10.3" rx="4.0" ry="3.0" fill="#645aac" fill-opacity="0.85" transform="rotate(15 55.9 10.3)" filter="url(#b0_8)"/><ellipse cx="69.6" cy="20.5" rx="4.3" ry="5.3" fill="#a8a0d0" fill-opacity="0.75" transform="rotate(10 69.6 20.5)" filter="url(#b0_8)"/><ellipse cx="66.4" cy="32.4" rx="6.8" ry="3.2" fill="#8a82c0" fill-opacity="0.75" transform="rotate(32 66.4 32.4)" filter="url(#b0_8)"/><ellipse cx="58.2" cy="21.5" rx="2.5" ry="5.0" fill="#b4acd6" fill-opacity="0.70" transform="rotate(20 58.2 21.5)" filter="url(#b0_8)"/><use href="#ct"/></g><rect x="0" y="0" width="89.3" height="89.2" fill="none" stroke="#2a2a2a" stroke-width="1.2"/><text x="-6.1" y="6.5" font-size="7.00" fill="#231f20" text-anchor="end">15</text><text x="-6.1" y="20.2" font-size="7.00" fill="#231f20" text-anchor="end">10</text><text x="-6.1" y="33.9" font-size="7.00" fill="#231f20" text-anchor="end">5</text><text x="-6.1" y="47.5" font-size="7.00" fill="#231f20" text-anchor="end">0</text><text x="-6.1" y="61.1" font-size="7.00" fill="#231f20" text-anchor="end">−5</text><text x="-6.1" y="74.8" font-size="7.00" fill="#231f20" text-anchor="end">−10</text><text x="-6.1" y="88.4" font-size="7.00" fill="#231f20" text-anchor="end">−15</text><text x="22.7" y="102.2" font-size="7.00" fill="#231f20" text-anchor="middle">−10</text><text x="46.0" y="102.2" font-size="7.00" fill="#231f20" text-anchor="middle">0</text><text x="69.2" y="102.2" font-size="7.00" fill="#231f20" text-anchor="middle">10</text><path d="M-2.8 4.0H0M-2.8 17.7H0M-2.8 31.4H0M-2.8 45.0H0M-2.8 58.6H0M-2.8 72.2H0M-2.8 85.9H0M22.7 89.2v2.6M46.0 89.2v2.6M69.2 89.2v2.6" stroke="#2a2a2a" stroke-width="1" fill="none"/><text x="2.5" y="10.6" font-size="8.20" fill="#4b4a8c" textLength="16.4" lengthAdjust="spacingAndGlyphs">GMP</text></g>
<g transform="translate(42.3 354.6)"><g clip-path="url(#pclip)"><path d="M61.5 51.0h0.6v0.6h-0.6zM52.6 30.6h0.6v0.6h-0.6zM59.6 56.5h0.6v0.6h-0.6zM65.6 36.4h0.6v0.6h-0.6zM77.2 46.6h0.6v0.6h-0.6zM35.0 32.1h0.6v0.6h-0.6zM32.7 57.0h0.6v0.6h-0.6zM57.1 54.9h0.6v0.6h-0.6zM47.9 53.7h0.6v0.6h-0.6zM35.2 38.3h0.6v0.6h-0.6zM70.4 39.2h0.6v0.6h-0.6zM36.3 56.0h0.6v0.6h-0.6zM30.4 36.2h0.6v0.6h-0.6zM62.0 51.3h0.6v0.6h-0.6zM76.0 31.2h0.6v0.6h-0.6zM64.4 32.9h0.6v0.6h-0.6zM71.5 33.6h0.6v0.6h-0.6zM56.8 60.9h0.6v0.6h-0.6zM73.0 41.9h0.6v0.6h-0.6zM65.1 51.7h0.6v0.6h-0.6zM57.2 53.8h0.6v0.6h-0.6zM54.5 45.1h0.6v0.6h-0.6zM72.0 55.9h0.6v0.6h-0.6zM74.0 34.4h0.6v0.6h-0.6zM57.7 49.9h0.6v0.6h-0.6zM40.8 30.4h0.6v0.6h-0.6zM48.6 54.0h0.6v0.6h-0.6zM51.2 45.4h0.6v0.6h-0.6zM65.0 57.7h0.6v0.6h-0.6zM79.6 44.6h0.6v0.6h-0.6zM57.2 48.0h0.6v0.6h-0.6zM31.6 60.9h0.6v0.6h-0.6zM36.2 49.9h0.6v0.6h-0.6zM64.6 33.1h0.6v0.6h-0.6zM61.8 57.7h0.6v0.6h-0.6zM49.1 51.6h0.6v0.6h-0.6zM51.8 36.1h0.6v0.6h-0.6zM44.0 67.7h0.6v0.6h-0.6zM65.0 51.6h0.6v0.6h-0.6zM71.6 46.0h0.6v0.6h-0.6z" fill="#b8c8a0" fill-opacity="0.60"/><ellipse cx="79.5" cy="35.5" rx="1.6" ry="2.6" fill="#3a6a20" fill-opacity="0.90" filter="url(#b0_5)"/><ellipse cx="77.5" cy="43.6" rx="1.3" ry="1.5" fill="#3a6a20" fill-opacity="0.90" filter="url(#b0_5)"/><ellipse cx="58.5" cy="10.0" rx="1.2" ry="1.5" fill="#5a8a40" fill-opacity="0.70" filter="url(#b0_5)"/><use href="#ct"/></g><rect x="0" y="0" width="89.3" height="89.2" fill="none" stroke="#2a2a2a" stroke-width="1.2"/><text x="-6.1" y="6.5" font-size="7.00" fill="#231f20" text-anchor="end">15</text><text x="-6.1" y="20.2" font-size="7.00" fill="#231f20" text-anchor="end">10</text><text x="-6.1" y="33.9" font-size="7.00" fill="#231f20" text-anchor="end">5</text><text x="-6.1" y="47.5" font-size="7.00" fill="#231f20" text-anchor="end">0</text><text x="-6.1" y="61.1" font-size="7.00" fill="#231f20" text-anchor="end">−5</text><text x="-6.1" y="74.8" font-size="7.00" fill="#231f20" text-anchor="end">−10</text><text x="-6.1" y="88.4" font-size="7.00" fill="#231f20" text-anchor="end">−15</text><text x="22.7" y="102.2" font-size="7.00" fill="#231f20" text-anchor="middle">−10</text><text x="46.0" y="102.2" font-size="7.00" fill="#231f20" text-anchor="middle">0</text><text x="69.2" y="102.2" font-size="7.00" fill="#231f20" text-anchor="middle">10</text><path d="M-2.8 4.0H0M-2.8 17.7H0M-2.8 31.4H0M-2.8 45.0H0M-2.8 58.6H0M-2.8 72.2H0M-2.8 85.9H0M22.7 89.2v2.6M46.0 89.2v2.6M69.2 89.2v2.6" stroke="#2a2a2a" stroke-width="1" fill="none"/><text x="2.5" y="10.6" font-size="8.20" fill="#467530" textLength="15.6" lengthAdjust="spacingAndGlyphs">MLP</text></g>
<g transform="translate(155.4 354.6)"><g clip-path="url(#pclip)"><path d="M52.8 34.2h0.8v0.8h-0.8zM20.6 37.9h0.8v0.8h-0.8zM74.6 33.3h0.8v0.8h-0.8zM25.5 43.6h0.8v0.8h-0.8zM59.5 69.5h0.8v0.8h-0.8zM18.2 45.0h0.8v0.8h-0.8zM39.4 11.8h0.8v0.8h-0.8zM82.9 35.8h0.8v0.8h-0.8zM17.3 55.2h0.8v0.8h-0.8zM29.3 30.9h0.8v0.8h-0.8zM65.2 25.6h0.8v0.8h-0.8zM39.7 10.4h0.8v0.8h-0.8zM37.5 32.8h0.8v0.8h-0.8zM43.5 16.1h0.8v0.8h-0.8zM40.7 14.8h0.8v0.8h-0.8zM71.9 24.2h0.8v0.8h-0.8zM20.3 37.8h0.8v0.8h-0.8zM47.7 53.5h0.8v0.8h-0.8zM67.8 28.5h0.8v0.8h-0.8zM73.8 22.0h0.8v0.8h-0.8zM48.8 31.5h0.8v0.8h-0.8zM54.7 28.8h0.8v0.8h-0.8zM53.0 29.2h0.8v0.8h-0.8zM70.2 43.6h0.8v0.8h-0.8zM50.9 59.5h0.8v0.8h-0.8zM32.9 24.1h0.8v0.8h-0.8zM43.6 66.4h0.8v0.8h-0.8zM66.2 44.5h0.8v0.8h-0.8zM57.5 29.1h0.8v0.8h-0.8zM71.3 37.7h0.8v0.8h-0.8zM55.5 63.3h0.8v0.8h-0.8zM52.3 67.1h0.8v0.8h-0.8zM34.0 68.9h0.8v0.8h-0.8zM37.3 48.7h0.8v0.8h-0.8zM25.0 40.3h0.8v0.8h-0.8zM28.2 50.7h0.8v0.8h-0.8zM61.0 61.5h0.8v0.8h-0.8zM63.1 64.0h0.8v0.8h-0.8zM57.2 21.5h0.8v0.8h-0.8zM53.1 31.1h0.8v0.8h-0.8zM15.4 48.0h0.8v0.8h-0.8zM68.2 56.7h0.8v0.8h-0.8zM17.6 51.2h0.8v0.8h-0.8zM74.4 53.8h0.8v0.8h-0.8zM47.7 49.8h0.8v0.8h-0.8zM37.4 74.0h0.8v0.8h-0.8zM38.7 43.0h0.8v0.8h-0.8zM57.6 33.3h0.8v0.8h-0.8zM57.6 14.1h0.8v0.8h-0.8zM28.1 52.6h0.8v0.8h-0.8zM70.2 25.8h0.8v0.8h-0.8zM46.0 16.8h0.8v0.8h-0.8zM61.7 62.4h0.8v0.8h-0.8zM19.2 56.0h0.8v0.8h-0.8zM78.5 30.5h0.8v0.8h-0.8zM68.0 24.4h0.8v0.8h-0.8zM75.2 42.7h0.8v0.8h-0.8zM37.9 19.9h0.8v0.8h-0.8zM15.3 32.6h0.8v0.8h-0.8zM47.3 47.2h0.8v0.8h-0.8zM55.8 16.1h0.8v0.8h-0.8zM44.7 64.3h0.8v0.8h-0.8zM66.9 26.6h0.8v0.8h-0.8zM29.8 48.5h0.8v0.8h-0.8zM31.2 57.6h0.8v0.8h-0.8zM35.3 36.9h0.8v0.8h-0.8zM41.9 44.8h0.8v0.8h-0.8zM31.8 27.7h0.8v0.8h-0.8zM17.9 36.5h0.8v0.8h-0.8zM81.9 37.1h0.8v0.8h-0.8zM38.2 65.8h0.8v0.8h-0.8zM31.1 66.8h0.8v0.8h-0.8zM55.5 18.0h0.8v0.8h-0.8zM62.4 53.6h0.8v0.8h-0.8zM49.0 67.5h0.8v0.8h-0.8zM27.8 38.2h0.8v0.8h-0.8zM33.4 41.6h0.8v0.8h-0.8zM51.7 44.5h0.8v0.8h-0.8zM20.5 37.5h0.8v0.8h-0.8zM80.2 38.2h0.8v0.8h-0.8zM36.7 37.2h0.8v0.8h-0.8zM54.4 54.4h0.8v0.8h-0.8zM56.8 77.3h0.8v0.8h-0.8zM51.2 51.2h0.8v0.8h-0.8zM46.3 35.2h0.8v0.8h-0.8zM49.6 16.7h0.8v0.8h-0.8zM59.7 13.3h0.8v0.8h-0.8zM48.0 25.8h0.8v0.8h-0.8zM42.4 26.6h0.8v0.8h-0.8zM30.7 42.8h0.8v0.8h-0.8zM23.4 28.9h0.8v0.8h-0.8zM65.4 17.6h0.8v0.8h-0.8zM74.2 40.9h0.8v0.8h-0.8zM29.8 67.9h0.8v0.8h-0.8zM41.4 37.6h0.8v0.8h-0.8zM45.5 54.2h0.8v0.8h-0.8zM37.3 74.7h0.8v0.8h-0.8zM35.4 43.5h0.8v0.8h-0.8zM29.7 30.0h0.8v0.8h-0.8zM51.0 52.1h0.8v0.8h-0.8zM52.8 45.1h0.8v0.8h-0.8zM69.6 28.9h0.8v0.8h-0.8zM45.5 60.7h0.8v0.8h-0.8zM77.4 29.1h0.8v0.8h-0.8zM39.9 45.2h0.8v0.8h-0.8zM33.7 48.4h0.8v0.8h-0.8zM49.2 36.3h0.8v0.8h-0.8zM23.3 51.2h0.8v0.8h-0.8zM74.1 38.6h0.8v0.8h-0.8zM32.8 72.2h0.8v0.8h-0.8zM26.0 52.3h0.8v0.8h-0.8zM68.7 48.3h0.8v0.8h-0.8zM35.5 54.9h0.8v0.8h-0.8zM38.6 60.2h0.8v0.8h-0.8zM69.2 19.3h0.8v0.8h-0.8zM33.9 60.1h0.8v0.8h-0.8zM45.8 14.5h0.8v0.8h-0.8zM52.7 34.3h0.8v0.8h-0.8zM19.5 36.1h0.8v0.8h-0.8zM69.2 61.3h0.8v0.8h-0.8zM46.3 71.7h0.8v0.8h-0.8zM44.5 58.5h0.8v0.8h-0.8zM54.7 54.3h0.8v0.8h-0.8zM53.8 22.4h0.8v0.8h-0.8zM39.6 81.9h0.8v0.8h-0.8zM27.8 25.4h0.8v0.8h-0.8zM61.9 47.8h0.8v0.8h-0.8zM78.6 34.6h0.8v0.8h-0.8zM68.1 41.1h0.8v0.8h-0.8zM28.6 37.9h0.8v0.8h-0.8z" fill="#98ccd4" fill-opacity="0.70"/><g clip-path="url(#lrclip)"><path d="M11.7 40.0C11.8 39.2 11.8 38.1 12.0 37.5C12.2 36.9 12.3 37.0 13.0 36.3C13.7 35.6 14.9 33.9 16.0 33.3C17.1 32.7 18.4 32.6 19.5 32.7C20.6 32.9 22.0 34.2 22.9 34.2C23.8 34.2 24.2 33.3 24.7 32.5C25.2 31.7 25.4 30.1 26.0 29.4C26.6 28.7 27.8 28.2 28.6 28.1C29.4 28.0 30.0 28.4 30.7 29.0C31.4 29.6 32.1 31.4 32.9 32.0C33.7 32.6 34.5 32.7 35.5 32.7C36.5 32.7 37.9 32.4 38.9 32.0C39.9 31.6 40.7 30.9 41.7 30.5C42.7 30.1 43.9 29.8 45.0 29.4C46.1 29.0 47.4 28.5 48.5 28.3C49.6 28.1 50.4 28.2 51.5 28.3C52.6 28.4 54.0 28.6 55.0 29.2C56.0 29.8 56.7 30.8 57.5 31.7C58.3 32.6 59.1 33.8 59.9 34.8C60.7 35.8 61.7 36.8 62.4 37.8C63.1 38.8 64.0 40.1 64.2 40.9C64.4 41.7 63.8 42.2 63.6 42.8C63.5 43.4 63.1 44.0 63.3 44.6C63.5 45.2 64.1 45.9 64.8 46.2C65.5 46.5 66.5 46.5 67.3 46.2C68.1 45.9 69.0 45.1 69.8 44.6C70.6 44.1 71.4 43.4 72.2 43.3C73.0 43.1 74.0 43.3 74.7 43.7C75.4 44.1 76.0 44.7 76.2 45.5C76.5 46.3 76.5 47.5 76.2 48.3C76.0 49.1 75.5 49.7 74.7 50.2C73.9 50.7 72.6 51.0 71.6 51.4C70.6 51.8 69.4 52.2 68.8 52.6C68.2 53.0 67.9 53.5 68.2 53.8C68.5 54.1 69.7 54.2 70.4 54.5C71.1 54.8 72.0 55.0 72.2 55.4C72.5 55.8 72.3 56.4 71.9 56.9C71.5 57.4 70.6 57.8 69.8 58.2C69.0 58.6 68.0 59.1 67.3 59.4C66.6 59.7 66.3 59.7 65.5 60.0C64.7 60.3 63.5 60.5 62.3 61.0C61.0 61.5 59.4 62.2 58.0 63.2C56.6 64.2 55.0 66.0 53.7 67.1C52.4 68.2 51.2 69.2 50.2 69.7C49.2 70.2 48.5 70.3 47.6 70.3C46.7 70.3 46.1 70.0 45.0 69.7C43.9 69.4 42.2 68.8 41.1 68.4C40.0 68.0 39.1 67.3 38.5 67.3C37.9 67.3 37.7 67.9 37.2 68.4C36.7 68.9 36.1 70.1 35.5 70.5C34.9 70.9 34.2 71.2 33.3 71.0C32.4 70.8 31.1 70.0 30.3 69.2C29.5 68.4 28.9 67.1 28.6 66.2C28.3 65.3 28.4 64.2 28.6 63.6C28.8 63.0 29.2 62.4 29.9 62.3C30.6 62.1 31.9 62.6 32.9 62.7C33.9 62.8 35.3 63.1 35.9 63.0C36.5 62.9 36.5 62.3 36.3 61.9C36.1 61.5 35.9 60.9 34.6 60.6C33.3 60.4 30.2 60.4 28.6 60.4C27.0 60.4 25.9 60.4 25.1 60.6C24.3 60.9 24.3 61.5 23.8 61.9C23.3 62.3 22.5 63.2 22.1 63.3C21.7 63.4 21.2 62.8 21.2 62.3C21.2 61.8 21.7 61.2 22.1 60.6C22.5 60.0 23.0 59.7 23.4 58.8C23.8 57.9 24.1 56.5 24.2 55.4C24.3 54.3 24.4 52.9 23.8 52.4C23.2 51.9 21.6 52.7 20.8 52.4C20.0 52.1 19.5 51.4 19.0 50.6C18.5 49.8 18.3 48.3 17.7 47.6C17.1 46.9 15.9 46.7 15.1 46.3C14.3 45.9 13.6 45.6 13.0 45.0C12.4 44.4 11.9 43.3 11.7 42.5C11.5 41.7 11.6 40.8 11.7 40.0Z" fill="none" stroke="#5aa8b8" stroke-opacity="0.75" stroke-width="3.5" filter="url(#b1_2)"/></g><ellipse cx="49.0" cy="13.5" rx="5.0" ry="2.6" fill="#2e8090" fill-opacity="0.85" transform="rotate(-50 49.0 13.5)" filter="url(#b1_2)"/><ellipse cx="55.0" cy="11.0" rx="3.0" ry="2.0" fill="#3a8e9e" fill-opacity="0.80" filter="url(#b1)"/><ellipse cx="44.0" cy="26.0" rx="3.5" ry="2.0" fill="#6aaab8" fill-opacity="0.70" filter="url(#b1)"/><ellipse cx="42.0" cy="67.0" rx="5.0" ry="2.2" fill="#3a8a98" fill-opacity="0.70" transform="rotate(-5 42.0 67.0)" filter="url(#b1_2)"/><ellipse cx="70.0" cy="47.0" rx="3.0" ry="7.0" fill="#9ccad0" fill-opacity="0.50" filter="url(#b2)"/><ellipse cx="68.0" cy="34.5" rx="5.0" ry="2.0" fill="#6ab0bc" fill-opacity="0.75" transform="rotate(32 68.0 34.5)" filter="url(#b1)"/><ellipse cx="67.6" cy="41.0" rx="2.0" ry="2.0" fill="#4a9aaa" fill-opacity="0.75" filter="url(#b1)"/><ellipse cx="80.4" cy="36.0" rx="2.5" ry="2.5" fill="#a8d4da" fill-opacity="0.60" filter="url(#b1)"/><use href="#ct"/></g><rect x="0" y="0" width="89.3" height="89.2" fill="none" stroke="#2a2a2a" stroke-width="1.2"/><text x="-6.1" y="6.5" font-size="7.00" fill="#231f20" text-anchor="end">15</text><text x="-6.1" y="20.2" font-size="7.00" fill="#231f20" text-anchor="end">10</text><text x="-6.1" y="33.9" font-size="7.00" fill="#231f20" text-anchor="end">5</text><text x="-6.1" y="47.5" font-size="7.00" fill="#231f20" text-anchor="end">0</text><text x="-6.1" y="61.1" font-size="7.00" fill="#231f20" text-anchor="end">−5</text><text x="-6.1" y="74.8" font-size="7.00" fill="#231f20" text-anchor="end">−10</text><text x="-6.1" y="88.4" font-size="7.00" fill="#231f20" text-anchor="end">−15</text><text x="22.7" y="102.2" font-size="7.00" fill="#231f20" text-anchor="middle">−10</text><text x="46.0" y="102.2" font-size="7.00" fill="#231f20" text-anchor="middle">0</text><text x="69.2" y="102.2" font-size="7.00" fill="#231f20" text-anchor="middle">10</text><path d="M-2.8 4.0H0M-2.8 17.7H0M-2.8 31.4H0M-2.8 45.0H0M-2.8 58.6H0M-2.8 72.2H0M-2.8 85.9H0M22.7 89.2v2.6M46.0 89.2v2.6M69.2 89.2v2.6" stroke="#2a2a2a" stroke-width="1" fill="none"/><text x="2.5" y="10.6" font-size="8.20" fill="#3d8b99" textLength="32.9" lengthAdjust="spacingAndGlyphs">pre–B/NK</text></g>
<path d="M20.5 444.2V28.5" stroke="#111" stroke-width="1.1"/><path d="M20.5 22.5L24.8 33.0L20.5 30.5L16.2 33.0Z" fill="#111"/>
<path d="M42.5 463.6H239.0" stroke="#111" stroke-width="1.1"/><path d="M245.0 463.6L235.0 459.3L237.6 463.6L235.0 467.9Z" fill="#111"/>
<text transform="translate(16.0 227.2) rotate(-90)" font-size="8.20" fill="#231f20" text-anchor="middle" textLength="30.6" lengthAdjust="spacingAndGlyphs">t–SNE 2</text>
<text x="143.5" y="479.4" font-size="8.20" fill="#231f20" text-anchor="middle" textLength="29.5" lengthAdjust="spacingAndGlyphs">t–SNE 1</text>
<g transform="translate(285.3 22.5)"><g clip-path="url(#pclip)"><g filter="url(#hm)"><g clip-path="url(#cclip)"><rect x="-5" y="-5" width="100" height="100" fill="#0e0e0e"/><ellipse cx="50.0" cy="50.0" rx="20.0" ry="18.0" fill="#111111" fill-opacity="1.00" filter="url(#b5)"/><ellipse cx="60.5" cy="17.5" rx="2.5" ry="4.0" fill="#999999" fill-opacity="1.00" filter="url(#b1_2)"/><ellipse cx="58.0" cy="6.0" rx="4.0" ry="2.5" fill="#404040" fill-opacity="1.00" filter="url(#b2)"/><ellipse cx="75.0" cy="14.0" rx="3.0" ry="3.0" fill="#474747" fill-opacity="1.00" filter="url(#b2)"/><ellipse cx="69.0" cy="69.0" rx="4.0" ry="4.0" fill="#383838" fill-opacity="1.00" filter="url(#b2)"/><path d="M22.5 57.4h1.1v1.1h-1.1zM63.4 43.8h1.1v1.1h-1.1zM56.8 12.1h1.1v1.1h-1.1zM76.1 41.4h1.1v1.1h-1.1zM65.1 24.3h1.1v1.1h-1.1zM66.3 26.9h1.1v1.1h-1.1zM66.1 49.2h1.1v1.1h-1.1zM68.9 25.5h1.1v1.1h-1.1zM34.0 59.7h1.1v1.1h-1.1zM50.1 37.9h1.1v1.1h-1.1zM53.8 59.2h1.1v1.1h-1.1zM39.9 77.7h1.1v1.1h-1.1zM38.3 41.4h1.1v1.1h-1.1zM22.9 67.0h1.1v1.1h-1.1zM22.7 28.4h1.1v1.1h-1.1zM19.8 37.1h1.1v1.1h-1.1zM19.1 56.4h1.1v1.1h-1.1zM27.8 43.5h1.1v1.1h-1.1zM75.4 38.3h1.1v1.1h-1.1zM40.3 52.2h1.1v1.1h-1.1zM46.0 76.7h1.1v1.1h-1.1zM47.9 62.7h1.1v1.1h-1.1zM51.7 32.6h1.1v1.1h-1.1zM23.4 29.0h1.1v1.1h-1.1zM64.1 55.3h1.1v1.1h-1.1z" fill="#4c4c4c" fill-opacity="1.00"/><path d="M44.7 27.2h1.1v1.1h-1.1zM32.9 21.8h1.1v1.1h-1.1zM39.0 26.0h1.1v1.1h-1.1zM59.2 15.5h1.1v1.1h-1.1zM46.5 16.7h1.1v1.1h-1.1zM62.1 26.2h1.1v1.1h-1.1zM70.0 14.0h1.1v1.1h-1.1zM42.8 11.0h1.1v1.1h-1.1z" fill="#808080" fill-opacity="1.00"/></g></g><g fill="#fff" fill-opacity="0.8" filter="url(#b1)"><ellipse cx="65" cy="20" rx="1.6" ry="5.5" transform="rotate(8 65 20)"/><ellipse cx="64.5" cy="9.5" rx="1.8" ry="2.5"/><ellipse cx="78.6" cy="24.5" rx="1.8" ry="3.8" transform="rotate(-35 78.6 24.5)"/></g><g transform="translate(46 44.7) scale(1.0968 1.0904) translate(-46 -44.8)"><use href="#ct" stroke="#383838" stroke-width="0.95"/></g></g><rect x="0" y="0" width="89.3" height="89.2" fill="none" stroke="#2a2a2a" stroke-width="1.2"/><text x="-6.1" y="2.5" font-size="7.00" fill="#231f20" text-anchor="end">15</text><text x="-6.1" y="17.4" font-size="7.00" fill="#231f20" text-anchor="end">10</text><text x="-6.1" y="32.3" font-size="7.00" fill="#231f20" text-anchor="end">5</text><text x="-6.1" y="47.2" font-size="7.00" fill="#231f20" text-anchor="end">0</text><text x="-6.1" y="62.1" font-size="7.00" fill="#231f20" text-anchor="end">−5</text><text x="-6.1" y="77.0" font-size="7.00" fill="#231f20" text-anchor="end">−10</text><text x="20.6" y="102.2" font-size="7.00" fill="#231f20" text-anchor="middle">−10</text><text x="46.0" y="102.2" font-size="7.00" fill="#231f20" text-anchor="middle">0</text><text x="71.5" y="102.2" font-size="7.00" fill="#231f20" text-anchor="middle">10</text><text x="84.2" y="102.2" font-size="7.00" fill="#231f20" text-anchor="middle">15</text><path d="M-2.8 0.0H0M-2.8 14.9H0M-2.8 29.8H0M-2.8 44.7H0M-2.8 59.6H0M-2.8 74.5H0M20.6 89.2v2.6M46.0 89.2v2.6M71.5 89.2v2.6M84.2 89.2v2.6" stroke="#2a2a2a" stroke-width="1" fill="none"/><text x="1.9" y="83.0" font-size="8.60" fill="#333" textLength="23.3" lengthAdjust="spacingAndGlyphs">GATA3</text></g>
<g transform="translate(398.9 22.5)"><g clip-path="url(#pclip)"><g filter="url(#hm)"><g clip-path="url(#cclip)"><rect x="-5" y="-5" width="100" height="100" fill="#303030"/><path d="M46.5 4.4C47.9 4.0 48.8 3.6 50.0 3.5C51.2 3.4 52.2 4.0 53.5 4.0C54.8 4.0 56.7 3.3 58.0 3.5C59.3 3.7 60.4 4.4 61.1 5.3C61.8 6.2 61.8 7.8 62.4 8.8C63.0 9.8 64.1 10.8 65.0 11.5C65.9 12.2 66.7 12.7 67.7 12.8C68.7 13.0 69.9 12.2 71.2 12.4C72.5 12.6 74.5 13.2 75.7 14.2C76.9 15.2 78.0 17.3 78.3 18.6C78.6 19.9 77.7 21.0 77.4 22.0C77.1 23.0 76.3 24.1 76.5 24.8C76.7 25.6 77.4 26.1 78.3 26.5C79.2 26.9 80.9 26.6 81.9 27.0C82.9 27.4 83.6 28.2 84.5 29.2C85.4 30.1 86.6 31.4 87.2 32.7C87.8 34.0 88.3 35.9 88.0 37.2C87.7 38.5 86.3 39.5 85.4 40.7C84.5 41.9 83.5 43.0 82.8 44.5C82.1 46.0 81.8 48.0 81.0 49.8C80.2 51.6 79.2 53.3 78.3 55.1C77.4 56.9 76.6 58.6 75.7 60.4C74.8 62.2 73.8 64.1 73.0 65.7C72.2 67.3 72.1 69.0 71.2 70.2C70.3 71.4 68.7 72.1 67.7 72.8C66.7 73.5 65.9 73.6 65.0 74.6C64.1 75.6 63.7 78.0 62.4 79.0C61.1 80.0 59.2 80.3 57.1 80.8C55.0 81.2 52.1 81.3 50.0 81.7C47.9 82.1 45.7 82.3 44.7 83.0C43.7 83.7 45.0 85.4 44.2 86.0C43.4 86.6 41.1 86.9 39.8 86.5C38.5 86.1 36.7 84.5 36.3 83.4C35.9 82.3 37.4 80.9 37.2 79.9C37.1 78.9 36.4 77.9 35.4 77.2C34.4 76.5 32.5 75.9 31.0 75.5C29.5 75.1 27.8 74.9 26.5 74.6C25.2 74.3 24.3 74.4 23.0 73.7C21.7 73.0 19.5 71.4 18.6 70.2C17.7 69.0 18.3 68.2 17.7 66.6C17.1 65.0 15.9 62.3 15.0 60.4C14.1 58.5 13.3 57.0 12.4 55.1C11.5 53.2 10.4 50.7 9.5 48.9C8.6 47.1 7.5 46.0 7.2 44.5C6.9 43.0 7.4 41.4 7.6 40.0C7.8 38.6 8.0 37.5 8.4 36.0C8.9 34.5 9.5 32.3 10.3 31.0C11.1 29.7 12.1 29.2 13.3 28.3C14.5 27.4 16.2 26.6 17.7 25.7C19.2 24.8 20.8 23.8 22.1 23.0C23.4 22.2 24.4 20.9 25.7 20.8C27.0 20.7 28.8 22.2 30.0 22.1C31.2 22.0 32.2 21.6 32.7 20.4C33.2 19.2 32.2 16.8 32.7 15.0C33.2 13.2 34.5 11.1 35.4 9.7C36.3 8.3 37.0 7.2 38.0 6.6C39.0 6.0 40.2 6.6 41.6 6.2C43.0 5.8 45.1 4.9 46.5 4.4Z" fill="none" stroke="#4c4c4c" stroke-width="6.0" filter="url(#b2)"/><ellipse cx="42.0" cy="57.0" rx="14.0" ry="12.0" fill="#1f1f1f" fill-opacity="1.00" filter="url(#b5)"/><ellipse cx="12.0" cy="43.0" rx="5.0" ry="10.0" fill="#424242" fill-opacity="1.00" filter="url(#b3)"/><ellipse cx="39.4" cy="9.6" rx="3.0" ry="2.5" fill="#8c8c8c" fill-opacity="1.00" filter="url(#b1_5)"/><ellipse cx="45.0" cy="14.0" rx="6.0" ry="5.0" fill="#424242" fill-opacity="1.00" filter="url(#b2_5)"/><ellipse cx="72.0" cy="50.0" rx="8.0" ry="10.0" fill="#383838" fill-opacity="1.00" filter="url(#b4)"/><ellipse cx="50.0" cy="80.0" rx="12.0" ry="4.0" fill="#3d3d3d" fill-opacity="1.00" filter="url(#b3)"/></g></g><g fill="#fff" fill-opacity="0.8" filter="url(#b1)"><ellipse cx="65" cy="20" rx="1.6" ry="5.5" transform="rotate(8 65 20)"/><ellipse cx="64.5" cy="9.5" rx="1.8" ry="2.5"/><ellipse cx="78.6" cy="24.5" rx="1.8" ry="3.8" transform="rotate(-35 78.6 24.5)"/></g><g transform="translate(46 44.7) scale(1.0968 1.0904) translate(-46 -44.8)"><use href="#ct" stroke="#383838" stroke-width="0.95"/></g></g><rect x="0" y="0" width="89.3" height="89.2" fill="none" stroke="#2a2a2a" stroke-width="1.2"/><text x="-6.1" y="2.5" font-size="7.00" fill="#231f20" text-anchor="end">15</text><text x="-6.1" y="17.4" font-size="7.00" fill="#231f20" text-anchor="end">10</text><text x="-6.1" y="32.3" font-size="7.00" fill="#231f20" text-anchor="end">5</text><text x="-6.1" y="47.2" font-size="7.00" fill="#231f20" text-anchor="end">0</text><text x="-6.1" y="62.1" font-size="7.00" fill="#231f20" text-anchor="end">−5</text><text x="-6.1" y="77.0" font-size="7.00" fill="#231f20" text-anchor="end">−10</text><text x="20.6" y="102.2" font-size="7.00" fill="#231f20" text-anchor="middle">−10</text><text x="46.0" y="102.2" font-size="7.00" fill="#231f20" text-anchor="middle">0</text><text x="71.5" y="102.2" font-size="7.00" fill="#231f20" text-anchor="middle">10</text><text x="84.2" y="102.2" font-size="7.00" fill="#231f20" text-anchor="middle">15</text><path d="M-2.8 0.0H0M-2.8 14.9H0M-2.8 29.8H0M-2.8 44.7H0M-2.8 59.6H0M-2.8 74.5H0M20.6 89.2v2.6M46.0 89.2v2.6M71.5 89.2v2.6M84.2 89.2v2.6" stroke="#2a2a2a" stroke-width="1" fill="none"/><text x="3.2" y="83.0" font-size="8.60" fill="#333" textLength="14.0" lengthAdjust="spacingAndGlyphs">Ki67</text></g>
<g transform="translate(285.3 133.4)"><g clip-path="url(#pclip)"><g filter="url(#hm)"><g clip-path="url(#cclip)"><rect x="-5" y="-5" width="100" height="100" fill="#0e0e0e"/><ellipse cx="17.0" cy="39.0" rx="9.0" ry="13.0" fill="#808080" fill-opacity="1.00" filter="url(#b2_5)"/><ellipse cx="13.0" cy="40.0" rx="4.0" ry="10.0" fill="#8f8f8f" fill-opacity="1.00" filter="url(#b2)"/><ellipse cx="22.0" cy="27.0" rx="8.0" ry="4.0" fill="#737373" fill-opacity="1.00" filter="url(#b2)"/><ellipse cx="36.0" cy="25.0" rx="8.0" ry="2.5" fill="#4c4c4c" fill-opacity="1.00" filter="url(#b1_5)"/><ellipse cx="26.0" cy="44.0" rx="4.0" ry="9.0" fill="#383838" fill-opacity="1.00" filter="url(#b3)"/><ellipse cx="16.0" cy="58.0" rx="4.0" ry="6.0" fill="#454545" fill-opacity="1.00" filter="url(#b2)"/><ellipse cx="20.0" cy="68.0" rx="3.0" ry="2.5" fill="#575757" fill-opacity="1.00" filter="url(#b1_5)"/><path d="M72.0 42.3h1.1v1.1h-1.1zM58.9 16.6h1.1v1.1h-1.1zM31.1 25.6h1.1v1.1h-1.1zM34.5 61.6h1.1v1.1h-1.1zM55.3 74.0h1.1v1.1h-1.1zM58.4 7.1h1.1v1.1h-1.1zM60.2 66.9h1.1v1.1h-1.1zM40.4 49.1h1.1v1.1h-1.1zM57.7 61.6h1.1v1.1h-1.1zM38.6 32.7h1.1v1.1h-1.1zM46.9 52.3h1.1v1.1h-1.1zM12.3 41.4h1.1v1.1h-1.1zM45.1 68.5h1.1v1.1h-1.1zM65.1 56.0h1.1v1.1h-1.1zM45.1 15.4h1.1v1.1h-1.1zM30.7 27.9h1.1v1.1h-1.1zM42.9 6.6h1.1v1.1h-1.1zM30.7 26.0h1.1v1.1h-1.1zM43.7 56.5h1.1v1.1h-1.1zM27.6 57.3h1.1v1.1h-1.1zM54.3 79.6h1.1v1.1h-1.1zM59.4 34.5h1.1v1.1h-1.1zM85.2 36.9h1.1v1.1h-1.1zM33.4 71.5h1.1v1.1h-1.1zM62.0 29.2h1.1v1.1h-1.1zM45.7 35.5h1.1v1.1h-1.1zM72.8 28.2h1.1v1.1h-1.1zM39.6 69.7h1.1v1.1h-1.1zM49.9 61.0h1.1v1.1h-1.1zM61.2 21.9h1.1v1.1h-1.1zM52.3 33.8h1.1v1.1h-1.1zM61.5 20.8h1.1v1.1h-1.1zM58.6 25.3h1.1v1.1h-1.1zM38.6 22.8h1.1v1.1h-1.1zM55.4 5.1h1.1v1.1h-1.1zM18.2 33.6h1.1v1.1h-1.1zM30.2 27.8h1.1v1.1h-1.1zM70.0 34.3h1.1v1.1h-1.1zM79.6 38.9h1.1v1.1h-1.1zM30.3 52.2h1.1v1.1h-1.1zM61.3 74.2h1.1v1.1h-1.1zM49.7 11.2h1.1v1.1h-1.1zM83.0 42.7h1.1v1.1h-1.1zM10.6 48.0h1.1v1.1h-1.1zM26.6 27.8h1.1v1.1h-1.1zM51.8 59.1h1.1v1.1h-1.1zM59.8 40.4h1.1v1.1h-1.1zM69.1 54.6h1.1v1.1h-1.1zM42.0 13.7h1.1v1.1h-1.1zM78.2 41.0h1.1v1.1h-1.1zM50.1 74.4h1.1v1.1h-1.1zM42.7 52.7h1.1v1.1h-1.1zM49.1 22.5h1.1v1.1h-1.1zM68.1 34.5h1.1v1.1h-1.1zM12.1 45.3h1.1v1.1h-1.1zM46.5 31.8h1.1v1.1h-1.1zM37.9 66.6h1.1v1.1h-1.1zM65.9 72.0h1.1v1.1h-1.1zM70.5 27.7h1.1v1.1h-1.1zM22.0 45.2h1.1v1.1h-1.1z" fill="#6b6b6b" fill-opacity="1.00"/><path d="M56.9 8.0h1.1v1.1h-1.1zM50.1 16.5h1.1v1.1h-1.1zM27.2 22.2h1.1v1.1h-1.1zM40.6 16.4h1.1v1.1h-1.1zM64.2 15.0h1.1v1.1h-1.1zM27.7 26.6h1.1v1.1h-1.1zM42.6 10.1h1.1v1.1h-1.1zM64.7 27.7h1.1v1.1h-1.1zM51.9 4.5h1.1v1.1h-1.1zM46.8 18.6h1.1v1.1h-1.1zM67.3 17.0h1.1v1.1h-1.1zM57.6 10.6h1.1v1.1h-1.1zM35.6 16.3h1.1v1.1h-1.1zM53.6 18.2h1.1v1.1h-1.1zM20.6 25.1h1.1v1.1h-1.1zM53.1 26.1h1.1v1.1h-1.1zM53.4 19.7h1.1v1.1h-1.1zM42.8 28.9h1.1v1.1h-1.1zM52.0 15.6h1.1v1.1h-1.1zM66.5 27.7h1.1v1.1h-1.1zM28.6 26.6h1.1v1.1h-1.1zM55.6 5.0h1.1v1.1h-1.1zM58.5 19.2h1.1v1.1h-1.1zM26.4 21.2h1.1v1.1h-1.1zM69.2 29.6h1.1v1.1h-1.1zM64.5 17.9h1.1v1.1h-1.1zM38.5 14.2h1.1v1.1h-1.1zM60.9 13.4h1.1v1.1h-1.1zM62.9 29.6h1.1v1.1h-1.1zM63.5 21.1h1.1v1.1h-1.1z" fill="#737373" fill-opacity="1.00"/></g></g><g fill="#fff" fill-opacity="0.8" filter="url(#b1)"><ellipse cx="65" cy="20" rx="1.6" ry="5.5" transform="rotate(8 65 20)"/><ellipse cx="64.5" cy="9.5" rx="1.8" ry="2.5"/><ellipse cx="78.6" cy="24.5" rx="1.8" ry="3.8" transform="rotate(-35 78.6 24.5)"/></g><g transform="translate(46 44.7) scale(1.0968 1.0904) translate(-46 -44.8)"><use href="#ct" stroke="#383838" stroke-width="0.95"/></g></g><rect x="0" y="0" width="89.3" height="89.2" fill="none" stroke="#2a2a2a" stroke-width="1.2"/><text x="-6.1" y="2.5" font-size="7.00" fill="#231f20" text-anchor="end">15</text><text x="-6.1" y="17.4" font-size="7.00" fill="#231f20" text-anchor="end">10</text><text x="-6.1" y="32.3" font-size="7.00" fill="#231f20" text-anchor="end">5</text><text x="-6.1" y="47.2" font-size="7.00" fill="#231f20" text-anchor="end">0</text><text x="-6.1" y="62.1" font-size="7.00" fill="#231f20" text-anchor="end">−5</text><text x="-6.1" y="77.0" font-size="7.00" fill="#231f20" text-anchor="end">−10</text><text x="20.6" y="102.2" font-size="7.00" fill="#231f20" text-anchor="middle">−10</text><text x="46.0" y="102.2" font-size="7.00" fill="#231f20" text-anchor="middle">0</text><text x="71.5" y="102.2" font-size="7.00" fill="#231f20" text-anchor="middle">10</text><text x="84.2" y="102.2" font-size="7.00" fill="#231f20" text-anchor="middle">15</text><path d="M-2.8 0.0H0M-2.8 14.9H0M-2.8 29.8H0M-2.8 44.7H0M-2.8 59.6H0M-2.8 74.5H0M20.6 89.2v2.6M46.0 89.2v2.6M71.5 89.2v2.6M84.2 89.2v2.6" stroke="#2a2a2a" stroke-width="1" fill="none"/><text x="1.9" y="83.0" font-size="8.60" fill="#333" textLength="22.4" lengthAdjust="spacingAndGlyphs">GATA1</text></g>
<g transform="translate(398.9 133.4)"><g clip-path="url(#pclip)"><g filter="url(#hm)"><g clip-path="url(#cclip)"><rect x="-5" y="-5" width="100" height="100" fill="#595959"/><path d="M46.5 4.4C47.9 4.0 48.8 3.6 50.0 3.5C51.2 3.4 52.2 4.0 53.5 4.0C54.8 4.0 56.7 3.3 58.0 3.5C59.3 3.7 60.4 4.4 61.1 5.3C61.8 6.2 61.8 7.8 62.4 8.8C63.0 9.8 64.1 10.8 65.0 11.5C65.9 12.2 66.7 12.7 67.7 12.8C68.7 13.0 69.9 12.2 71.2 12.4C72.5 12.6 74.5 13.2 75.7 14.2C76.9 15.2 78.0 17.3 78.3 18.6C78.6 19.9 77.7 21.0 77.4 22.0C77.1 23.0 76.3 24.1 76.5 24.8C76.7 25.6 77.4 26.1 78.3 26.5C79.2 26.9 80.9 26.6 81.9 27.0C82.9 27.4 83.6 28.2 84.5 29.2C85.4 30.1 86.6 31.4 87.2 32.7C87.8 34.0 88.3 35.9 88.0 37.2C87.7 38.5 86.3 39.5 85.4 40.7C84.5 41.9 83.5 43.0 82.8 44.5C82.1 46.0 81.8 48.0 81.0 49.8C80.2 51.6 79.2 53.3 78.3 55.1C77.4 56.9 76.6 58.6 75.7 60.4C74.8 62.2 73.8 64.1 73.0 65.7C72.2 67.3 72.1 69.0 71.2 70.2C70.3 71.4 68.7 72.1 67.7 72.8C66.7 73.5 65.9 73.6 65.0 74.6C64.1 75.6 63.7 78.0 62.4 79.0C61.1 80.0 59.2 80.3 57.1 80.8C55.0 81.2 52.1 81.3 50.0 81.7C47.9 82.1 45.7 82.3 44.7 83.0C43.7 83.7 45.0 85.4 44.2 86.0C43.4 86.6 41.1 86.9 39.8 86.5C38.5 86.1 36.7 84.5 36.3 83.4C35.9 82.3 37.4 80.9 37.2 79.9C37.1 78.9 36.4 77.9 35.4 77.2C34.4 76.5 32.5 75.9 31.0 75.5C29.5 75.1 27.8 74.9 26.5 74.6C25.2 74.3 24.3 74.4 23.0 73.7C21.7 73.0 19.5 71.4 18.6 70.2C17.7 69.0 18.3 68.2 17.7 66.6C17.1 65.0 15.9 62.3 15.0 60.4C14.1 58.5 13.3 57.0 12.4 55.1C11.5 53.2 10.4 50.7 9.5 48.9C8.6 47.1 7.5 46.0 7.2 44.5C6.9 43.0 7.4 41.4 7.6 40.0C7.8 38.6 8.0 37.5 8.4 36.0C8.9 34.5 9.5 32.3 10.3 31.0C11.1 29.7 12.1 29.2 13.3 28.3C14.5 27.4 16.2 26.6 17.7 25.7C19.2 24.8 20.8 23.8 22.1 23.0C23.4 22.2 24.4 20.9 25.7 20.8C27.0 20.7 28.8 22.2 30.0 22.1C31.2 22.0 32.2 21.6 32.7 20.4C33.2 19.2 32.2 16.8 32.7 15.0C33.2 13.2 34.5 11.1 35.4 9.7C36.3 8.3 37.0 7.2 38.0 6.6C39.0 6.0 40.2 6.6 41.6 6.2C43.0 5.8 45.1 4.9 46.5 4.4Z" fill="none" stroke="#707070" stroke-width="6.0" filter="url(#b2)"/><ellipse cx="55.0" cy="45.0" rx="15.0" ry="12.0" fill="#5c5c5c" fill-opacity="1.00" filter="url(#b5)"/><ellipse cx="14.0" cy="42.0" rx="7.0" ry="12.0" fill="#737373" fill-opacity="1.00" filter="url(#b3)"/><ellipse cx="35.0" cy="62.0" rx="10.0" ry="8.0" fill="#333333" fill-opacity="1.00" filter="url(#b4)"/><ellipse cx="49.0" cy="12.0" rx="8.0" ry="5.0" fill="#383838" fill-opacity="1.00" filter="url(#b3)"/></g></g><g fill="#fff" fill-opacity="0.8" filter="url(#b1)"><ellipse cx="65" cy="20" rx="1.6" ry="5.5" transform="rotate(8 65 20)"/><ellipse cx="64.5" cy="9.5" rx="1.8" ry="2.5"/><ellipse cx="78.6" cy="24.5" rx="1.8" ry="3.8" transform="rotate(-35 78.6 24.5)"/></g><g transform="translate(46 44.7) scale(1.0968 1.0904) translate(-46 -44.8)"><use href="#ct" stroke="#383838" stroke-width="0.95"/></g></g><rect x="0" y="0" width="89.3" height="89.2" fill="none" stroke="#2a2a2a" stroke-width="1.2"/><text x="-6.1" y="2.5" font-size="7.00" fill="#231f20" text-anchor="end">15</text><text x="-6.1" y="17.4" font-size="7.00" fill="#231f20" text-anchor="end">10</text><text x="-6.1" y="32.3" font-size="7.00" fill="#231f20" text-anchor="end">5</text><text x="-6.1" y="47.2" font-size="7.00" fill="#231f20" text-anchor="end">0</text><text x="-6.1" y="62.1" font-size="7.00" fill="#231f20" text-anchor="end">−5</text><text x="-6.1" y="77.0" font-size="7.00" fill="#231f20" text-anchor="end">−10</text><text x="20.6" y="102.2" font-size="7.00" fill="#231f20" text-anchor="middle">−10</text><text x="46.0" y="102.2" font-size="7.00" fill="#231f20" text-anchor="middle">0</text><text x="71.5" y="102.2" font-size="7.00" fill="#231f20" text-anchor="middle">10</text><text x="84.2" y="102.2" font-size="7.00" fill="#231f20" text-anchor="middle">15</text><path d="M-2.8 0.0H0M-2.8 14.9H0M-2.8 29.8H0M-2.8 44.7H0M-2.8 59.6H0M-2.8 74.5H0M20.6 89.2v2.6M46.0 89.2v2.6M71.5 89.2v2.6M84.2 89.2v2.6" stroke="#2a2a2a" stroke-width="1" fill="none"/><text x="3.2" y="83.0" font-size="8.60" fill="#333" textLength="21.0" lengthAdjust="spacingAndGlyphs">peEF2</text></g>
<g transform="translate(285.3 244.1)"><g clip-path="url(#pclip)"><g filter="url(#hm)"><g clip-path="url(#cclip)"><rect x="-5" y="-5" width="100" height="100" fill="#0e0e0e"/><ellipse cx="68.0" cy="46.0" rx="5.0" ry="9.0" fill="#424242" fill-opacity="1.00" filter="url(#b3)"/><ellipse cx="75.0" cy="40.0" rx="3.0" ry="3.5" fill="#6b6b6b" fill-opacity="1.00" filter="url(#b1_5)"/><ellipse cx="50.0" cy="29.0" rx="7.0" ry="3.0" fill="#474747" fill-opacity="1.00" filter="url(#b2)"/><ellipse cx="53.0" cy="12.0" rx="9.0" ry="7.0" fill="#292929" fill-opacity="1.00" filter="url(#b3)"/><ellipse cx="73.0" cy="14.0" rx="3.0" ry="4.0" fill="#383838" fill-opacity="1.00" filter="url(#b2)"/><ellipse cx="57.0" cy="6.0" rx="4.0" ry="2.5" fill="#4c4c4c" fill-opacity="1.00" filter="url(#b1_5)"/><path d="M37.6 31.2h1.1v1.1h-1.1zM47.6 8.0h1.1v1.1h-1.1zM36.5 28.3h1.1v1.1h-1.1zM51.6 64.8h1.1v1.1h-1.1zM54.5 20.2h1.1v1.1h-1.1zM56.6 27.6h1.1v1.1h-1.1zM29.5 60.6h1.1v1.1h-1.1zM79.1 29.9h1.1v1.1h-1.1zM48.2 40.8h1.1v1.1h-1.1zM48.7 61.5h1.1v1.1h-1.1zM69.1 34.1h1.1v1.1h-1.1zM62.5 78.8h1.1v1.1h-1.1zM45.9 42.3h1.1v1.1h-1.1zM41.7 16.5h1.1v1.1h-1.1zM54.7 23.7h1.1v1.1h-1.1zM26.0 30.0h1.1v1.1h-1.1zM59.2 54.3h1.1v1.1h-1.1zM12.8 35.5h1.1v1.1h-1.1zM17.8 63.8h1.1v1.1h-1.1zM16.9 40.8h1.1v1.1h-1.1zM73.3 64.6h1.1v1.1h-1.1zM44.5 79.8h1.1v1.1h-1.1zM60.7 11.6h1.1v1.1h-1.1zM40.3 38.5h1.1v1.1h-1.1zM23.5 48.9h1.1v1.1h-1.1zM30.5 51.2h1.1v1.1h-1.1zM29.6 64.9h1.1v1.1h-1.1zM75.1 41.8h1.1v1.1h-1.1zM45.9 38.5h1.1v1.1h-1.1zM75.8 37.7h1.1v1.1h-1.1zM50.3 35.4h1.1v1.1h-1.1zM21.2 53.6h1.1v1.1h-1.1zM33.0 49.2h1.1v1.1h-1.1zM47.4 73.4h1.1v1.1h-1.1zM87.2 37.2h1.1v1.1h-1.1zM22.0 29.0h1.1v1.1h-1.1zM82.0 44.7h1.1v1.1h-1.1zM53.4 56.8h1.1v1.1h-1.1zM67.4 19.1h1.1v1.1h-1.1zM32.0 49.5h1.1v1.1h-1.1z" fill="#595959" fill-opacity="1.00"/><path d="M71.5 21.7h1.1v1.1h-1.1zM51.3 5.9h1.1v1.1h-1.1zM42.6 23.9h1.1v1.1h-1.1zM45.5 27.1h1.1v1.1h-1.1zM57.8 10.5h1.1v1.1h-1.1zM55.1 5.6h1.1v1.1h-1.1zM62.8 25.3h1.1v1.1h-1.1zM41.7 14.4h1.1v1.1h-1.1zM41.4 17.1h1.1v1.1h-1.1zM49.7 4.6h1.1v1.1h-1.1zM40.8 10.2h1.1v1.1h-1.1zM45.8 10.6h1.1v1.1h-1.1zM60.0 18.3h1.1v1.1h-1.1zM63.5 25.3h1.1v1.1h-1.1zM44.5 17.2h1.1v1.1h-1.1z" fill="#737373" fill-opacity="1.00"/></g></g><g fill="#fff" fill-opacity="0.8" filter="url(#b1)"><ellipse cx="65" cy="20" rx="1.6" ry="5.5" transform="rotate(8 65 20)"/><ellipse cx="64.5" cy="9.5" rx="1.8" ry="2.5"/><ellipse cx="78.6" cy="24.5" rx="1.8" ry="3.8" transform="rotate(-35 78.6 24.5)"/></g><g transform="translate(46 44.7) scale(1.0968 1.0904) translate(-46 -44.8)"><use href="#ct" stroke="#383838" stroke-width="0.95"/></g></g><rect x="0" y="0" width="89.3" height="89.2" fill="none" stroke="#2a2a2a" stroke-width="1.2"/><text x="-6.1" y="2.5" font-size="7.00" fill="#231f20" text-anchor="end">15</text><text x="-6.1" y="17.4" font-size="7.00" fill="#231f20" text-anchor="end">10</text><text x="-6.1" y="32.3" font-size="7.00" fill="#231f20" text-anchor="end">5</text><text x="-6.1" y="47.2" font-size="7.00" fill="#231f20" text-anchor="end">0</text><text x="-6.1" y="62.1" font-size="7.00" fill="#231f20" text-anchor="end">−5</text><text x="-6.1" y="77.0" font-size="7.00" fill="#231f20" text-anchor="end">−10</text><text x="20.6" y="102.2" font-size="7.00" fill="#231f20" text-anchor="middle">−10</text><text x="46.0" y="102.2" font-size="7.00" fill="#231f20" text-anchor="middle">0</text><text x="71.5" y="102.2" font-size="7.00" fill="#231f20" text-anchor="middle">10</text><text x="84.2" y="102.2" font-size="7.00" fill="#231f20" text-anchor="middle">15</text><path d="M-2.8 0.0H0M-2.8 14.9H0M-2.8 29.8H0M-2.8 44.7H0M-2.8 59.6H0M-2.8 74.5H0M20.6 89.2v2.6M46.0 89.2v2.6M71.5 89.2v2.6M84.2 89.2v2.6" stroke="#2a2a2a" stroke-width="1" fill="none"/><text x="3.2" y="83.0" font-size="8.60" fill="#333" textLength="26.3" lengthAdjust="spacingAndGlyphs">C/EBPα</text></g>
<g transform="translate(398.9 244.1)"><g clip-path="url(#pclip)"><g filter="url(#hm)"><g clip-path="url(#cclip)"><rect x="-5" y="-5" width="100" height="100" fill="#2d2d2d"/><path d="M46.5 4.4C47.9 4.0 48.8 3.6 50.0 3.5C51.2 3.4 52.2 4.0 53.5 4.0C54.8 4.0 56.7 3.3 58.0 3.5C59.3 3.7 60.4 4.4 61.1 5.3C61.8 6.2 61.8 7.8 62.4 8.8C63.0 9.8 64.1 10.8 65.0 11.5C65.9 12.2 66.7 12.7 67.7 12.8C68.7 13.0 69.9 12.2 71.2 12.4C72.5 12.6 74.5 13.2 75.7 14.2C76.9 15.2 78.0 17.3 78.3 18.6C78.6 19.9 77.7 21.0 77.4 22.0C77.1 23.0 76.3 24.1 76.5 24.8C76.7 25.6 77.4 26.1 78.3 26.5C79.2 26.9 80.9 26.6 81.9 27.0C82.9 27.4 83.6 28.2 84.5 29.2C85.4 30.1 86.6 31.4 87.2 32.7C87.8 34.0 88.3 35.9 88.0 37.2C87.7 38.5 86.3 39.5 85.4 40.7C84.5 41.9 83.5 43.0 82.8 44.5C82.1 46.0 81.8 48.0 81.0 49.8C80.2 51.6 79.2 53.3 78.3 55.1C77.4 56.9 76.6 58.6 75.7 60.4C74.8 62.2 73.8 64.1 73.0 65.7C72.2 67.3 72.1 69.0 71.2 70.2C70.3 71.4 68.7 72.1 67.7 72.8C66.7 73.5 65.9 73.6 65.0 74.6C64.1 75.6 63.7 78.0 62.4 79.0C61.1 80.0 59.2 80.3 57.1 80.8C55.0 81.2 52.1 81.3 50.0 81.7C47.9 82.1 45.7 82.3 44.7 83.0C43.7 83.7 45.0 85.4 44.2 86.0C43.4 86.6 41.1 86.9 39.8 86.5C38.5 86.1 36.7 84.5 36.3 83.4C35.9 82.3 37.4 80.9 37.2 79.9C37.1 78.9 36.4 77.9 35.4 77.2C34.4 76.5 32.5 75.9 31.0 75.5C29.5 75.1 27.8 74.9 26.5 74.6C25.2 74.3 24.3 74.4 23.0 73.7C21.7 73.0 19.5 71.4 18.6 70.2C17.7 69.0 18.3 68.2 17.7 66.6C17.1 65.0 15.9 62.3 15.0 60.4C14.1 58.5 13.3 57.0 12.4 55.1C11.5 53.2 10.4 50.7 9.5 48.9C8.6 47.1 7.5 46.0 7.2 44.5C6.9 43.0 7.4 41.4 7.6 40.0C7.8 38.6 8.0 37.5 8.4 36.0C8.9 34.5 9.5 32.3 10.3 31.0C11.1 29.7 12.1 29.2 13.3 28.3C14.5 27.4 16.2 26.6 17.7 25.7C19.2 24.8 20.8 23.8 22.1 23.0C23.4 22.2 24.4 20.9 25.7 20.8C27.0 20.7 28.8 22.2 30.0 22.1C31.2 22.0 32.2 21.6 32.7 20.4C33.2 19.2 32.2 16.8 32.7 15.0C33.2 13.2 34.5 11.1 35.4 9.7C36.3 8.3 37.0 7.2 38.0 6.6C39.0 6.0 40.2 6.6 41.6 6.2C43.0 5.8 45.1 4.9 46.5 4.4Z" fill="none" stroke="#404040" stroke-width="5.0" filter="url(#b2)"/><ellipse cx="24.0" cy="53.0" rx="13.0" ry="13.0" fill="#171717" fill-opacity="1.00" filter="url(#b5)"/><ellipse cx="70.0" cy="50.0" rx="8.0" ry="10.0" fill="#3d3d3d" fill-opacity="1.00" filter="url(#b4)"/><ellipse cx="50.0" cy="72.0" rx="10.0" ry="6.0" fill="#262626" fill-opacity="1.00" filter="url(#b4)"/><ellipse cx="60.0" cy="18.0" rx="4.5" ry="6.5" fill="#8c8c8c" fill-opacity="1.00" filter="url(#b2)"/><ellipse cx="60.5" cy="17.0" rx="2.5" ry="4.5" fill="#c7c7c7" fill-opacity="1.00" filter="url(#b1_2)"/></g></g><g fill="#fff" fill-opacity="0.8" filter="url(#b1)"><ellipse cx="65" cy="20" rx="1.6" ry="5.5" transform="rotate(8 65 20)"/><ellipse cx="64.5" cy="9.5" rx="1.8" ry="2.5"/><ellipse cx="78.6" cy="24.5" rx="1.8" ry="3.8" transform="rotate(-35 78.6 24.5)"/></g><g transform="translate(46 44.7) scale(1.0968 1.0904) translate(-46 -44.8)"><use href="#ct" stroke="#383838" stroke-width="0.95"/></g></g><rect x="0" y="0" width="89.3" height="89.2" fill="none" stroke="#2a2a2a" stroke-width="1.2"/><text x="-6.1" y="2.5" font-size="7.00" fill="#231f20" text-anchor="end">15</text><text x="-6.1" y="17.4" font-size="7.00" fill="#231f20" text-anchor="end">10</text><text x="-6.1" y="32.3" font-size="7.00" fill="#231f20" text-anchor="end">5</text><text x="-6.1" y="47.2" font-size="7.00" fill="#231f20" text-anchor="end">0</text><text x="-6.1" y="62.1" font-size="7.00" fill="#231f20" text-anchor="end">−5</text><text x="-6.1" y="77.0" font-size="7.00" fill="#231f20" text-anchor="end">−10</text><text x="20.6" y="102.2" font-size="7.00" fill="#231f20" text-anchor="middle">−10</text><text x="46.0" y="102.2" font-size="7.00" fill="#231f20" text-anchor="middle">0</text><text x="71.5" y="102.2" font-size="7.00" fill="#231f20" text-anchor="middle">10</text><text x="84.2" y="102.2" font-size="7.00" fill="#231f20" text-anchor="middle">15</text><path d="M-2.8 0.0H0M-2.8 14.9H0M-2.8 29.8H0M-2.8 44.7H0M-2.8 59.6H0M-2.8 74.5H0M20.6 89.2v2.6M46.0 89.2v2.6M71.5 89.2v2.6M84.2 89.2v2.6" stroke="#2a2a2a" stroke-width="1" fill="none"/><text x="3.6" y="83.0" font-size="8.60" fill="#333" textLength="22.4" lengthAdjust="spacingAndGlyphs">pCRKL</text></g>
<g transform="translate(285.3 354.7)"><g clip-path="url(#pclip)"><g filter="url(#hm)"><g clip-path="url(#cclip)"><rect x="-5" y="-5" width="100" height="100" fill="#0a0a0a"/><ellipse cx="67.0" cy="68.0" rx="5.0" ry="5.0" fill="#858585" fill-opacity="1.00" filter="url(#b2_5)"/><ellipse cx="84.0" cy="35.0" rx="4.0" ry="6.0" fill="#6b6b6b" fill-opacity="1.00" filter="url(#b2_5)"/><ellipse cx="47.0" cy="78.0" rx="6.0" ry="2.0" fill="#383838" fill-opacity="1.00" filter="url(#b2)"/><path d="M27.9 37.6h1.1v1.1h-1.1zM53.8 74.9h1.1v1.1h-1.1zM48.8 7.6h1.1v1.1h-1.1zM35.9 76.2h1.1v1.1h-1.1zM40.9 70.0h1.1v1.1h-1.1zM71.1 36.0h1.1v1.1h-1.1zM31.3 23.4h1.1v1.1h-1.1zM62.2 33.5h1.1v1.1h-1.1zM63.4 10.4h1.1v1.1h-1.1zM20.1 49.2h1.1v1.1h-1.1zM75.7 39.2h1.1v1.1h-1.1zM31.2 31.9h1.1v1.1h-1.1zM39.3 12.9h1.1v1.1h-1.1zM37.5 13.1h1.1v1.1h-1.1zM13.1 52.3h1.1v1.1h-1.1zM50.9 25.1h1.1v1.1h-1.1zM63.5 47.9h1.1v1.1h-1.1zM51.3 12.7h1.1v1.1h-1.1zM35.3 45.0h1.1v1.1h-1.1zM73.9 22.3h1.1v1.1h-1.1zM54.4 42.9h1.1v1.1h-1.1zM37.1 73.6h1.1v1.1h-1.1zM62.9 33.8h1.1v1.1h-1.1zM19.8 47.4h1.1v1.1h-1.1zM81.4 32.7h1.1v1.1h-1.1z" fill="#595959" fill-opacity="1.00"/><path d="M60.7 20.4h1.1v1.1h-1.1zM69.4 52.3h1.1v1.1h-1.1zM82.1 32.0h1.1v1.1h-1.1zM62.1 20.1h1.1v1.1h-1.1zM60.1 32.4h1.1v1.1h-1.1zM68.0 31.0h1.1v1.1h-1.1zM73.2 34.6h1.1v1.1h-1.1zM66.4 47.3h1.1v1.1h-1.1zM72.7 22.6h1.1v1.1h-1.1zM61.8 62.9h1.1v1.1h-1.1zM75.8 55.6h1.1v1.1h-1.1zM65.4 44.7h1.1v1.1h-1.1zM69.2 47.5h1.1v1.1h-1.1zM66.3 56.0h1.1v1.1h-1.1zM85.7 34.4h1.1v1.1h-1.1zM69.1 43.0h1.1v1.1h-1.1zM81.6 37.5h1.1v1.1h-1.1zM71.1 41.8h1.1v1.1h-1.1zM63.1 60.4h1.1v1.1h-1.1zM72.9 42.3h1.1v1.1h-1.1z" fill="#737373" fill-opacity="1.00"/></g></g><g fill="#fff" fill-opacity="0.8" filter="url(#b1)"><ellipse cx="65" cy="20" rx="1.6" ry="5.5" transform="rotate(8 65 20)"/><ellipse cx="64.5" cy="9.5" rx="1.8" ry="2.5"/><ellipse cx="78.6" cy="24.5" rx="1.8" ry="3.8" transform="rotate(-35 78.6 24.5)"/></g><g transform="translate(46 44.7) scale(1.0968 1.0904) translate(-46 -44.8)"><use href="#ct" stroke="#383838" stroke-width="0.95"/></g></g><rect x="0" y="0" width="89.3" height="89.2" fill="none" stroke="#2a2a2a" stroke-width="1.2"/><text x="-6.1" y="2.5" font-size="7.00" fill="#231f20" text-anchor="end">15</text><text x="-6.1" y="17.4" font-size="7.00" fill="#231f20" text-anchor="end">10</text><text x="-6.1" y="32.3" font-size="7.00" fill="#231f20" text-anchor="end">5</text><text x="-6.1" y="47.2" font-size="7.00" fill="#231f20" text-anchor="end">0</text><text x="-6.1" y="62.1" font-size="7.00" fill="#231f20" text-anchor="end">−5</text><text x="-6.1" y="77.0" font-size="7.00" fill="#231f20" text-anchor="end">−10</text><text x="20.6" y="102.2" font-size="7.00" fill="#231f20" text-anchor="middle">−10</text><text x="46.0" y="102.2" font-size="7.00" fill="#231f20" text-anchor="middle">0</text><text x="71.5" y="102.2" font-size="7.00" fill="#231f20" text-anchor="middle">10</text><text x="84.2" y="102.2" font-size="7.00" fill="#231f20" text-anchor="middle">15</text><path d="M-2.8 0.0H0M-2.8 14.9H0M-2.8 29.8H0M-2.8 44.7H0M-2.8 59.6H0M-2.8 74.5H0M20.6 89.2v2.6M46.0 89.2v2.6M71.5 89.2v2.6M84.2 89.2v2.6" stroke="#2a2a2a" stroke-width="1" fill="none"/><text x="1.9" y="83.0" font-size="8.60" fill="#333" textLength="18.0" lengthAdjust="spacingAndGlyphs">PAX5</text></g>
<g transform="translate(398.9 354.7)"><g clip-path="url(#pclip)"><g filter="url(#hmr)"><g clip-path="url(#cclip)"><rect x="-5" y="-5" width="100" height="100" fill="#696969"/><path d="M46.5 4.4C47.9 4.0 48.8 3.6 50.0 3.5C51.2 3.4 52.2 4.0 53.5 4.0C54.8 4.0 56.7 3.3 58.0 3.5C59.3 3.7 60.4 4.4 61.1 5.3C61.8 6.2 61.8 7.8 62.4 8.8C63.0 9.8 64.1 10.8 65.0 11.5C65.9 12.2 66.7 12.7 67.7 12.8C68.7 13.0 69.9 12.2 71.2 12.4C72.5 12.6 74.5 13.2 75.7 14.2C76.9 15.2 78.0 17.3 78.3 18.6C78.6 19.9 77.7 21.0 77.4 22.0C77.1 23.0 76.3 24.1 76.5 24.8C76.7 25.6 77.4 26.1 78.3 26.5C79.2 26.9 80.9 26.6 81.9 27.0C82.9 27.4 83.6 28.2 84.5 29.2C85.4 30.1 86.6 31.4 87.2 32.7C87.8 34.0 88.3 35.9 88.0 37.2C87.7 38.5 86.3 39.5 85.4 40.7C84.5 41.9 83.5 43.0 82.8 44.5C82.1 46.0 81.8 48.0 81.0 49.8C80.2 51.6 79.2 53.3 78.3 55.1C77.4 56.9 76.6 58.6 75.7 60.4C74.8 62.2 73.8 64.1 73.0 65.7C72.2 67.3 72.1 69.0 71.2 70.2C70.3 71.4 68.7 72.1 67.7 72.8C66.7 73.5 65.9 73.6 65.0 74.6C64.1 75.6 63.7 78.0 62.4 79.0C61.1 80.0 59.2 80.3 57.1 80.8C55.0 81.2 52.1 81.3 50.0 81.7C47.9 82.1 45.7 82.3 44.7 83.0C43.7 83.7 45.0 85.4 44.2 86.0C43.4 86.6 41.1 86.9 39.8 86.5C38.5 86.1 36.7 84.5 36.3 83.4C35.9 82.3 37.4 80.9 37.2 79.9C37.1 78.9 36.4 77.9 35.4 77.2C34.4 76.5 32.5 75.9 31.0 75.5C29.5 75.1 27.8 74.9 26.5 74.6C25.2 74.3 24.3 74.4 23.0 73.7C21.7 73.0 19.5 71.4 18.6 70.2C17.7 69.0 18.3 68.2 17.7 66.6C17.1 65.0 15.9 62.3 15.0 60.4C14.1 58.5 13.3 57.0 12.4 55.1C11.5 53.2 10.4 50.7 9.5 48.9C8.6 47.1 7.5 46.0 7.2 44.5C6.9 43.0 7.4 41.4 7.6 40.0C7.8 38.6 8.0 37.5 8.4 36.0C8.9 34.5 9.5 32.3 10.3 31.0C11.1 29.7 12.1 29.2 13.3 28.3C14.5 27.4 16.2 26.6 17.7 25.7C19.2 24.8 20.8 23.8 22.1 23.0C23.4 22.2 24.4 20.9 25.7 20.8C27.0 20.7 28.8 22.2 30.0 22.1C31.2 22.0 32.2 21.6 32.7 20.4C33.2 19.2 32.2 16.8 32.7 15.0C33.2 13.2 34.5 11.1 35.4 9.7C36.3 8.3 37.0 7.2 38.0 6.6C39.0 6.0 40.2 6.6 41.6 6.2C43.0 5.8 45.1 4.9 46.5 4.4Z" fill="none" stroke="#808080" stroke-width="5.0" filter="url(#b2)"/><ellipse cx="50.0" cy="45.0" rx="14.0" ry="12.0" fill="#707070" fill-opacity="1.00" filter="url(#b5)"/><ellipse cx="24.0" cy="62.0" rx="9.0" ry="9.0" fill="#292929" fill-opacity="1.00" filter="url(#b4)"/><ellipse cx="48.0" cy="12.0" rx="10.0" ry="7.0" fill="#383838" fill-opacity="1.00" filter="url(#b3)"/></g></g><g fill="#fff" fill-opacity="0.8" filter="url(#b1)"><ellipse cx="65" cy="20" rx="1.6" ry="5.5" transform="rotate(8 65 20)"/><ellipse cx="64.5" cy="9.5" rx="1.8" ry="2.5"/><ellipse cx="78.6" cy="24.5" rx="1.8" ry="3.8" transform="rotate(-35 78.6 24.5)"/></g><g transform="translate(46 44.7) scale(1.0968 1.0904) translate(-46 -44.8)"><use href="#ct" stroke="#383838" stroke-width="0.95"/></g></g><rect x="0" y="0" width="89.3" height="89.2" fill="none" stroke="#2a2a2a" stroke-width="1.2"/><text x="-6.1" y="2.5" font-size="7.00" fill="#231f20" text-anchor="end">15</text><text x="-6.1" y="17.4" font-size="7.00" fill="#231f20" text-anchor="end">10</text><text x="-6.1" y="32.3" font-size="7.00" fill="#231f20" text-anchor="end">5</text><text x="-6.1" y="47.2" font-size="7.00" fill="#231f20" text-anchor="end">0</text><text x="-6.1" y="62.1" font-size="7.00" fill="#231f20" text-anchor="end">−5</text><text x="-6.1" y="77.0" font-size="7.00" fill="#231f20" text-anchor="end">−10</text><text x="20.6" y="102.2" font-size="7.00" fill="#231f20" text-anchor="middle">−10</text><text x="46.0" y="102.2" font-size="7.00" fill="#231f20" text-anchor="middle">0</text><text x="71.5" y="102.2" font-size="7.00" fill="#231f20" text-anchor="middle">10</text><text x="84.2" y="102.2" font-size="7.00" fill="#231f20" text-anchor="middle">15</text><path d="M-2.8 0.0H0M-2.8 14.9H0M-2.8 29.8H0M-2.8 44.7H0M-2.8 59.6H0M-2.8 74.5H0M20.6 89.2v2.6M46.0 89.2v2.6M71.5 89.2v2.6M84.2 89.2v2.6" stroke="#2a2a2a" stroke-width="1" fill="none"/><text x="3.2" y="83.0" font-size="8.60" fill="#333" textLength="16.6" lengthAdjust="spacingAndGlyphs">IκBα</text></g>
<path d="M264.0 444.2V28.5" stroke="#111" stroke-width="1.1"/><path d="M264.0 22.5L268.3 33.0L264.0 30.5L259.7 33.0Z" fill="#111"/>
<path d="M285.3 463.7H482.8" stroke="#111" stroke-width="1.1"/><path d="M488.8 463.7L478.8 459.4L481.4 463.7L478.8 468.0Z" fill="#111"/>
<text transform="translate(258.7 233.4) rotate(-90)" font-size="8.20" fill="#231f20" text-anchor="middle" textLength="30.6" lengthAdjust="spacingAndGlyphs">t–SNE 2</text>
<text x="388.0" y="479.3" font-size="8.20" fill="#231f20" text-anchor="middle" textLength="29.5" lengthAdjust="spacingAndGlyphs">t–SNE 1</text>
<defs><linearGradient id="cbar" x1="0" y1="0" x2="0" y2="1"><stop offset="0.00" stop-color="#222222"/><stop offset="0.08" stop-color="#262222"/><stop offset="0.12" stop-color="#3a2220"/><stop offset="0.16" stop-color="#55271f"/><stop offset="0.22" stop-color="#8a3028"/><stop offset="0.26" stop-color="#a8362c"/><stop offset="0.33" stop-color="#c83a2e"/><stop offset="0.40" stop-color="#e03c30"/><stop offset="0.48" stop-color="#e6432f"/><stop offset="0.55" stop-color="#e85030"/><stop offset="0.61" stop-color="#e85a30"/><stop offset="0.66" stop-color="#ea6530"/><stop offset="0.73" stop-color="#ef8232"/><stop offset="0.78" stop-color="#f2962f"/><stop offset="0.83" stop-color="#f3a03a"/><stop offset="0.87" stop-color="#e8b060"/><stop offset="0.90" stop-color="#dcc0a0"/><stop offset="0.94" stop-color="#d5c8bd"/><stop offset="1.00" stop-color="#d0ccca"/></linearGradient></defs>
<rect x="491.4" y="22.5" width="7.2" height="421.6" fill="url(#cbar)" stroke="#4a4a4a" stroke-width="0.8"/>
<path d="M498.6 22.5H501.8M498.6 223.8H501.6M498.6 444.1H501.8" stroke="#333" stroke-width="0.8"/>
<text x="504.6" y="24.9" font-size="7.00" fill="#231f20">1</text>
<text x="504.4" y="446.6" font-size="7.00" fill="#231f20">0</text>
<text transform="translate(511.6 223.8) rotate(-90)" font-size="7.50" fill="#231f20" text-anchor="middle" textLength="56.7" lengthAdjust="spacingAndGlyphs">Relative Intensity</text>
<g transform="translate(42.5 509.3)"><g clip-path="url(#pclip)"><path d="M45.6 50.6h0.8v0.8h-0.8zM54.4 64.9h0.8v0.8h-0.8zM21.2 62.2h0.8v0.8h-0.8zM71.8 46.7h0.8v0.8h-0.8zM30.2 36.4h0.8v0.8h-0.8zM55.6 27.8h0.8v0.8h-0.8zM25.8 39.6h0.8v0.8h-0.8zM61.7 68.3h0.8v0.8h-0.8zM50.8 29.6h0.8v0.8h-0.8zM36.5 23.9h0.8v0.8h-0.8zM72.8 36.0h0.8v0.8h-0.8zM30.7 29.3h0.8v0.8h-0.8zM39.1 64.6h0.8v0.8h-0.8zM51.4 41.0h0.8v0.8h-0.8zM19.6 37.7h0.8v0.8h-0.8zM67.7 31.5h0.8v0.8h-0.8zM71.8 22.8h0.8v0.8h-0.8zM60.2 52.7h0.8v0.8h-0.8zM40.9 57.8h0.8v0.8h-0.8zM73.1 22.4h0.8v0.8h-0.8zM24.7 29.4h0.8v0.8h-0.8zM18.9 41.3h0.8v0.8h-0.8zM23.6 45.8h0.8v0.8h-0.8zM51.2 30.3h0.8v0.8h-0.8zM14.3 32.4h0.8v0.8h-0.8zM45.4 48.2h0.8v0.8h-0.8zM51.5 74.2h0.8v0.8h-0.8zM40.8 79.8h0.8v0.8h-0.8zM81.8 38.0h0.8v0.8h-0.8zM47.6 63.6h0.8v0.8h-0.8zM17.2 45.7h0.8v0.8h-0.8zM59.2 33.3h0.8v0.8h-0.8zM52.5 70.6h0.8v0.8h-0.8zM33.4 65.6h0.8v0.8h-0.8zM65.0 70.4h0.8v0.8h-0.8zM33.8 42.0h0.8v0.8h-0.8zM53.7 49.1h0.8v0.8h-0.8zM45.4 56.8h0.8v0.8h-0.8zM66.9 29.3h0.8v0.8h-0.8zM25.9 28.2h0.8v0.8h-0.8zM48.9 33.4h0.8v0.8h-0.8zM79.8 33.4h0.8v0.8h-0.8zM43.6 69.9h0.8v0.8h-0.8zM31.2 25.2h0.8v0.8h-0.8zM27.3 65.8h0.8v0.8h-0.8zM21.6 39.7h0.8v0.8h-0.8zM47.1 41.7h0.8v0.8h-0.8zM32.2 26.7h0.8v0.8h-0.8zM47.9 68.7h0.8v0.8h-0.8zM56.7 43.6h0.8v0.8h-0.8zM37.4 38.1h0.8v0.8h-0.8zM17.1 50.7h0.8v0.8h-0.8zM50.1 71.7h0.8v0.8h-0.8zM78.1 43.4h0.8v0.8h-0.8zM31.0 31.5h0.8v0.8h-0.8zM68.5 39.7h0.8v0.8h-0.8zM47.7 20.1h0.8v0.8h-0.8zM53.7 48.6h0.8v0.8h-0.8zM25.7 32.5h0.8v0.8h-0.8zM33.3 40.6h0.8v0.8h-0.8zM35.4 42.4h0.8v0.8h-0.8zM11.2 43.6h0.8v0.8h-0.8zM51.1 59.7h0.8v0.8h-0.8zM35.0 66.9h0.8v0.8h-0.8zM42.1 29.8h0.8v0.8h-0.8zM78.3 33.5h0.8v0.8h-0.8zM22.7 69.1h0.8v0.8h-0.8zM68.4 42.5h0.8v0.8h-0.8zM78.7 29.0h0.8v0.8h-0.8zM49.4 76.9h0.8v0.8h-0.8zM40.1 62.1h0.8v0.8h-0.8zM46.4 66.1h0.8v0.8h-0.8zM65.1 66.7h0.8v0.8h-0.8zM67.0 33.9h0.8v0.8h-0.8zM59.0 71.6h0.8v0.8h-0.8zM66.0 31.6h0.8v0.8h-0.8zM51.2 20.9h0.8v0.8h-0.8zM28.4 59.1h0.8v0.8h-0.8zM33.5 56.2h0.8v0.8h-0.8zM50.3 53.5h0.8v0.8h-0.8zM72.2 32.3h0.8v0.8h-0.8zM56.9 32.7h0.8v0.8h-0.8zM34.2 71.4h0.8v0.8h-0.8zM68.5 66.2h0.8v0.8h-0.8zM62.4 29.6h0.8v0.8h-0.8zM36.3 68.4h0.8v0.8h-0.8zM25.3 31.1h0.8v0.8h-0.8zM45.9 31.1h0.8v0.8h-0.8zM29.7 30.2h0.8v0.8h-0.8zM25.9 26.6h0.8v0.8h-0.8zM40.9 42.0h0.8v0.8h-0.8zM20.5 31.6h0.8v0.8h-0.8zM40.3 24.6h0.8v0.8h-0.8zM65.4 27.9h0.8v0.8h-0.8zM45.2 28.9h0.8v0.8h-0.8zM62.8 25.6h0.8v0.8h-0.8zM24.6 30.7h0.8v0.8h-0.8zM72.5 47.7h0.8v0.8h-0.8zM41.3 42.9h0.8v0.8h-0.8zM59.0 51.4h0.8v0.8h-0.8zM62.9 48.4h0.8v0.8h-0.8zM73.2 58.9h0.8v0.8h-0.8zM30.3 47.4h0.8v0.8h-0.8zM13.5 46.1h0.8v0.8h-0.8zM42.2 59.4h0.8v0.8h-0.8zM20.0 38.0h0.8v0.8h-0.8zM33.5 24.8h0.8v0.8h-0.8zM51.1 49.0h0.8v0.8h-0.8zM51.2 41.5h0.8v0.8h-0.8zM23.2 58.0h0.8v0.8h-0.8zM25.3 56.3h0.8v0.8h-0.8zM66.7 44.5h0.8v0.8h-0.8zM42.7 25.1h0.8v0.8h-0.8zM60.1 47.4h0.8v0.8h-0.8zM25.7 32.4h0.8v0.8h-0.8zM49.6 36.2h0.8v0.8h-0.8zM35.0 49.3h0.8v0.8h-0.8zM42.4 74.0h0.8v0.8h-0.8zM68.2 66.3h0.8v0.8h-0.8zM64.5 62.8h0.8v0.8h-0.8zM69.6 35.6h0.8v0.8h-0.8zM50.0 32.2h0.8v0.8h-0.8zM27.6 60.7h0.8v0.8h-0.8zM56.3 60.0h0.8v0.8h-0.8zM33.3 27.8h0.8v0.8h-0.8zM21.4 50.7h0.8v0.8h-0.8zM61.7 60.3h0.8v0.8h-0.8zM46.2 55.1h0.8v0.8h-0.8zM25.8 24.0h0.8v0.8h-0.8zM21.8 53.0h0.8v0.8h-0.8zM58.5 63.2h0.8v0.8h-0.8zM65.8 49.0h0.8v0.8h-0.8zM30.5 48.0h0.8v0.8h-0.8zM25.5 61.1h0.8v0.8h-0.8zM39.1 50.0h0.8v0.8h-0.8zM37.5 31.5h0.8v0.8h-0.8zM54.2 67.2h0.8v0.8h-0.8zM36.2 28.4h0.8v0.8h-0.8zM56.1 60.5h0.8v0.8h-0.8zM51.1 73.9h0.8v0.8h-0.8zM52.3 53.6h0.8v0.8h-0.8zM25.5 40.9h0.8v0.8h-0.8zM37.3 37.3h0.8v0.8h-0.8zM30.5 31.9h0.8v0.8h-0.8zM17.8 56.2h0.8v0.8h-0.8zM42.7 72.2h0.8v0.8h-0.8zM34.2 57.0h0.8v0.8h-0.8zM37.0 47.3h0.8v0.8h-0.8zM14.8 47.3h0.8v0.8h-0.8zM63.5 71.2h0.8v0.8h-0.8z" fill="#dcb0b0" fill-opacity="0.70"/><g clip-path="url(#topclip)"><path d="M11.7 40.0C11.8 39.2 11.8 38.1 12.0 37.5C12.2 36.9 12.3 37.0 13.0 36.3C13.7 35.6 14.9 33.9 16.0 33.3C17.1 32.7 18.4 32.6 19.5 32.7C20.6 32.9 22.0 34.2 22.9 34.2C23.8 34.2 24.2 33.3 24.7 32.5C25.2 31.7 25.4 30.1 26.0 29.4C26.6 28.7 27.8 28.2 28.6 28.1C29.4 28.0 30.0 28.4 30.7 29.0C31.4 29.6 32.1 31.4 32.9 32.0C33.7 32.6 34.5 32.7 35.5 32.7C36.5 32.7 37.9 32.4 38.9 32.0C39.9 31.6 40.7 30.9 41.7 30.5C42.7 30.1 43.9 29.8 45.0 29.4C46.1 29.0 47.4 28.5 48.5 28.3C49.6 28.1 50.4 28.2 51.5 28.3C52.6 28.4 54.0 28.6 55.0 29.2C56.0 29.8 56.7 30.8 57.5 31.7C58.3 32.6 59.1 33.8 59.9 34.8C60.7 35.8 61.7 36.8 62.4 37.8C63.1 38.8 64.0 40.1 64.2 40.9C64.4 41.7 63.8 42.2 63.6 42.8C63.5 43.4 63.1 44.0 63.3 44.6C63.5 45.2 64.1 45.9 64.8 46.2C65.5 46.5 66.5 46.5 67.3 46.2C68.1 45.9 69.0 45.1 69.8 44.6C70.6 44.1 71.4 43.4 72.2 43.3C73.0 43.1 74.0 43.3 74.7 43.7C75.4 44.1 76.0 44.7 76.2 45.5C76.5 46.3 76.5 47.5 76.2 48.3C76.0 49.1 75.5 49.7 74.7 50.2C73.9 50.7 72.6 51.0 71.6 51.4C70.6 51.8 69.4 52.2 68.8 52.6C68.2 53.0 67.9 53.5 68.2 53.8C68.5 54.1 69.7 54.2 70.4 54.5C71.1 54.8 72.0 55.0 72.2 55.4C72.5 55.8 72.3 56.4 71.9 56.9C71.5 57.4 70.6 57.8 69.8 58.2C69.0 58.6 68.0 59.1 67.3 59.4C66.6 59.7 66.3 59.7 65.5 60.0C64.7 60.3 63.5 60.5 62.3 61.0C61.0 61.5 59.4 62.2 58.0 63.2C56.6 64.2 55.0 66.0 53.7 67.1C52.4 68.2 51.2 69.2 50.2 69.7C49.2 70.2 48.5 70.3 47.6 70.3C46.7 70.3 46.1 70.0 45.0 69.7C43.9 69.4 42.2 68.8 41.1 68.4C40.0 68.0 39.1 67.3 38.5 67.3C37.9 67.3 37.7 67.9 37.2 68.4C36.7 68.9 36.1 70.1 35.5 70.5C34.9 70.9 34.2 71.2 33.3 71.0C32.4 70.8 31.1 70.0 30.3 69.2C29.5 68.4 28.9 67.1 28.6 66.2C28.3 65.3 28.4 64.2 28.6 63.6C28.8 63.0 29.2 62.4 29.9 62.3C30.6 62.1 31.9 62.6 32.9 62.7C33.9 62.8 35.3 63.1 35.9 63.0C36.5 62.9 36.5 62.3 36.3 61.9C36.1 61.5 35.9 60.9 34.6 60.6C33.3 60.4 30.2 60.4 28.6 60.4C27.0 60.4 25.9 60.4 25.1 60.6C24.3 60.9 24.3 61.5 23.8 61.9C23.3 62.3 22.5 63.2 22.1 63.3C21.7 63.4 21.2 62.8 21.2 62.3C21.2 61.8 21.7 61.2 22.1 60.6C22.5 60.0 23.0 59.7 23.4 58.8C23.8 57.9 24.1 56.5 24.2 55.4C24.3 54.3 24.4 52.9 23.8 52.4C23.2 51.9 21.6 52.7 20.8 52.4C20.0 52.1 19.5 51.4 19.0 50.6C18.5 49.8 18.3 48.3 17.7 47.6C17.1 46.9 15.9 46.7 15.1 46.3C14.3 45.9 13.6 45.6 13.0 45.0C12.4 44.4 11.9 43.3 11.7 42.5C11.5 41.7 11.6 40.8 11.7 40.0Z" fill="none" stroke="#dcb0b0" stroke-opacity="0.60" stroke-width="4.0" filter="url(#b1_2)"/></g><g clip-path="url(#lrclip)"><path d="M11.7 40.0C11.8 39.2 11.8 38.1 12.0 37.5C12.2 36.9 12.3 37.0 13.0 36.3C13.7 35.6 14.9 33.9 16.0 33.3C17.1 32.7 18.4 32.6 19.5 32.7C20.6 32.9 22.0 34.2 22.9 34.2C23.8 34.2 24.2 33.3 24.7 32.5C25.2 31.7 25.4 30.1 26.0 29.4C26.6 28.7 27.8 28.2 28.6 28.1C29.4 28.0 30.0 28.4 30.7 29.0C31.4 29.6 32.1 31.4 32.9 32.0C33.7 32.6 34.5 32.7 35.5 32.7C36.5 32.7 37.9 32.4 38.9 32.0C39.9 31.6 40.7 30.9 41.7 30.5C42.7 30.1 43.9 29.8 45.0 29.4C46.1 29.0 47.4 28.5 48.5 28.3C49.6 28.1 50.4 28.2 51.5 28.3C52.6 28.4 54.0 28.6 55.0 29.2C56.0 29.8 56.7 30.8 57.5 31.7C58.3 32.6 59.1 33.8 59.9 34.8C60.7 35.8 61.7 36.8 62.4 37.8C63.1 38.8 64.0 40.1 64.2 40.9C64.4 41.7 63.8 42.2 63.6 42.8C63.5 43.4 63.1 44.0 63.3 44.6C63.5 45.2 64.1 45.9 64.8 46.2C65.5 46.5 66.5 46.5 67.3 46.2C68.1 45.9 69.0 45.1 69.8 44.6C70.6 44.1 71.4 43.4 72.2 43.3C73.0 43.1 74.0 43.3 74.7 43.7C75.4 44.1 76.0 44.7 76.2 45.5C76.5 46.3 76.5 47.5 76.2 48.3C76.0 49.1 75.5 49.7 74.7 50.2C73.9 50.7 72.6 51.0 71.6 51.4C70.6 51.8 69.4 52.2 68.8 52.6C68.2 53.0 67.9 53.5 68.2 53.8C68.5 54.1 69.7 54.2 70.4 54.5C71.1 54.8 72.0 55.0 72.2 55.4C72.5 55.8 72.3 56.4 71.9 56.9C71.5 57.4 70.6 57.8 69.8 58.2C69.0 58.6 68.0 59.1 67.3 59.4C66.6 59.7 66.3 59.7 65.5 60.0C64.7 60.3 63.5 60.5 62.3 61.0C61.0 61.5 59.4 62.2 58.0 63.2C56.6 64.2 55.0 66.0 53.7 67.1C52.4 68.2 51.2 69.2 50.2 69.7C49.2 70.2 48.5 70.3 47.6 70.3C46.7 70.3 46.1 70.0 45.0 69.7C43.9 69.4 42.2 68.8 41.1 68.4C40.0 68.0 39.1 67.3 38.5 67.3C37.9 67.3 37.7 67.9 37.2 68.4C36.7 68.9 36.1 70.1 35.5 70.5C34.9 70.9 34.2 71.2 33.3 71.0C32.4 70.8 31.1 70.0 30.3 69.2C29.5 68.4 28.9 67.1 28.6 66.2C28.3 65.3 28.4 64.2 28.6 63.6C28.8 63.0 29.2 62.4 29.9 62.3C30.6 62.1 31.9 62.6 32.9 62.7C33.9 62.8 35.3 63.1 35.9 63.0C36.5 62.9 36.5 62.3 36.3 61.9C36.1 61.5 35.9 60.9 34.6 60.6C33.3 60.4 30.2 60.4 28.6 60.4C27.0 60.4 25.9 60.4 25.1 60.6C24.3 60.9 24.3 61.5 23.8 61.9C23.3 62.3 22.5 63.2 22.1 63.3C21.7 63.4 21.2 62.8 21.2 62.3C21.2 61.8 21.7 61.2 22.1 60.6C22.5 60.0 23.0 59.7 23.4 58.8C23.8 57.9 24.1 56.5 24.2 55.4C24.3 54.3 24.4 52.9 23.8 52.4C23.2 51.9 21.6 52.7 20.8 52.4C20.0 52.1 19.5 51.4 19.0 50.6C18.5 49.8 18.3 48.3 17.7 47.6C17.1 46.9 15.9 46.7 15.1 46.3C14.3 45.9 13.6 45.6 13.0 45.0C12.4 44.4 11.9 43.3 11.7 42.5C11.5 41.7 11.6 40.8 11.7 40.0Z" fill="none" stroke="#dcb0b0" stroke-opacity="0.60" stroke-width="4.0" filter="url(#b1_2)"/></g><g clip-path="url(#bodyclip)"><ellipse cx="16.0" cy="42.0" rx="6.0" ry="9.0" fill="#c49090" fill-opacity="0.85" filter="url(#b2)"/><ellipse cx="13.5" cy="41.0" rx="3.0" ry="6.0" fill="#a86464" fill-opacity="0.70" filter="url(#b1_5)"/></g><ellipse cx="12.0" cy="42.0" rx="3.0" ry="7.0" fill="#e0c0c0" fill-opacity="0.50" filter="url(#b1_5)"/><ellipse cx="28.0" cy="31.0" rx="3.8" ry="3.2" fill="#5e0c14" fill-opacity="0.95" filter="url(#b1_2)"/><ellipse cx="31.0" cy="33.0" rx="6.0" ry="3.0" fill="#d8a8a8" fill-opacity="0.50" filter="url(#b1_5)"/><ellipse cx="69.6" cy="20.5" rx="4.3" ry="5.3" fill="#e6c4c4" fill-opacity="0.80" transform="rotate(10 69.6 20.5)" filter="url(#b0_8)"/><ellipse cx="58.2" cy="21.5" rx="2.5" ry="5.0" fill="#e6c8c8" fill-opacity="0.70" transform="rotate(20 58.2 21.5)" filter="url(#b0_8)"/><use href="#ct"/></g><rect x="0" y="0" width="89.3" height="89.2" fill="none" stroke="#2a2a2a" stroke-width="1.2"/><text x="-6.1" y="6.5" font-size="7.00" fill="#231f20" text-anchor="end">15</text><text x="-6.1" y="20.2" font-size="7.00" fill="#231f20" text-anchor="end">10</text><text x="-6.1" y="33.9" font-size="7.00" fill="#231f20" text-anchor="end">5</text><text x="-6.1" y="47.5" font-size="7.00" fill="#231f20" text-anchor="end">0</text><text x="-6.1" y="61.1" font-size="7.00" fill="#231f20" text-anchor="end">−5</text><text x="-6.1" y="74.8" font-size="7.00" fill="#231f20" text-anchor="end">−10</text><text x="-6.1" y="88.4" font-size="7.00" fill="#231f20" text-anchor="end">−15</text><text x="22.7" y="102.2" font-size="7.00" fill="#231f20" text-anchor="middle">−10</text><text x="46.0" y="102.2" font-size="7.00" fill="#231f20" text-anchor="middle">0</text><text x="69.2" y="102.2" font-size="7.00" fill="#231f20" text-anchor="middle">10</text><path d="M-2.8 4.0H0M-2.8 17.7H0M-2.8 31.4H0M-2.8 45.0H0M-2.8 58.6H0M-2.8 72.2H0M-2.8 85.9H0M22.7 89.2v2.6M46.0 89.2v2.6M69.2 89.2v2.6" stroke="#2a2a2a" stroke-width="1" fill="none"/><text x="2.5" y="10.6" font-size="8.20" fill="#9a3a3a" textLength="13.0" lengthAdjust="spacingAndGlyphs">P–E</text></g>
<g transform="translate(153.8 509.3)"><g clip-path="url(#pclip)"><use href="#cloud" fill="#e8e4f4" fill-opacity="0.85" filter="url(#b1_5)"/><path d="M58.3 28.9h0.8v0.8h-0.8zM55.0 55.8h0.8v0.8h-0.8zM37.6 68.8h0.8v0.8h-0.8zM59.7 50.1h0.8v0.8h-0.8zM11.4 40.7h0.8v0.8h-0.8zM38.1 22.7h0.8v0.8h-0.8zM36.7 68.6h0.8v0.8h-0.8zM62.9 57.7h0.8v0.8h-0.8zM29.2 57.8h0.8v0.8h-0.8zM25.9 62.9h0.8v0.8h-0.8zM21.2 36.6h0.8v0.8h-0.8zM64.9 52.5h0.8v0.8h-0.8zM51.6 67.6h0.8v0.8h-0.8zM43.6 20.3h0.8v0.8h-0.8zM47.1 52.8h0.8v0.8h-0.8zM74.1 27.3h0.8v0.8h-0.8zM21.5 41.7h0.8v0.8h-0.8zM29.1 69.3h0.8v0.8h-0.8zM26.0 27.1h0.8v0.8h-0.8zM39.4 78.0h0.8v0.8h-0.8zM61.9 60.6h0.8v0.8h-0.8zM19.1 29.0h0.8v0.8h-0.8zM60.6 32.1h0.8v0.8h-0.8zM52.4 57.9h0.8v0.8h-0.8zM46.5 15.5h0.8v0.8h-0.8zM46.5 41.0h0.8v0.8h-0.8zM62.8 46.3h0.8v0.8h-0.8zM68.7 53.5h0.8v0.8h-0.8zM70.4 21.4h0.8v0.8h-0.8zM42.9 14.9h0.8v0.8h-0.8zM19.7 34.7h0.8v0.8h-0.8zM14.0 48.6h0.8v0.8h-0.8zM31.8 35.5h0.8v0.8h-0.8zM50.3 28.4h0.8v0.8h-0.8zM60.2 65.3h0.8v0.8h-0.8zM83.5 34.2h0.8v0.8h-0.8zM16.0 41.7h0.8v0.8h-0.8zM73.7 44.2h0.8v0.8h-0.8zM41.0 72.1h0.8v0.8h-0.8zM53.5 71.8h0.8v0.8h-0.8zM21.0 54.9h0.8v0.8h-0.8zM34.5 30.3h0.8v0.8h-0.8zM23.3 36.7h0.8v0.8h-0.8zM56.0 7.2h0.8v0.8h-0.8zM19.5 49.6h0.8v0.8h-0.8zM36.0 64.1h0.8v0.8h-0.8zM59.7 56.3h0.8v0.8h-0.8zM42.8 63.1h0.8v0.8h-0.8zM44.3 47.5h0.8v0.8h-0.8zM25.3 38.1h0.8v0.8h-0.8zM36.3 43.3h0.8v0.8h-0.8zM76.4 46.5h0.8v0.8h-0.8zM30.8 34.6h0.8v0.8h-0.8zM41.8 35.9h0.8v0.8h-0.8zM68.2 63.2h0.8v0.8h-0.8zM55.8 22.5h0.8v0.8h-0.8zM48.2 27.8h0.8v0.8h-0.8zM59.7 70.5h0.8v0.8h-0.8zM17.4 54.5h0.8v0.8h-0.8zM14.3 41.3h0.8v0.8h-0.8zM35.7 35.2h0.8v0.8h-0.8zM39.7 48.7h0.8v0.8h-0.8zM14.4 49.8h0.8v0.8h-0.8zM43.7 44.3h0.8v0.8h-0.8zM35.2 45.8h0.8v0.8h-0.8zM19.7 43.9h0.8v0.8h-0.8zM34.8 16.8h0.8v0.8h-0.8zM55.0 42.1h0.8v0.8h-0.8zM15.7 50.5h0.8v0.8h-0.8zM24.2 53.3h0.8v0.8h-0.8zM32.1 66.0h0.8v0.8h-0.8zM33.6 69.5h0.8v0.8h-0.8zM33.7 70.5h0.8v0.8h-0.8zM68.9 41.2h0.8v0.8h-0.8zM45.8 12.3h0.8v0.8h-0.8zM30.0 27.3h0.8v0.8h-0.8zM58.6 69.9h0.8v0.8h-0.8zM41.6 59.4h0.8v0.8h-0.8zM37.9 26.6h0.8v0.8h-0.8zM18.5 41.6h0.8v0.8h-0.8zM71.3 40.8h0.8v0.8h-0.8zM25.0 47.2h0.8v0.8h-0.8zM33.3 57.6h0.8v0.8h-0.8zM28.9 57.9h0.8v0.8h-0.8zM70.2 28.8h0.8v0.8h-0.8zM23.8 53.2h0.8v0.8h-0.8zM74.1 44.2h0.8v0.8h-0.8zM47.0 72.0h0.8v0.8h-0.8zM53.9 15.3h0.8v0.8h-0.8zM37.4 14.8h0.8v0.8h-0.8zM62.0 71.3h0.8v0.8h-0.8zM59.0 9.6h0.8v0.8h-0.8zM63.1 69.0h0.8v0.8h-0.8zM22.1 65.8h0.8v0.8h-0.8zM70.2 43.7h0.8v0.8h-0.8zM41.4 39.2h0.8v0.8h-0.8zM49.2 69.9h0.8v0.8h-0.8zM45.7 25.1h0.8v0.8h-0.8zM66.1 47.6h0.8v0.8h-0.8zM36.0 35.2h0.8v0.8h-0.8zM23.9 28.6h0.8v0.8h-0.8zM26.1 48.5h0.8v0.8h-0.8zM40.7 44.9h0.8v0.8h-0.8zM76.0 34.8h0.8v0.8h-0.8zM56.6 48.5h0.8v0.8h-0.8zM38.4 23.9h0.8v0.8h-0.8zM52.2 11.2h0.8v0.8h-0.8zM46.5 52.7h0.8v0.8h-0.8zM48.6 74.8h0.8v0.8h-0.8zM42.3 34.5h0.8v0.8h-0.8zM59.2 39.6h0.8v0.8h-0.8zM43.7 26.0h0.8v0.8h-0.8zM34.4 36.3h0.8v0.8h-0.8zM21.6 64.6h0.8v0.8h-0.8zM39.8 42.7h0.8v0.8h-0.8zM47.6 25.2h0.8v0.8h-0.8zM23.1 48.5h0.8v0.8h-0.8zM22.8 38.1h0.8v0.8h-0.8zM39.4 32.0h0.8v0.8h-0.8zM65.3 46.9h0.8v0.8h-0.8zM72.7 34.9h0.8v0.8h-0.8zM79.6 37.3h0.8v0.8h-0.8zM53.2 30.2h0.8v0.8h-0.8zM50.0 24.1h0.8v0.8h-0.8zM67.1 50.5h0.8v0.8h-0.8zM66.4 40.7h0.8v0.8h-0.8zM73.5 41.2h0.8v0.8h-0.8zM52.1 66.1h0.8v0.8h-0.8zM14.5 45.8h0.8v0.8h-0.8zM34.0 35.3h0.8v0.8h-0.8zM35.8 27.6h0.8v0.8h-0.8zM23.0 29.0h0.8v0.8h-0.8zM47.9 60.2h0.8v0.8h-0.8zM69.4 25.8h0.8v0.8h-0.8zM56.7 54.8h0.8v0.8h-0.8zM60.9 43.2h0.8v0.8h-0.8zM43.3 44.4h0.8v0.8h-0.8zM27.8 47.0h0.8v0.8h-0.8zM40.3 57.0h0.8v0.8h-0.8zM41.1 82.3h0.8v0.8h-0.8zM16.3 48.3h0.8v0.8h-0.8zM72.2 46.5h0.8v0.8h-0.8zM73.2 26.3h0.8v0.8h-0.8zM32.7 51.7h0.8v0.8h-0.8zM56.8 65.5h0.8v0.8h-0.8zM30.0 65.2h0.8v0.8h-0.8zM53.6 55.7h0.8v0.8h-0.8zM44.2 21.2h0.8v0.8h-0.8zM78.5 38.2h0.8v0.8h-0.8zM45.9 48.5h0.8v0.8h-0.8zM55.5 35.5h0.8v0.8h-0.8zM61.8 53.9h0.8v0.8h-0.8zM25.5 54.5h0.8v0.8h-0.8zM61.6 26.9h0.8v0.8h-0.8zM44.5 10.9h0.8v0.8h-0.8zM62.2 41.8h0.8v0.8h-0.8zM23.5 65.4h0.8v0.8h-0.8zM72.9 23.5h0.8v0.8h-0.8zM73.2 56.5h0.8v0.8h-0.8zM65.5 55.5h0.8v0.8h-0.8zM70.8 16.1h0.8v0.8h-0.8zM21.6 47.8h0.8v0.8h-0.8zM66.7 67.1h0.8v0.8h-0.8zM42.5 63.8h0.8v0.8h-0.8zM37.7 54.0h0.8v0.8h-0.8zM63.9 53.3h0.8v0.8h-0.8zM57.4 28.1h0.8v0.8h-0.8zM53.2 30.2h0.8v0.8h-0.8zM79.8 38.2h0.8v0.8h-0.8zM53.6 59.7h0.8v0.8h-0.8zM50.3 10.3h0.8v0.8h-0.8zM47.1 18.3h0.8v0.8h-0.8zM57.2 20.2h0.8v0.8h-0.8zM41.1 80.7h0.8v0.8h-0.8zM32.4 65.2h0.8v0.8h-0.8zM36.0 70.5h0.8v0.8h-0.8zM26.1 67.9h0.8v0.8h-0.8zM50.8 15.7h0.8v0.8h-0.8zM71.5 23.3h0.8v0.8h-0.8zM54.8 59.5h0.8v0.8h-0.8z" fill="#c4bee0" fill-opacity="0.70"/><path d="M11.7 40.0C11.8 39.2 11.8 38.1 12.0 37.5C12.2 36.9 12.3 37.0 13.0 36.3C13.7 35.6 14.9 33.9 16.0 33.3C17.1 32.7 18.4 32.6 19.5 32.7C20.6 32.9 22.0 34.2 22.9 34.2C23.8 34.2 24.2 33.3 24.7 32.5C25.2 31.7 25.4 30.1 26.0 29.4C26.6 28.7 27.8 28.2 28.6 28.1C29.4 28.0 30.0 28.4 30.7 29.0C31.4 29.6 32.1 31.4 32.9 32.0C33.7 32.6 34.5 32.7 35.5 32.7C36.5 32.7 37.9 32.4 38.9 32.0C39.9 31.6 40.7 30.9 41.7 30.5C42.7 30.1 43.9 29.8 45.0 29.4C46.1 29.0 47.4 28.5 48.5 28.3C49.6 28.1 50.4 28.2 51.5 28.3C52.6 28.4 54.0 28.6 55.0 29.2C56.0 29.8 56.7 30.8 57.5 31.7C58.3 32.6 59.1 33.8 59.9 34.8C60.7 35.8 61.7 36.8 62.4 37.8C63.1 38.8 64.0 40.1 64.2 40.9C64.4 41.7 63.8 42.2 63.6 42.8C63.5 43.4 63.1 44.0 63.3 44.6C63.5 45.2 64.1 45.9 64.8 46.2C65.5 46.5 66.5 46.5 67.3 46.2C68.1 45.9 69.0 45.1 69.8 44.6C70.6 44.1 71.4 43.4 72.2 43.3C73.0 43.1 74.0 43.3 74.7 43.7C75.4 44.1 76.0 44.7 76.2 45.5C76.5 46.3 76.5 47.5 76.2 48.3C76.0 49.1 75.5 49.7 74.7 50.2C73.9 50.7 72.6 51.0 71.6 51.4C70.6 51.8 69.4 52.2 68.8 52.6C68.2 53.0 67.9 53.5 68.2 53.8C68.5 54.1 69.7 54.2 70.4 54.5C71.1 54.8 72.0 55.0 72.2 55.4C72.5 55.8 72.3 56.4 71.9 56.9C71.5 57.4 70.6 57.8 69.8 58.2C69.0 58.6 68.0 59.1 67.3 59.4C66.6 59.7 66.3 59.7 65.5 60.0C64.7 60.3 63.5 60.5 62.3 61.0C61.0 61.5 59.4 62.2 58.0 63.2C56.6 64.2 55.0 66.0 53.7 67.1C52.4 68.2 51.2 69.2 50.2 69.7C49.2 70.2 48.5 70.3 47.6 70.3C46.7 70.3 46.1 70.0 45.0 69.7C43.9 69.4 42.2 68.8 41.1 68.4C40.0 68.0 39.1 67.3 38.5 67.3C37.9 67.3 37.7 67.9 37.2 68.4C36.7 68.9 36.1 70.1 35.5 70.5C34.9 70.9 34.2 71.2 33.3 71.0C32.4 70.8 31.1 70.0 30.3 69.2C29.5 68.4 28.9 67.1 28.6 66.2C28.3 65.3 28.4 64.2 28.6 63.6C28.8 63.0 29.2 62.4 29.9 62.3C30.6 62.1 31.9 62.6 32.9 62.7C33.9 62.8 35.3 63.1 35.9 63.0C36.5 62.9 36.5 62.3 36.3 61.9C36.1 61.5 35.9 60.9 34.6 60.6C33.3 60.4 30.2 60.4 28.6 60.4C27.0 60.4 25.9 60.4 25.1 60.6C24.3 60.9 24.3 61.5 23.8 61.9C23.3 62.3 22.5 63.2 22.1 63.3C21.7 63.4 21.2 62.8 21.2 62.3C21.2 61.8 21.7 61.2 22.1 60.6C22.5 60.0 23.0 59.7 23.4 58.8C23.8 57.9 24.1 56.5 24.2 55.4C24.3 54.3 24.4 52.9 23.8 52.4C23.2 51.9 21.6 52.7 20.8 52.4C20.0 52.1 19.5 51.4 19.0 50.6C18.5 49.8 18.3 48.3 17.7 47.6C17.1 46.9 15.9 46.7 15.1 46.3C14.3 45.9 13.6 45.6 13.0 45.0C12.4 44.4 11.9 43.3 11.7 42.5C11.5 41.7 11.6 40.8 11.7 40.0Z" fill="#c0b8e0" fill-opacity="0.90" filter="url(#b1_5)"/><path d="M11.7 40.0C11.8 39.2 11.8 38.1 12.0 37.5C12.2 36.9 12.3 37.0 13.0 36.3C13.7 35.6 14.9 33.9 16.0 33.3C17.1 32.7 18.4 32.6 19.5 32.7C20.6 32.9 22.0 34.2 22.9 34.2C23.8 34.2 24.2 33.3 24.7 32.5C25.2 31.7 25.4 30.1 26.0 29.4C26.6 28.7 27.8 28.2 28.6 28.1C29.4 28.0 30.0 28.4 30.7 29.0C31.4 29.6 32.1 31.4 32.9 32.0C33.7 32.6 34.5 32.7 35.5 32.7C36.5 32.7 37.9 32.4 38.9 32.0C39.9 31.6 40.7 30.9 41.7 30.5C42.7 30.1 43.9 29.8 45.0 29.4C46.1 29.0 47.4 28.5 48.5 28.3C49.6 28.1 50.4 28.2 51.5 28.3C52.6 28.4 54.0 28.6 55.0 29.2C56.0 29.8 56.7 30.8 57.5 31.7C58.3 32.6 59.1 33.8 59.9 34.8C60.7 35.8 61.7 36.8 62.4 37.8C63.1 38.8 64.0 40.1 64.2 40.9C64.4 41.7 63.8 42.2 63.6 42.8C63.5 43.4 63.1 44.0 63.3 44.6C63.5 45.2 64.1 45.9 64.8 46.2C65.5 46.5 66.5 46.5 67.3 46.2C68.1 45.9 69.0 45.1 69.8 44.6C70.6 44.1 71.4 43.4 72.2 43.3C73.0 43.1 74.0 43.3 74.7 43.7C75.4 44.1 76.0 44.7 76.2 45.5C76.5 46.3 76.5 47.5 76.2 48.3C76.0 49.1 75.5 49.7 74.7 50.2C73.9 50.7 72.6 51.0 71.6 51.4C70.6 51.8 69.4 52.2 68.8 52.6C68.2 53.0 67.9 53.5 68.2 53.8C68.5 54.1 69.7 54.2 70.4 54.5C71.1 54.8 72.0 55.0 72.2 55.4C72.5 55.8 72.3 56.4 71.9 56.9C71.5 57.4 70.6 57.8 69.8 58.2C69.0 58.6 68.0 59.1 67.3 59.4C66.6 59.7 66.3 59.7 65.5 60.0C64.7 60.3 63.5 60.5 62.3 61.0C61.0 61.5 59.4 62.2 58.0 63.2C56.6 64.2 55.0 66.0 53.7 67.1C52.4 68.2 51.2 69.2 50.2 69.7C49.2 70.2 48.5 70.3 47.6 70.3C46.7 70.3 46.1 70.0 45.0 69.7C43.9 69.4 42.2 68.8 41.1 68.4C40.0 68.0 39.1 67.3 38.5 67.3C37.9 67.3 37.7 67.9 37.2 68.4C36.7 68.9 36.1 70.1 35.5 70.5C34.9 70.9 34.2 71.2 33.3 71.0C32.4 70.8 31.1 70.0 30.3 69.2C29.5 68.4 28.9 67.1 28.6 66.2C28.3 65.3 28.4 64.2 28.6 63.6C28.8 63.0 29.2 62.4 29.9 62.3C30.6 62.1 31.9 62.6 32.9 62.7C33.9 62.8 35.3 63.1 35.9 63.0C36.5 62.9 36.5 62.3 36.3 61.9C36.1 61.5 35.9 60.9 34.6 60.6C33.3 60.4 30.2 60.4 28.6 60.4C27.0 60.4 25.9 60.4 25.1 60.6C24.3 60.9 24.3 61.5 23.8 61.9C23.3 62.3 22.5 63.2 22.1 63.3C21.7 63.4 21.2 62.8 21.2 62.3C21.2 61.8 21.7 61.2 22.1 60.6C22.5 60.0 23.0 59.7 23.4 58.8C23.8 57.9 24.1 56.5 24.2 55.4C24.3 54.3 24.4 52.9 23.8 52.4C23.2 51.9 21.6 52.7 20.8 52.4C20.0 52.1 19.5 51.4 19.0 50.6C18.5 49.8 18.3 48.3 17.7 47.6C17.1 46.9 15.9 46.7 15.1 46.3C14.3 45.9 13.6 45.6 13.0 45.0C12.4 44.4 11.9 43.3 11.7 42.5C11.5 41.7 11.6 40.8 11.7 40.0Z" fill="none" stroke="#7a72bc" stroke-opacity="0.65" stroke-width="4.0" filter="url(#b2)"/><ellipse cx="42.0" cy="47.0" rx="12.0" ry="9.0" fill="#eeecf8" fill-opacity="0.75" filter="url(#b3)"/><path d="M41.3 44.5h0.8v0.8h-0.8zM57.0 38.8h0.8v0.8h-0.8zM42.0 46.1h0.8v0.8h-0.8zM40.3 52.2h0.8v0.8h-0.8zM47.9 42.7h0.8v0.8h-0.8zM36.5 50.3h0.8v0.8h-0.8zM41.4 43.0h0.8v0.8h-0.8zM25.6 49.9h0.8v0.8h-0.8zM37.4 51.4h0.8v0.8h-0.8zM35.5 46.6h0.8v0.8h-0.8zM39.4 32.5h0.8v0.8h-0.8zM42.3 49.6h0.8v0.8h-0.8zM40.9 47.9h0.8v0.8h-0.8zM56.4 30.9h0.8v0.8h-0.8zM31.8 41.6h0.8v0.8h-0.8zM34.0 43.0h0.8v0.8h-0.8zM28.6 44.2h0.8v0.8h-0.8zM46.8 41.5h0.8v0.8h-0.8zM48.5 53.9h0.8v0.8h-0.8zM50.2 49.1h0.8v0.8h-0.8zM22.4 46.0h0.8v0.8h-0.8zM16.9 34.6h0.8v0.8h-0.8zM48.3 24.4h0.8v0.8h-0.8zM48.6 42.2h0.8v0.8h-0.8zM48.6 58.2h0.8v0.8h-0.8zM41.3 38.8h0.8v0.8h-0.8zM48.2 36.6h0.8v0.8h-0.8zM42.3 46.6h0.8v0.8h-0.8zM52.9 33.1h0.8v0.8h-0.8zM43.9 62.2h0.8v0.8h-0.8zM40.3 62.5h0.8v0.8h-0.8zM51.4 34.0h0.8v0.8h-0.8zM47.4 50.0h0.8v0.8h-0.8zM35.0 45.2h0.8v0.8h-0.8zM23.5 60.9h0.8v0.8h-0.8zM47.1 44.5h0.8v0.8h-0.8zM50.6 59.1h0.8v0.8h-0.8zM40.8 46.6h0.8v0.8h-0.8zM48.2 45.7h0.8v0.8h-0.8zM59.9 55.5h0.8v0.8h-0.8zM44.1 43.7h0.8v0.8h-0.8zM20.8 38.1h0.8v0.8h-0.8zM63.9 46.6h0.8v0.8h-0.8zM54.5 31.1h0.8v0.8h-0.8zM29.3 54.5h0.8v0.8h-0.8zM53.4 35.3h0.8v0.8h-0.8zM26.3 38.2h0.8v0.8h-0.8zM43.1 28.9h0.8v0.8h-0.8zM58.9 38.0h0.8v0.8h-0.8zM45.6 53.7h0.8v0.8h-0.8zM41.1 47.0h0.8v0.8h-0.8zM37.8 62.9h0.8v0.8h-0.8zM53.5 45.6h0.8v0.8h-0.8zM37.2 46.6h0.8v0.8h-0.8zM19.4 42.7h0.8v0.8h-0.8zM36.7 57.9h0.8v0.8h-0.8zM46.5 38.9h0.8v0.8h-0.8zM27.6 52.2h0.8v0.8h-0.8zM46.0 53.5h0.8v0.8h-0.8zM42.4 49.9h0.8v0.8h-0.8zM42.8 62.1h0.8v0.8h-0.8zM41.9 38.9h0.8v0.8h-0.8zM51.0 53.3h0.8v0.8h-0.8zM38.8 58.0h0.8v0.8h-0.8zM47.9 41.1h0.8v0.8h-0.8zM33.3 60.3h0.8v0.8h-0.8zM51.6 37.4h0.8v0.8h-0.8zM30.3 62.7h0.8v0.8h-0.8zM69.5 56.3h0.8v0.8h-0.8zM41.4 44.2h0.8v0.8h-0.8zM50.6 59.5h0.8v0.8h-0.8zM46.2 45.5h0.8v0.8h-0.8zM27.5 36.3h0.8v0.8h-0.8zM30.5 31.1h0.8v0.8h-0.8zM46.5 43.5h0.8v0.8h-0.8zM60.2 55.6h0.8v0.8h-0.8zM42.5 63.4h0.8v0.8h-0.8zM51.5 44.9h0.8v0.8h-0.8zM42.7 41.5h0.8v0.8h-0.8zM36.9 46.7h0.8v0.8h-0.8zM38.1 43.8h0.8v0.8h-0.8zM40.0 47.8h0.8v0.8h-0.8zM55.7 45.5h0.8v0.8h-0.8zM38.2 51.9h0.8v0.8h-0.8zM44.4 37.9h0.8v0.8h-0.8zM39.3 46.1h0.8v0.8h-0.8zM34.6 53.7h0.8v0.8h-0.8zM45.6 42.4h0.8v0.8h-0.8zM53.8 50.0h0.8v0.8h-0.8zM42.6 49.2h0.8v0.8h-0.8zM50.9 52.8h0.8v0.8h-0.8zM35.0 49.8h0.8v0.8h-0.8zM41.1 44.5h0.8v0.8h-0.8zM38.8 56.0h0.8v0.8h-0.8zM42.9 67.8h0.8v0.8h-0.8zM36.2 54.5h0.8v0.8h-0.8zM53.5 44.0h0.8v0.8h-0.8zM43.2 56.0h0.8v0.8h-0.8zM60.8 46.2h0.8v0.8h-0.8zM40.5 49.9h0.8v0.8h-0.8zM49.5 43.9h0.8v0.8h-0.8zM51.1 51.1h0.8v0.8h-0.8zM42.8 39.3h0.8v0.8h-0.8zM49.7 29.2h0.8v0.8h-0.8zM32.3 32.4h0.8v0.8h-0.8zM38.4 45.2h0.8v0.8h-0.8zM38.6 41.5h0.8v0.8h-0.8zM49.7 31.1h0.8v0.8h-0.8zM26.7 49.6h0.8v0.8h-0.8zM54.5 50.2h0.8v0.8h-0.8zM30.0 31.9h0.8v0.8h-0.8zM48.0 49.2h0.8v0.8h-0.8zM42.9 36.0h0.8v0.8h-0.8zM16.7 53.6h0.8v0.8h-0.8zM60.2 54.0h0.8v0.8h-0.8zM47.7 50.9h0.8v0.8h-0.8zM40.2 44.8h0.8v0.8h-0.8zM42.8 40.2h0.8v0.8h-0.8zM45.9 36.6h0.8v0.8h-0.8zM41.4 61.1h0.8v0.8h-0.8zM57.4 40.0h0.8v0.8h-0.8zM51.0 51.8h0.8v0.8h-0.8zM52.0 50.6h0.8v0.8h-0.8zM39.5 56.6h0.8v0.8h-0.8zM53.1 37.2h0.8v0.8h-0.8zM42.9 44.4h0.8v0.8h-0.8zM31.7 47.8h0.8v0.8h-0.8zM38.8 30.5h0.8v0.8h-0.8zM61.9 47.7h0.8v0.8h-0.8zM40.7 48.8h0.8v0.8h-0.8zM32.9 40.2h0.8v0.8h-0.8zM59.5 43.5h0.8v0.8h-0.8zM24.9 49.7h0.8v0.8h-0.8zM51.3 40.9h0.8v0.8h-0.8zM36.0 57.6h0.8v0.8h-0.8zM51.3 36.8h0.8v0.8h-0.8zM37.6 43.8h0.8v0.8h-0.8zM40.2 36.3h0.8v0.8h-0.8zM40.2 38.3h0.8v0.8h-0.8zM49.4 48.5h0.8v0.8h-0.8zM37.1 44.5h0.8v0.8h-0.8zM37.3 54.3h0.8v0.8h-0.8zM47.1 52.1h0.8v0.8h-0.8zM21.0 52.5h0.8v0.8h-0.8zM41.1 43.4h0.8v0.8h-0.8zM27.9 56.2h0.8v0.8h-0.8zM57.7 47.0h0.8v0.8h-0.8zM40.5 41.0h0.8v0.8h-0.8zM50.6 47.6h0.8v0.8h-0.8zM35.0 57.4h0.8v0.8h-0.8z" fill="#ffffff" fill-opacity="0.95"/><ellipse cx="17.0" cy="43.0" rx="5.0" ry="7.0" fill="#a49cd0" fill-opacity="0.70" filter="url(#b2)"/><ellipse cx="31.0" cy="36.0" rx="4.0" ry="3.0" fill="#7a70b8" fill-opacity="0.75" filter="url(#b1_8)"/><ellipse cx="49.0" cy="31.0" rx="3.5" ry="2.2" fill="#261c6c" fill-opacity="0.90" filter="url(#b1_2)"/><ellipse cx="68.0" cy="49.0" rx="5.0" ry="5.0" fill="#5e54a8" fill-opacity="0.75" filter="url(#b2)"/><ellipse cx="47.0" cy="65.5" rx="6.5" ry="3.2" fill="#463c98" fill-opacity="0.85" filter="url(#b1_8)"/><ellipse cx="69.6" cy="20.5" rx="4.3" ry="5.3" fill="#9890c8" fill-opacity="0.85" transform="rotate(10 69.6 20.5)" filter="url(#b0_8)"/><ellipse cx="59.9" cy="75.3" rx="4.5" ry="2.3" fill="#8880c0" fill-opacity="0.85" transform="rotate(-35 59.9 75.3)" filter="url(#b0_8)"/><ellipse cx="58.2" cy="21.5" rx="2.5" ry="5.0" fill="#a098cc" fill-opacity="0.85" transform="rotate(20 58.2 21.5)" filter="url(#b0_8)"/><ellipse cx="66.4" cy="32.4" rx="6.8" ry="3.2" fill="#c8c0e0" fill-opacity="0.60" transform="rotate(32 66.4 32.4)" filter="url(#b0_8)"/><use href="#ct"/></g><rect x="0" y="0" width="89.3" height="89.2" fill="none" stroke="#2a2a2a" stroke-width="1.2"/><text x="-6.1" y="6.5" font-size="7.00" fill="#231f20" text-anchor="end">15</text><text x="-6.1" y="20.2" font-size="7.00" fill="#231f20" text-anchor="end">10</text><text x="-6.1" y="33.9" font-size="7.00" fill="#231f20" text-anchor="end">5</text><text x="-6.1" y="47.5" font-size="7.00" fill="#231f20" text-anchor="end">0</text><text x="-6.1" y="61.1" font-size="7.00" fill="#231f20" text-anchor="end">−5</text><text x="-6.1" y="74.8" font-size="7.00" fill="#231f20" text-anchor="end">−10</text><text x="-6.1" y="88.4" font-size="7.00" fill="#231f20" text-anchor="end">−15</text><text x="22.7" y="102.2" font-size="7.00" fill="#231f20" text-anchor="middle">−10</text><text x="46.0" y="102.2" font-size="7.00" fill="#231f20" text-anchor="middle">0</text><text x="69.2" y="102.2" font-size="7.00" fill="#231f20" text-anchor="middle">10</text><path d="M-2.8 4.0H0M-2.8 17.7H0M-2.8 31.4H0M-2.8 45.0H0M-2.8 58.6H0M-2.8 72.2H0M-2.8 85.9H0M22.7 89.2v2.6M46.0 89.2v2.6M69.2 89.2v2.6" stroke="#2a2a2a" stroke-width="1" fill="none"/><text x="2.5" y="10.6" font-size="8.20" fill="#4b4a8c" textLength="20.5" lengthAdjust="spacingAndGlyphs">P–NM</text></g>
<g transform="translate(264.4 509.3)"><g clip-path="url(#pclip)"><path d="M65.5 17.8h0.8v0.8h-0.8zM56.6 41.0h0.8v0.8h-0.8zM38.5 43.6h0.8v0.8h-0.8zM38.9 70.6h0.8v0.8h-0.8zM22.6 47.8h0.8v0.8h-0.8zM44.6 58.5h0.8v0.8h-0.8zM52.3 18.8h0.8v0.8h-0.8zM43.6 38.7h0.8v0.8h-0.8zM57.2 77.5h0.8v0.8h-0.8zM20.5 52.8h0.8v0.8h-0.8zM47.3 42.1h0.8v0.8h-0.8zM28.5 46.6h0.8v0.8h-0.8zM23.3 62.2h0.8v0.8h-0.8zM32.0 29.8h0.8v0.8h-0.8zM28.2 65.9h0.8v0.8h-0.8zM51.1 59.7h0.8v0.8h-0.8zM39.9 52.5h0.8v0.8h-0.8zM44.8 48.6h0.8v0.8h-0.8zM22.2 51.0h0.8v0.8h-0.8zM20.2 39.8h0.8v0.8h-0.8zM20.5 29.1h0.8v0.8h-0.8zM50.1 19.7h0.8v0.8h-0.8zM59.4 57.0h0.8v0.8h-0.8zM68.6 38.9h0.8v0.8h-0.8zM59.5 38.6h0.8v0.8h-0.8zM27.5 62.7h0.8v0.8h-0.8zM70.8 32.3h0.8v0.8h-0.8zM18.5 50.8h0.8v0.8h-0.8zM50.7 57.8h0.8v0.8h-0.8zM68.3 38.4h0.8v0.8h-0.8zM32.1 31.2h0.8v0.8h-0.8zM46.7 75.0h0.8v0.8h-0.8zM76.3 52.2h0.8v0.8h-0.8zM52.0 49.6h0.8v0.8h-0.8zM67.3 16.6h0.8v0.8h-0.8zM64.6 51.1h0.8v0.8h-0.8zM54.4 74.8h0.8v0.8h-0.8zM22.6 50.8h0.8v0.8h-0.8zM81.6 32.2h0.8v0.8h-0.8zM58.1 34.4h0.8v0.8h-0.8zM68.8 59.7h0.8v0.8h-0.8zM24.7 24.7h0.8v0.8h-0.8zM39.3 46.1h0.8v0.8h-0.8zM53.7 21.3h0.8v0.8h-0.8zM20.5 45.9h0.8v0.8h-0.8zM33.7 60.2h0.8v0.8h-0.8zM28.0 51.7h0.8v0.8h-0.8zM44.5 74.0h0.8v0.8h-0.8zM29.9 60.6h0.8v0.8h-0.8zM49.4 29.6h0.8v0.8h-0.8zM42.0 33.1h0.8v0.8h-0.8zM68.1 33.0h0.8v0.8h-0.8zM35.6 59.7h0.8v0.8h-0.8zM23.7 27.1h0.8v0.8h-0.8zM38.4 61.4h0.8v0.8h-0.8zM72.5 56.3h0.8v0.8h-0.8zM35.0 54.4h0.8v0.8h-0.8zM31.3 41.4h0.8v0.8h-0.8zM29.9 45.7h0.8v0.8h-0.8zM69.0 17.2h0.8v0.8h-0.8zM51.5 30.0h0.8v0.8h-0.8zM58.3 70.3h0.8v0.8h-0.8zM68.6 39.3h0.8v0.8h-0.8zM35.7 25.3h0.8v0.8h-0.8zM62.9 48.8h0.8v0.8h-0.8zM57.2 19.0h0.8v0.8h-0.8zM22.3 67.5h0.8v0.8h-0.8zM45.3 56.8h0.8v0.8h-0.8zM45.0 76.4h0.8v0.8h-0.8zM35.7 49.4h0.8v0.8h-0.8zM70.1 41.1h0.8v0.8h-0.8zM45.4 21.9h0.8v0.8h-0.8zM47.9 26.6h0.8v0.8h-0.8zM43.7 39.6h0.8v0.8h-0.8zM28.0 40.4h0.8v0.8h-0.8zM39.8 59.9h0.8v0.8h-0.8zM46.8 66.4h0.8v0.8h-0.8zM34.9 66.6h0.8v0.8h-0.8zM48.5 38.1h0.8v0.8h-0.8zM72.7 20.5h0.8v0.8h-0.8zM61.9 16.7h0.8v0.8h-0.8zM57.5 48.3h0.8v0.8h-0.8zM41.4 56.4h0.8v0.8h-0.8zM44.7 67.0h0.8v0.8h-0.8zM25.3 53.6h0.8v0.8h-0.8zM52.2 77.8h0.8v0.8h-0.8zM37.5 42.8h0.8v0.8h-0.8zM63.6 57.3h0.8v0.8h-0.8zM49.6 57.1h0.8v0.8h-0.8zM45.5 52.1h0.8v0.8h-0.8zM66.0 42.8h0.8v0.8h-0.8zM78.6 29.7h0.8v0.8h-0.8zM74.9 38.9h0.8v0.8h-0.8zM45.4 17.9h0.8v0.8h-0.8zM42.4 63.7h0.8v0.8h-0.8zM31.4 61.1h0.8v0.8h-0.8zM31.0 61.8h0.8v0.8h-0.8zM29.3 42.1h0.8v0.8h-0.8zM71.9 54.7h0.8v0.8h-0.8zM51.8 47.2h0.8v0.8h-0.8zM60.1 72.2h0.8v0.8h-0.8zM24.6 40.0h0.8v0.8h-0.8zM50.2 26.1h0.8v0.8h-0.8zM22.6 60.1h0.8v0.8h-0.8zM37.2 38.6h0.8v0.8h-0.8zM56.7 20.6h0.8v0.8h-0.8zM24.2 67.4h0.8v0.8h-0.8zM40.7 61.3h0.8v0.8h-0.8zM26.5 62.9h0.8v0.8h-0.8zM51.0 22.7h0.8v0.8h-0.8zM24.0 32.5h0.8v0.8h-0.8zM42.5 52.8h0.8v0.8h-0.8zM28.6 52.2h0.8v0.8h-0.8zM50.4 43.8h0.8v0.8h-0.8zM60.6 50.7h0.8v0.8h-0.8zM20.2 45.8h0.8v0.8h-0.8zM57.9 50.3h0.8v0.8h-0.8zM51.6 37.3h0.8v0.8h-0.8zM76.1 47.5h0.8v0.8h-0.8zM78.9 40.3h0.8v0.8h-0.8z" fill="#a8d0d8" fill-opacity="0.70"/><g clip-path="url(#lrclip)"><path d="M11.7 40.0C11.8 39.2 11.8 38.1 12.0 37.5C12.2 36.9 12.3 37.0 13.0 36.3C13.7 35.6 14.9 33.9 16.0 33.3C17.1 32.7 18.4 32.6 19.5 32.7C20.6 32.9 22.0 34.2 22.9 34.2C23.8 34.2 24.2 33.3 24.7 32.5C25.2 31.7 25.4 30.1 26.0 29.4C26.6 28.7 27.8 28.2 28.6 28.1C29.4 28.0 30.0 28.4 30.7 29.0C31.4 29.6 32.1 31.4 32.9 32.0C33.7 32.6 34.5 32.7 35.5 32.7C36.5 32.7 37.9 32.4 38.9 32.0C39.9 31.6 40.7 30.9 41.7 30.5C42.7 30.1 43.9 29.8 45.0 29.4C46.1 29.0 47.4 28.5 48.5 28.3C49.6 28.1 50.4 28.2 51.5 28.3C52.6 28.4 54.0 28.6 55.0 29.2C56.0 29.8 56.7 30.8 57.5 31.7C58.3 32.6 59.1 33.8 59.9 34.8C60.7 35.8 61.7 36.8 62.4 37.8C63.1 38.8 64.0 40.1 64.2 40.9C64.4 41.7 63.8 42.2 63.6 42.8C63.5 43.4 63.1 44.0 63.3 44.6C63.5 45.2 64.1 45.9 64.8 46.2C65.5 46.5 66.5 46.5 67.3 46.2C68.1 45.9 69.0 45.1 69.8 44.6C70.6 44.1 71.4 43.4 72.2 43.3C73.0 43.1 74.0 43.3 74.7 43.7C75.4 44.1 76.0 44.7 76.2 45.5C76.5 46.3 76.5 47.5 76.2 48.3C76.0 49.1 75.5 49.7 74.7 50.2C73.9 50.7 72.6 51.0 71.6 51.4C70.6 51.8 69.4 52.2 68.8 52.6C68.2 53.0 67.9 53.5 68.2 53.8C68.5 54.1 69.7 54.2 70.4 54.5C71.1 54.8 72.0 55.0 72.2 55.4C72.5 55.8 72.3 56.4 71.9 56.9C71.5 57.4 70.6 57.8 69.8 58.2C69.0 58.6 68.0 59.1 67.3 59.4C66.6 59.7 66.3 59.7 65.5 60.0C64.7 60.3 63.5 60.5 62.3 61.0C61.0 61.5 59.4 62.2 58.0 63.2C56.6 64.2 55.0 66.0 53.7 67.1C52.4 68.2 51.2 69.2 50.2 69.7C49.2 70.2 48.5 70.3 47.6 70.3C46.7 70.3 46.1 70.0 45.0 69.7C43.9 69.4 42.2 68.8 41.1 68.4C40.0 68.0 39.1 67.3 38.5 67.3C37.9 67.3 37.7 67.9 37.2 68.4C36.7 68.9 36.1 70.1 35.5 70.5C34.9 70.9 34.2 71.2 33.3 71.0C32.4 70.8 31.1 70.0 30.3 69.2C29.5 68.4 28.9 67.1 28.6 66.2C28.3 65.3 28.4 64.2 28.6 63.6C28.8 63.0 29.2 62.4 29.9 62.3C30.6 62.1 31.9 62.6 32.9 62.7C33.9 62.8 35.3 63.1 35.9 63.0C36.5 62.9 36.5 62.3 36.3 61.9C36.1 61.5 35.9 60.9 34.6 60.6C33.3 60.4 30.2 60.4 28.6 60.4C27.0 60.4 25.9 60.4 25.1 60.6C24.3 60.9 24.3 61.5 23.8 61.9C23.3 62.3 22.5 63.2 22.1 63.3C21.7 63.4 21.2 62.8 21.2 62.3C21.2 61.8 21.7 61.2 22.1 60.6C22.5 60.0 23.0 59.7 23.4 58.8C23.8 57.9 24.1 56.5 24.2 55.4C24.3 54.3 24.4 52.9 23.8 52.4C23.2 51.9 21.6 52.7 20.8 52.4C20.0 52.1 19.5 51.4 19.0 50.6C18.5 49.8 18.3 48.3 17.7 47.6C17.1 46.9 15.9 46.7 15.1 46.3C14.3 45.9 13.6 45.6 13.0 45.0C12.4 44.4 11.9 43.3 11.7 42.5C11.5 41.7 11.6 40.8 11.7 40.0Z" fill="none" stroke="#b4dce2" stroke-opacity="0.60" stroke-width="3.0" filter="url(#b1_2)"/></g><ellipse cx="47.0" cy="68.5" rx="7.0" ry="2.3" fill="#78b4c0" fill-opacity="0.70" transform="rotate(-8 47.0 68.5)" filter="url(#b1_5)"/><ellipse cx="41.5" cy="68.0" rx="4.5" ry="2.6" fill="#226f7e" fill-opacity="0.90" transform="rotate(10 41.5 68.0)" filter="url(#b1_2)"/><ellipse cx="45.0" cy="15.0" rx="3.0" ry="2.0" fill="#b8dce2" fill-opacity="0.60" filter="url(#b1)"/><use href="#ct"/></g><rect x="0" y="0" width="89.3" height="89.2" fill="none" stroke="#2a2a2a" stroke-width="1.2"/><text x="-6.1" y="6.5" font-size="7.00" fill="#231f20" text-anchor="end">15</text><text x="-6.1" y="20.2" font-size="7.00" fill="#231f20" text-anchor="end">10</text><text x="-6.1" y="33.9" font-size="7.00" fill="#231f20" text-anchor="end">5</text><text x="-6.1" y="47.5" font-size="7.00" fill="#231f20" text-anchor="end">0</text><text x="-6.1" y="61.1" font-size="7.00" fill="#231f20" text-anchor="end">−5</text><text x="-6.1" y="74.8" font-size="7.00" fill="#231f20" text-anchor="end">−10</text><text x="-6.1" y="88.4" font-size="7.00" fill="#231f20" text-anchor="end">−15</text><text x="22.7" y="102.2" font-size="7.00" fill="#231f20" text-anchor="middle">−10</text><text x="46.0" y="102.2" font-size="7.00" fill="#231f20" text-anchor="middle">0</text><text x="69.2" y="102.2" font-size="7.00" fill="#231f20" text-anchor="middle">10</text><path d="M-2.8 4.0H0M-2.8 17.7H0M-2.8 31.4H0M-2.8 45.0H0M-2.8 58.6H0M-2.8 72.2H0M-2.8 85.9H0M22.7 89.2v2.6M46.0 89.2v2.6M69.2 89.2v2.6" stroke="#2a2a2a" stroke-width="1" fill="none"/><text x="2.5" y="10.6" font-size="8.20" fill="#4c98aa" textLength="12.0" lengthAdjust="spacingAndGlyphs">P–L</text></g>
<path d="M20.8 598.8V515.0" stroke="#111" stroke-width="1.1"/><path d="M20.8 509.0L25.1 519.5L20.8 517.0L16.5 519.5Z" fill="#111"/>
<path d="M42.2 615.4H348.2" stroke="#111" stroke-width="1.1"/><path d="M354.2 615.4L344.2 611.1L346.8 615.4L344.2 619.7Z" fill="#111"/>
<text transform="translate(15.9 554.5) rotate(-90)" font-size="8.20" fill="#231f20" text-anchor="middle" textLength="30.6" lengthAdjust="spacingAndGlyphs">t–SNE 2</text>
<text x="197.4" y="630.9" font-size="8.20" fill="#231f20" text-anchor="middle" textLength="29.5" lengthAdjust="spacingAndGlyphs">t–SNE 1</text>
<path d="M368 524.6H444M368.2 524.6v-3.2M405.9 524.6v-3.2M443.8 524.6v-3.2" stroke="#333" stroke-width="0.9" fill="none"/><text x="406.0" y="506.4" font-size="7.60" fill="#231f20" text-anchor="middle" textLength="75.0" lengthAdjust="spacingAndGlyphs">Distribution Difference</text><text x="368.4" y="517.2" font-size="7.00" fill="#231f20" text-anchor="middle">1.0</text><text x="406.0" y="517.2" font-size="7.00" fill="#231f20" text-anchor="middle">0.5</text><text x="443.8" y="517.2" font-size="7.00" fill="#231f20" text-anchor="middle">0.0</text><path d="M444 532.7H401.9" stroke="#5b7d3a" stroke-width="0.9" fill="none"/><text x="445.8" y="535.3" font-size="7.20" fill="#5b7d3a">MLP</text><path d="M444 542.2H401.9" stroke="#8a8a44" stroke-width="0.9" fill="none"/><text x="445.8" y="544.8" font-size="7.20" fill="#8a8a44">LMPP</text><path d="M444 551.6H397.1" stroke="#4a9db2" stroke-width="0.9" fill="none"/><text x="445.8" y="554.2" font-size="7.20" fill="#4a9db2">P–L</text><path d="M444 561.1H415.8" stroke="#55a6b6" stroke-width="0.9" fill="none"/><text x="445.8" y="563.7" font-size="7.20" fill="#55a6b6">pre–B/NK</text><path d="M444 570.5H415.8" stroke="#4a4a8a" stroke-width="0.9" fill="none"/><text x="445.8" y="573.1" font-size="7.20" fill="#4a4a8a">GMP</text><path d="M444 580.0H419.2" stroke="#3e3e82" stroke-width="0.9" fill="none"/><text x="445.8" y="582.6" font-size="7.20" fill="#3e3e82">P–NM</text><path d="M444 589.5H419.2" stroke="#9c6e9e" stroke-width="0.9" fill="none"/><text x="445.8" y="592.1" font-size="7.20" fill="#9c6e9e">CMP</text><path d="M444 598.9H406.2" stroke="#963636" stroke-width="0.9" fill="none"/><text x="445.8" y="601.5" font-size="7.20" fill="#963636">MEP</text><path d="M444 608.4H397.5" stroke="#2a2a2a" stroke-width="0.9" fill="none"/><text x="445.8" y="611.0" font-size="7.20" fill="#2a2a2a">HSC</text><path d="M444 617.8H382.7" stroke="#a04444" stroke-width="0.9" fill="none"/><text x="445.8" y="620.4" font-size="7.20" fill="#a04444">P–E</text><path d="M444 627.3H374.4" stroke="#a08a52" stroke-width="0.9" fill="none"/><text x="445.8" y="629.9" font-size="7.20" fill="#a08a52">MPP</text><path d="M401.9 532.7V537.4" stroke="#5b7d3a" stroke-width="0.9" fill="none"/><path d="M401.9 537.4V542.2" stroke="#8a8a44" stroke-width="0.9" fill="none"/><path d="M415.8 561.1V565.8" stroke="#55a6b6" stroke-width="0.9" fill="none"/><path d="M415.8 565.8V570.5" stroke="#4a4a8a" stroke-width="0.9" fill="none"/><path d="M397.1 551.6V558.7" stroke="#4a9db2" stroke-width="0.9" fill="none"/><path d="M397.1 558.7V565.8" stroke="#d4cccc" stroke-width="0.9" fill="none"/><path d="M397.1 565.8H415.8" stroke="#d4cccc" stroke-width="0.9" fill="none"/><path d="M419.2 580.0V584.7" stroke="#3e3e82" stroke-width="0.9" fill="none"/><path d="M419.2 584.7V589.5" stroke="#9c6e9e" stroke-width="0.9" fill="none"/><path d="M406.2 584.7H419.2" stroke="#d4cccc" stroke-width="0.9" fill="none"/><path d="M406.2 584.7V591.8" stroke="#d4cccc" stroke-width="0.9" fill="none"/><path d="M406.2 591.8V598.9" stroke="#963636" stroke-width="0.9" fill="none"/><path d="M397.5 591.8H406.2" stroke="#d4cccc" stroke-width="0.9" fill="none"/><path d="M397.5 591.8V600.1" stroke="#d4cccc" stroke-width="0.9" fill="none"/><path d="M397.5 600.1V608.4" stroke="#2a2a2a" stroke-width="0.9" fill="none"/><path d="M386.0 558.7H397.1" stroke="#d4cccc" stroke-width="0.9" fill="none"/><path d="M386.0 600.1H397.5" stroke="#d4cccc" stroke-width="0.9" fill="none"/><path d="M386.0 558.7V600.1" stroke="#d4cccc" stroke-width="0.9" fill="none"/><path d="M382.7 579.4H386.0" stroke="#d4cccc" stroke-width="0.9" fill="none"/><path d="M382.7 579.4V598.6" stroke="#d4cccc" stroke-width="0.9" fill="none"/><path d="M382.7 598.6V617.8" stroke="#a04444" stroke-width="0.9" fill="none"/><path d="M374.4 598.6H382.7" stroke="#d4cccc" stroke-width="0.9" fill="none"/><path d="M374.4 598.6V613.0" stroke="#d4cccc" stroke-width="0.9" fill="none"/><path d="M374.4 613.0V627.3" stroke="#a08a52" stroke-width="0.9" fill="none"/><path d="M371.5 537.4H401.9" stroke="#d4cccc" stroke-width="0.9" fill="none"/><path d="M371.5 613.0H374.4" stroke="#d4cccc" stroke-width="0.9" fill="none"/><path d="M371.5 537.4V613.0" stroke="#d4cccc" stroke-width="0.9" fill="none"/>
</svg></body></html>
